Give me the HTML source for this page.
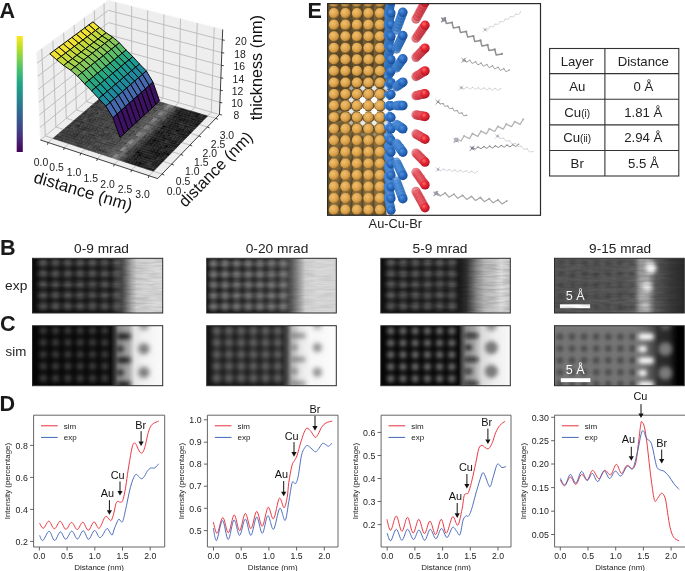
<!DOCTYPE html>
<html><head><meta charset="utf-8"><title>Figure</title>
<style>html,body{margin:0;padding:0;background:#fff;width:685px;height:571px;overflow:hidden}svg{display:block;will-change:transform}</style>
</head><body>
<svg width="685" height="571" viewBox="0 0 685 571" font-family="Liberation Sans, sans-serif">
<defs><filter id="blur1_2" x="-20%" y="-20%" width="140%" height="140%"><feGaussianBlur stdDeviation="1.2"/></filter><filter id="blur1_6" x="-20%" y="-20%" width="140%" height="140%"><feGaussianBlur stdDeviation="1.6"/></filter><filter id="blur2_0" x="-20%" y="-20%" width="140%" height="140%"><feGaussianBlur stdDeviation="2.0"/></filter><filter id="blur2_4" x="-20%" y="-20%" width="140%" height="140%"><feGaussianBlur stdDeviation="2.4"/></filter><filter id="blur2_8" x="-20%" y="-20%" width="140%" height="140%"><feGaussianBlur stdDeviation="2.8"/></filter><filter id="noise" x="0" y="0" width="100%" height="100%"><feTurbulence type="fractalNoise" baseFrequency="0.06 0.45" numOctaves="2" seed="7"/><feColorMatrix type="matrix" values="0 0 0 0 0  0 0 0 0 0  0 0 0 0 0  1.4 0 0 0 -0.5"/><feGaussianBlur stdDeviation="0.6 0.3"/></filter><clipPath id="clipb1"><rect x="32.5" y="258.3" width="130.2" height="54.7"/></clipPath><linearGradient id="gb1" x1="0" y1="0" x2="1" y2="0"><stop offset="0.000" stop-color="#0b0b0b"/><stop offset="0.600" stop-color="#141414"/><stop offset="0.680" stop-color="#3a3a3a"/><stop offset="0.760" stop-color="#a8a8a8"/><stop offset="0.800" stop-color="#cfcfcf"/><stop offset="0.900" stop-color="#d8d8d8"/><stop offset="1.000" stop-color="#dcdcdc"/></linearGradient><clipPath id="clipb2"><rect x="206.7" y="258.3" width="129.6" height="54.7"/></clipPath><linearGradient id="gb2" x1="0" y1="0" x2="1" y2="0"><stop offset="0.000" stop-color="#0e0e0e"/><stop offset="0.550" stop-color="#202020"/><stop offset="0.620" stop-color="#343434"/><stop offset="0.700" stop-color="#8a8a8a"/><stop offset="0.760" stop-color="#d0d0d0"/><stop offset="0.850" stop-color="#dadada"/><stop offset="1.000" stop-color="#d8d8d8"/></linearGradient><clipPath id="clipb3"><rect x="380.8" y="258.3" width="129.5" height="54.7"/></clipPath><linearGradient id="gb3" x1="0" y1="0" x2="1" y2="0"><stop offset="0.000" stop-color="#0e0e0e"/><stop offset="0.600" stop-color="#161616"/><stop offset="0.660" stop-color="#303030"/><stop offset="0.740" stop-color="#8a8a8a"/><stop offset="0.800" stop-color="#b8b8b8"/><stop offset="0.880" stop-color="#c8c8c8"/><stop offset="0.930" stop-color="#e0e0e0"/><stop offset="1.000" stop-color="#c8c8c8"/></linearGradient><clipPath id="clipb4"><rect x="554.5" y="258.3" width="129.8" height="54.7"/></clipPath><linearGradient id="gb4" x1="0" y1="0" x2="1" y2="0"><stop offset="0.000" stop-color="#5a5a5a"/><stop offset="0.550" stop-color="#5c5c5c"/><stop offset="0.620" stop-color="#6a6a6a"/><stop offset="0.660" stop-color="#9a9a9a"/><stop offset="0.720" stop-color="#a0a0a0"/><stop offset="0.780" stop-color="#5a5a5a"/><stop offset="0.900" stop-color="#3a3a3a"/><stop offset="1.000" stop-color="#2a2a2a"/></linearGradient><clipPath id="clipc1"><rect x="32.5" y="325.7" width="130.2" height="60.0"/></clipPath><linearGradient id="gc1" x1="0" y1="0" x2="1" y2="0"><stop offset="0.000" stop-color="#050505"/><stop offset="0.600" stop-color="#080808"/><stop offset="0.630" stop-color="#383838"/><stop offset="0.660" stop-color="#8a8a8a"/><stop offset="0.740" stop-color="#a8a8a8"/><stop offset="0.785" stop-color="#e6e6e6"/><stop offset="0.860" stop-color="#f2f2f2"/><stop offset="1.000" stop-color="#fafafa"/></linearGradient><clipPath id="clipc2"><rect x="206.7" y="325.7" width="129.6" height="60.0"/></clipPath><linearGradient id="gc2" x1="0" y1="0" x2="1" y2="0"><stop offset="0.000" stop-color="#141414"/><stop offset="0.580" stop-color="#181818"/><stop offset="0.620" stop-color="#4a4a4a"/><stop offset="0.660" stop-color="#b8b8b8"/><stop offset="0.720" stop-color="#e6e6e6"/><stop offset="0.800" stop-color="#f6f6f6"/><stop offset="1.000" stop-color="#fcfcfc"/></linearGradient><clipPath id="clipc3"><rect x="380.8" y="325.7" width="129.5" height="60.0"/></clipPath><linearGradient id="gc3" x1="0" y1="0" x2="1" y2="0"><stop offset="0.000" stop-color="#050505"/><stop offset="0.600" stop-color="#080808"/><stop offset="0.630" stop-color="#505050"/><stop offset="0.660" stop-color="#8a8a8a"/><stop offset="0.720" stop-color="#a4a4a4"/><stop offset="0.780" stop-color="#dadada"/><stop offset="0.880" stop-color="#eeeeee"/><stop offset="1.000" stop-color="#f8f8f8"/></linearGradient><clipPath id="clipc4"><rect x="554.5" y="325.7" width="129.8" height="60.0"/></clipPath><linearGradient id="gc4" x1="0" y1="0" x2="1" y2="0"><stop offset="0.000" stop-color="#787878"/><stop offset="0.620" stop-color="#787878"/><stop offset="0.700" stop-color="#686868"/><stop offset="0.760" stop-color="#4c4c4c"/><stop offset="0.800" stop-color="#2e2e2e"/><stop offset="0.880" stop-color="#262626"/><stop offset="0.920" stop-color="#101010"/><stop offset="0.950" stop-color="#000"/><stop offset="1.000" stop-color="#000"/></linearGradient><linearGradient id="cbar" x1="0" y1="0" x2="0" y2="1"><stop offset="0.00" stop-color="#fde725"/><stop offset="0.10" stop-color="#bddf26"/><stop offset="0.20" stop-color="#7ad151"/><stop offset="0.30" stop-color="#44bf70"/><stop offset="0.40" stop-color="#22a884"/><stop offset="0.50" stop-color="#21918c"/><stop offset="0.60" stop-color="#2a788e"/><stop offset="0.70" stop-color="#355f8d"/><stop offset="0.80" stop-color="#414487"/><stop offset="0.90" stop-color="#482475"/><stop offset="1.00" stop-color="#440154"/></linearGradient><clipPath id="eclip"><rect x="327.6" y="3.6" width="212.9" height="211.7"/></clipPath><radialGradient id="gF" cx="0.38" cy="0.35" r="0.65"><stop offset="0" stop-color="#f0c070"/><stop offset="0.55" stop-color="#e0a750"/><stop offset="0.85" stop-color="#c99240"/><stop offset="1" stop-color="#9c7030"/></radialGradient><radialGradient id="gB" cx="0.38" cy="0.35" r="0.65"><stop offset="0" stop-color="#9c7e48"/><stop offset="0.7" stop-color="#786035"/><stop offset="1" stop-color="#4e3e22"/></radialGradient><radialGradient id="cuF" cx="0.38" cy="0.35" r="0.65"><stop offset="0" stop-color="#4f92e0"/><stop offset="0.5" stop-color="#2c6cc0"/><stop offset="0.9" stop-color="#1d55a4"/><stop offset="1" stop-color="#174a90"/></radialGradient><radialGradient id="cuB" cx="0.38" cy="0.35" r="0.65"><stop offset="0" stop-color="#5c9ae2"/><stop offset="0.6" stop-color="#3a7ac8"/><stop offset="1" stop-color="#2462ac"/></radialGradient><radialGradient id="brF" cx="0.38" cy="0.35" r="0.65"><stop offset="0" stop-color="#ff6a6a"/><stop offset="0.45" stop-color="#e82834"/><stop offset="0.9" stop-color="#c01826"/><stop offset="1" stop-color="#a01420"/></radialGradient><radialGradient id="brB" cx="0.38" cy="0.35" r="0.65"><stop offset="0" stop-color="#f07078"/><stop offset="0.6" stop-color="#d8404c"/><stop offset="1" stop-color="#b8303c"/></radialGradient></defs>
<rect width="685" height="571" fill="#fff"/>
<text x="-0.5" y="17.5" font-size="21.6" font-weight="bold" fill="#1a1a1a">A</text>
<text x="307.6" y="17.7" font-size="21.6" font-weight="bold" fill="#1a1a1a">E</text>
<text x="0.0" y="255.4" font-size="21.6" font-weight="bold" fill="#1a1a1a">B</text>
<text x="-0.1" y="330.9" font-size="21.6" font-weight="bold" fill="#1a1a1a">C</text>
<text x="-0.4" y="411.2" font-size="21.6" font-weight="bold" fill="#1a1a1a">D</text>
<rect x="549.6" y="48.5" width="129.19999999999993" height="127.5" fill="none" stroke="#333" stroke-width="1.1"/>
<path d="M549.6,73.6H678.8" stroke="#333" stroke-width="1.1"/>
<path d="M549.6,99.2H678.8" stroke="#333" stroke-width="1.1"/>
<path d="M549.6,124.9H678.8" stroke="#333" stroke-width="1.1"/>
<path d="M549.6,150.5H678.8" stroke="#333" stroke-width="1.1"/>
<path d="M604.9,48.5V176.0" stroke="#333" stroke-width="1.1"/>
<text x="577.2" y="65.9" font-size="13.2" text-anchor="middle" fill="#222">Layer</text>
<text x="643.3" y="65.9" font-size="13.2" text-anchor="middle" fill="#222">Distance</text>
<text x="577.2" y="91.0" font-size="13.2" text-anchor="middle" fill="#222">Au</text>
<text x="643.3" y="91.0" font-size="13.2" text-anchor="middle" fill="#222">0 Å</text>
<text x="577.2" y="116.6" font-size="13.2" text-anchor="middle" fill="#222">Cu<tspan font-size="10">(i)</tspan></text>
<text x="643.3" y="116.6" font-size="13.2" text-anchor="middle" fill="#222">1.81 Å</text>
<text x="577.2" y="142.3" font-size="13.2" text-anchor="middle" fill="#222">Cu<tspan font-size="10">(ii)</tspan></text>
<text x="643.3" y="142.3" font-size="13.2" text-anchor="middle" fill="#222">2.94 Å</text>
<text x="577.2" y="167.9" font-size="13.2" text-anchor="middle" fill="#222">Br</text>
<text x="643.3" y="167.9" font-size="13.2" text-anchor="middle" fill="#222">5.5 Å</text>
<text x="74" y="253.2" font-size="13.4" textLength="54.9" lengthAdjust="spacingAndGlyphs" fill="#222">0-9 mrad</text>
<text x="245.7" y="253.2" font-size="13.4" textLength="62.6" lengthAdjust="spacingAndGlyphs" fill="#222">0-20 mrad</text>
<text x="412.6" y="253.2" font-size="13.4" textLength="54.9" lengthAdjust="spacingAndGlyphs" fill="#222">5-9 mrad</text>
<text x="589.1" y="253.2" font-size="13.4" textLength="62.1" lengthAdjust="spacingAndGlyphs" fill="#222">9-15 mrad</text>
<text x="5.1" y="290.1" font-size="13" textLength="22.2" lengthAdjust="spacingAndGlyphs" fill="#222">exp</text>
<text x="5.6" y="356.1" font-size="13" textLength="20.7" lengthAdjust="spacingAndGlyphs" fill="#222">sim</text>
<text x="368.6" y="228.3" font-size="12.8" fill="#222">Au-Cu-Br</text>
<path d="M33.6,415.2H164.7M33.6,415.2V547.0H164.7" fill="none" stroke="#555" stroke-width="0.9"/>
<path d="M164.7,415.2V547.0" stroke="#555" stroke-width="0.9"/>
<path d="M30.1,541.4H33.6" stroke="#555" stroke-width="0.9"/>
<text x="27.8" y="544.6" font-size="8.8" text-anchor="end" fill="#222">0.2</text>
<path d="M30.1,509.4H33.6" stroke="#555" stroke-width="0.9"/>
<text x="27.8" y="512.6" font-size="8.8" text-anchor="end" fill="#222">0.4</text>
<path d="M30.1,477.4H33.6" stroke="#555" stroke-width="0.9"/>
<text x="27.8" y="480.59999999999997" font-size="8.8" text-anchor="end" fill="#222">0.6</text>
<path d="M30.1,445.4H33.6" stroke="#555" stroke-width="0.9"/>
<text x="27.8" y="448.59999999999997" font-size="8.8" text-anchor="end" fill="#222">0.8</text>
<path d="M39.4,547.0V550.5" stroke="#555" stroke-width="0.9"/>
<text x="39.4" y="559.4" font-size="8.7" text-anchor="middle" fill="#222">0.0</text>
<path d="M67.1,547.0V550.5" stroke="#555" stroke-width="0.9"/>
<text x="67.1" y="559.4" font-size="8.7" text-anchor="middle" fill="#222">0.5</text>
<path d="M94.8,547.0V550.5" stroke="#555" stroke-width="0.9"/>
<text x="94.8" y="559.4" font-size="8.7" text-anchor="middle" fill="#222">1.0</text>
<path d="M122.5,547.0V550.5" stroke="#555" stroke-width="0.9"/>
<text x="122.5" y="559.4" font-size="8.7" text-anchor="middle" fill="#222">1.5</text>
<path d="M150.2,547.0V550.5" stroke="#555" stroke-width="0.9"/>
<text x="150.2" y="559.4" font-size="8.7" text-anchor="middle" fill="#222">2.0</text>
<text x="99.1" y="569.8" font-size="8" text-anchor="middle" fill="#222">Distance (nm)</text>
<text transform="translate(10.4,481.1) rotate(-90)" font-size="7.9" text-anchor="middle" fill="#222">Intensity (percentage)</text>
<path d="M41.0,425.8h16.7" stroke="#e8303a" stroke-width="1"/>
<path d="M41.0,437.4h16.7" stroke="#4466bb" stroke-width="1"/>
<text x="63.8" y="428.7" font-size="8" fill="#222">sim</text>
<text x="63.8" y="440.3" font-size="8" fill="#222">exp</text>
<path d="M39.6,523.2C40.2,524.1 41.9,528.6 43.4,528.3C44.9,527.9 47.0,521.0 48.8,521.1C50.6,521.2 52.5,528.8 54.4,528.8C56.3,528.8 58.3,521.2 60.2,521.3C62.1,521.4 63.9,529.1 65.8,529.3C67.7,529.5 69.7,522.4 71.6,522.4C73.5,522.4 75.3,529.5 77.2,529.5C79.1,529.5 81.0,522.1 82.8,522.2C84.6,522.3 86.4,530.3 88.3,530.3C90.2,530.2 92.2,522.2 94.0,521.9C95.8,521.6 97.3,529.2 99.2,528.3C101.1,527.4 103.6,517.9 105.5,516.6C107.4,515.3 109.5,520.9 110.8,520.6C112.1,520.3 112.5,517.6 113.4,514.7C114.3,511.9 115.2,505.7 116.0,503.5C116.8,501.3 117.3,501.5 118.0,501.3C118.7,501.1 119.5,502.2 120.2,502.2C120.9,502.2 121.6,502.5 122.2,501.5C122.8,500.5 123.3,498.9 123.9,496.3C124.5,493.7 125.2,490.2 125.9,485.8C126.6,481.4 127.2,475.9 128.1,470.2C129.0,464.5 130.4,456.1 131.2,451.8C132.0,447.5 132.4,445.9 133.0,444.4C133.6,442.9 134.0,443.0 134.5,443.0C135.0,443.0 135.4,443.2 136.1,444.4C136.8,445.5 137.7,448.5 138.5,449.9C139.3,451.3 140.2,452.7 141.0,453.0C141.8,453.3 142.4,453.0 143.1,451.8C143.8,450.6 144.5,448.5 145.3,445.6C146.1,442.7 146.9,437.7 147.7,434.6C148.5,431.6 149.3,429.1 150.2,427.3C151.1,425.5 151.8,424.6 153.2,423.6C154.6,422.6 157.8,421.5 158.7,421.1" fill="none" stroke="#e8303a" stroke-width="0.95"/>
<path d="M39.6,535.4C40.1,536.2 41.3,541.2 42.9,540.5C44.5,539.8 47.1,531.3 49.1,531.3C51.1,531.3 52.7,540.4 54.6,540.5C56.5,540.6 58.4,532.1 60.3,531.9C62.2,531.7 63.9,539.4 65.8,539.3C67.7,539.2 69.9,531.1 71.8,531.1C73.7,531.1 75.5,539.0 77.4,539.0C79.3,539.0 81.3,530.8 83.2,530.8C85.1,530.8 86.7,539.3 88.6,539.3C90.5,539.2 92.6,530.8 94.5,530.5C96.4,530.2 98.2,538.0 100.2,537.7C102.2,537.4 105.1,529.9 106.6,528.8C108.1,527.7 108.3,530.1 109.2,531.1C110.1,532.1 111.2,535.5 112.1,535.0C113.0,534.5 113.6,530.4 114.7,527.8C115.8,525.2 117.5,520.3 118.6,519.3C119.7,518.3 120.5,521.8 121.3,521.9C122.1,522.0 122.3,522.6 123.2,519.9C124.1,517.2 125.5,510.0 126.5,505.5C127.5,501.0 128.2,496.8 129.1,493.0C130.0,489.2 130.7,485.6 131.8,482.5C132.9,479.4 134.4,475.5 135.5,474.5C136.6,473.5 137.5,475.6 138.5,476.3C139.5,477.0 140.4,478.6 141.3,478.7C142.2,478.8 143.0,478.1 144.0,476.9C145.0,475.7 146.1,472.8 147.1,471.4C148.1,470.0 149.3,468.9 150.2,468.3C151.1,467.7 151.8,468.1 152.6,468.0C153.4,467.9 154.1,468.4 155.1,467.7C156.1,467.0 158.1,464.4 158.7,463.8" fill="none" stroke="#4466bb" stroke-width="0.95"/>
<text x="140.8" y="429.3" font-size="10.9" text-anchor="middle" fill="#111">Br</text>
<path d="M141.1,431.2V441.7" stroke="#111" stroke-width="1"/>
<path d="M138.5,441.4L143.7,441.4L141.1,446.0Z" fill="#111"/>
<text x="117.7" y="478.9" font-size="10.9" text-anchor="middle" fill="#111">Cu</text>
<path d="M120.0,481.5V491.3" stroke="#111" stroke-width="1"/>
<path d="M117.4,491.0L122.6,491.0L120.0,495.6Z" fill="#111"/>
<text x="107.5" y="497.0" font-size="10.9" text-anchor="middle" fill="#111">Au</text>
<path d="M109.4,500.2V510.5" stroke="#111" stroke-width="1"/>
<path d="M106.8,510.2L112.0,510.2L109.4,514.8Z" fill="#111"/>
<path d="M207.4,415.2H338.0M207.4,415.2V547.0H338.0" fill="none" stroke="#555" stroke-width="0.9"/>
<path d="M338.0,415.2V547.0" stroke="#555" stroke-width="0.9"/>
<path d="M203.9,530.6H207.4" stroke="#555" stroke-width="0.9"/>
<text x="201.6" y="533.8000000000001" font-size="8.8" text-anchor="end" fill="#222">0.5</text>
<path d="M203.9,508.3H207.4" stroke="#555" stroke-width="0.9"/>
<text x="201.6" y="511.5" font-size="8.8" text-anchor="end" fill="#222">0.6</text>
<path d="M203.9,486.2H207.4" stroke="#555" stroke-width="0.9"/>
<text x="201.6" y="489.4" font-size="8.8" text-anchor="end" fill="#222">0.7</text>
<path d="M203.9,464.1H207.4" stroke="#555" stroke-width="0.9"/>
<text x="201.6" y="467.3" font-size="8.8" text-anchor="end" fill="#222">0.8</text>
<path d="M203.9,442.2H207.4" stroke="#555" stroke-width="0.9"/>
<text x="201.6" y="445.4" font-size="8.8" text-anchor="end" fill="#222">0.9</text>
<path d="M203.9,419.8H207.4" stroke="#555" stroke-width="0.9"/>
<text x="201.6" y="423.0" font-size="8.8" text-anchor="end" fill="#222">1.0</text>
<path d="M213.5,547.0V550.5" stroke="#555" stroke-width="0.9"/>
<text x="213.5" y="559.4" font-size="8.7" text-anchor="middle" fill="#222">0.0</text>
<path d="M241.2,547.0V550.5" stroke="#555" stroke-width="0.9"/>
<text x="241.2" y="559.4" font-size="8.7" text-anchor="middle" fill="#222">0.5</text>
<path d="M268.9,547.0V550.5" stroke="#555" stroke-width="0.9"/>
<text x="268.9" y="559.4" font-size="8.7" text-anchor="middle" fill="#222">1.0</text>
<path d="M296.6,547.0V550.5" stroke="#555" stroke-width="0.9"/>
<text x="296.6" y="559.4" font-size="8.7" text-anchor="middle" fill="#222">1.5</text>
<path d="M324.3,547.0V550.5" stroke="#555" stroke-width="0.9"/>
<text x="324.3" y="559.4" font-size="8.7" text-anchor="middle" fill="#222">2.0</text>
<text x="272.7" y="569.8" font-size="8" text-anchor="middle" fill="#222">Distance (nm)</text>
<text transform="translate(184.2,481.1) rotate(-90)" font-size="7.9" text-anchor="middle" fill="#222">Intensity (percentage)</text>
<path d="M214.8,425.8h16.7" stroke="#e8303a" stroke-width="1"/>
<path d="M214.8,437.4h16.7" stroke="#4466bb" stroke-width="1"/>
<text x="237.6" y="428.7" font-size="8" fill="#222">sim</text>
<text x="237.6" y="440.3" font-size="8" fill="#222">exp</text>
<path d="M213.3,522.1C214.0,524.0 215.6,534.1 217.2,533.3C218.8,532.5 220.9,517.6 222.8,517.5C224.7,517.4 226.5,533.2 228.4,532.8C230.3,532.4 232.3,515.2 234.2,514.9C236.1,514.6 237.8,531.0 239.6,530.8C241.4,530.5 243.4,513.8 245.3,513.4C247.2,513.0 249.0,529.0 250.9,528.7C252.8,528.4 254.8,511.8 256.7,511.4C258.6,511.0 260.4,526.9 262.3,526.2C264.2,525.5 266.2,508.5 268.1,507.3C270.0,506.1 271.6,520.3 273.5,518.8C275.4,517.3 277.6,500.1 279.3,498.3C281.1,496.5 282.7,508.0 284.0,507.8C285.3,507.6 286.4,501.5 287.2,497.3C288.0,493.1 288.0,487.9 288.8,482.6C289.6,477.4 290.9,469.5 291.9,465.8C292.8,462.1 293.6,462.2 294.5,460.5C295.4,458.8 296.1,458.2 297.1,455.3C298.1,452.4 299.4,446.8 300.6,443.0C301.8,439.2 303.0,435.0 304.1,432.5C305.2,430.0 305.9,428.2 307.1,428.1C308.3,428.0 309.8,430.1 311.1,431.6C312.5,433.2 314.0,436.9 315.2,437.4C316.4,437.8 317.0,436.0 318.1,434.3C319.2,432.6 320.3,429.2 321.6,427.3C322.9,425.4 324.2,423.9 326.0,422.9C327.8,421.9 331.1,421.4 332.1,421.1" fill="none" stroke="#e8303a" stroke-width="0.95"/>
<path d="M213.3,528.2C213.9,530.2 215.1,541.8 216.6,540.5C218.1,539.2 220.6,520.7 222.5,520.5C224.4,520.3 226.3,539.6 228.2,539.5C230.1,539.4 232.1,520.7 234.0,520.0C235.9,519.3 237.7,535.6 239.6,535.4C241.5,535.2 243.4,519.0 245.3,519.0C247.2,519.0 249.0,535.7 250.9,535.4C252.8,535.1 254.8,517.4 256.7,517.0C258.6,516.6 260.4,533.5 262.3,533.3C264.2,533.1 265.9,516.4 267.8,515.7C269.7,515.0 271.5,530.5 273.5,529.3C275.5,528.1 277.9,509.8 279.8,508.3C281.7,506.8 283.6,521.5 285.1,520.4C286.6,519.3 287.7,507.6 288.8,501.5C289.9,495.4 291.1,486.8 291.9,483.6C292.7,480.4 292.9,482.1 293.5,482.1C294.1,482.1 294.8,484.6 295.6,483.6C296.4,482.6 297.2,481.0 298.2,476.3C299.2,471.6 300.4,460.1 301.5,455.3C302.6,450.5 304.0,449.0 305.0,447.4C306.0,445.8 306.4,445.3 307.6,445.6C308.8,445.9 310.7,448.1 312.0,449.1C313.3,450.1 314.3,451.9 315.5,451.8C316.7,451.7 317.8,449.7 319.0,448.3C320.2,446.9 321.3,444.0 322.5,443.4C323.7,442.8 325.0,444.3 326.0,444.8C327.0,445.3 327.6,446.5 328.6,446.2C329.6,445.9 331.5,443.5 332.1,443.0" fill="none" stroke="#4466bb" stroke-width="0.95"/>
<text x="315.0" y="413.4" font-size="10.9" text-anchor="middle" fill="#111">Br</text>
<path d="M315.0,415.8V426.4" stroke="#111" stroke-width="1"/>
<path d="M312.4,426.1L317.6,426.1L315.0,430.7Z" fill="#111"/>
<text x="291.7" y="439.5" font-size="10.9" text-anchor="middle" fill="#111">Cu</text>
<path d="M294.0,442.1V452.4" stroke="#111" stroke-width="1"/>
<path d="M291.4,452.1L296.6,452.1L294.0,456.7Z" fill="#111"/>
<text x="281.5" y="478.4" font-size="10.9" text-anchor="middle" fill="#111">Au</text>
<path d="M283.7,481.0V492.0" stroke="#111" stroke-width="1"/>
<path d="M281.1,491.7L286.3,491.7L283.7,496.3Z" fill="#111"/>
<path d="M381.1,415.2H511.0M381.1,415.2V547.0H511.0" fill="none" stroke="#555" stroke-width="0.9"/>
<path d="M511.0,415.2V547.0" stroke="#555" stroke-width="0.9"/>
<path d="M377.6,524.6H381.1" stroke="#555" stroke-width="0.9"/>
<text x="375.3" y="527.8000000000001" font-size="8.8" text-anchor="end" fill="#222">0.2</text>
<path d="M377.6,501.5H381.1" stroke="#555" stroke-width="0.9"/>
<text x="375.3" y="504.7" font-size="8.8" text-anchor="end" fill="#222">0.3</text>
<path d="M377.6,478.5H381.1" stroke="#555" stroke-width="0.9"/>
<text x="375.3" y="481.7" font-size="8.8" text-anchor="end" fill="#222">0.4</text>
<path d="M377.6,455.5H381.1" stroke="#555" stroke-width="0.9"/>
<text x="375.3" y="458.7" font-size="8.8" text-anchor="end" fill="#222">0.5</text>
<path d="M377.6,432.4H381.1" stroke="#555" stroke-width="0.9"/>
<text x="375.3" y="435.59999999999997" font-size="8.8" text-anchor="end" fill="#222">0.6</text>
<path d="M387.2,547.0V550.5" stroke="#555" stroke-width="0.9"/>
<text x="387.2" y="559.4" font-size="8.7" text-anchor="middle" fill="#222">0.0</text>
<path d="M414.9,547.0V550.5" stroke="#555" stroke-width="0.9"/>
<text x="414.9" y="559.4" font-size="8.7" text-anchor="middle" fill="#222">0.5</text>
<path d="M442.6,547.0V550.5" stroke="#555" stroke-width="0.9"/>
<text x="442.6" y="559.4" font-size="8.7" text-anchor="middle" fill="#222">1.0</text>
<path d="M470.3,547.0V550.5" stroke="#555" stroke-width="0.9"/>
<text x="470.3" y="559.4" font-size="8.7" text-anchor="middle" fill="#222">1.5</text>
<path d="M498.0,547.0V550.5" stroke="#555" stroke-width="0.9"/>
<text x="498.0" y="559.4" font-size="8.7" text-anchor="middle" fill="#222">2.0</text>
<text x="446.1" y="569.8" font-size="8" text-anchor="middle" fill="#222">Distance (nm)</text>
<text transform="translate(357.9,481.1) rotate(-90)" font-size="7.9" text-anchor="middle" fill="#222">Intensity (percentage)</text>
<path d="M388.5,425.8h16.7" stroke="#e8303a" stroke-width="1"/>
<path d="M388.5,437.4h16.7" stroke="#4466bb" stroke-width="1"/>
<text x="411.3" y="428.7" font-size="8" fill="#222">sim</text>
<text x="411.3" y="440.3" font-size="8" fill="#222">exp</text>
<path d="M386.9,519.3C387.5,521.1 389.1,530.8 390.7,530.3C392.3,529.8 394.4,515.8 396.3,516.0C398.2,516.2 400.0,531.2 401.9,531.4C403.8,531.6 405.6,517.0 407.5,517.3C409.4,517.6 411.2,532.8 413.1,533.1C415.0,533.4 416.9,519.2 418.8,519.3C420.7,519.4 422.5,533.3 424.4,533.6C426.3,533.9 428.1,520.9 430.0,521.1C431.9,521.3 433.7,534.9 435.6,534.6C437.5,534.3 439.4,519.5 441.2,519.3C443.0,519.1 444.4,533.6 446.3,533.2C448.2,532.8 450.7,518.1 452.6,516.8C454.5,515.5 456.2,526.4 457.8,525.2C459.4,524.0 460.9,514.4 462.0,509.5C463.1,504.6 463.4,498.4 464.1,495.8C464.8,493.2 465.5,494.2 466.2,493.7C466.9,493.2 467.4,494.6 468.3,492.7C469.2,490.8 470.3,487.1 471.5,482.2C472.7,477.3 474.5,468.9 475.7,463.3C476.9,457.7 477.8,451.6 478.8,448.6C479.9,445.6 480.9,445.6 482.0,445.4C483.1,445.2 484.0,447.0 485.1,447.5C486.2,448.0 487.5,449.5 488.7,448.6C489.9,447.7 491.4,444.9 492.5,442.3C493.6,439.7 494.4,435.6 495.6,432.8C496.8,430.0 498.2,427.4 499.8,425.5C501.4,423.6 504.2,422.0 505.1,421.3" fill="none" stroke="#e8303a" stroke-width="0.95"/>
<path d="M387.1,533.1C387.7,534.4 389.2,541.4 390.7,540.8C392.2,540.2 394.4,529.4 396.3,529.3C398.2,529.2 400.0,540.3 401.9,540.3C403.8,540.3 405.6,529.4 407.5,529.3C409.4,529.2 411.6,539.4 413.5,539.5C415.4,539.6 417.1,529.9 419.0,530.0C420.9,530.1 422.8,540.4 424.7,540.3C426.6,540.2 428.3,529.6 430.2,529.3C432.1,529.0 434.0,538.8 435.9,538.7C437.8,538.6 439.6,528.7 441.5,528.5C443.4,528.3 445.1,537.7 447.0,537.5C448.9,537.3 451.0,528.3 452.6,527.3C454.2,526.3 455.6,530.3 456.8,531.5C458.0,532.7 458.9,536.5 460.0,534.6C461.1,532.7 462.1,523.1 463.1,520.0C464.1,516.9 465.3,516.4 466.2,515.8C467.1,515.2 467.4,517.2 468.3,516.2C469.2,515.2 470.1,513.8 471.5,509.5C472.9,505.2 475.1,496.0 476.7,490.6C478.3,485.2 479.8,479.9 480.9,476.9C481.9,473.9 482.3,472.9 483.0,472.7C483.7,472.5 484.2,474.0 485.1,475.9C486.0,477.8 487.4,482.6 488.3,484.3C489.2,486.1 489.5,487.8 490.4,486.4C491.3,485.0 492.4,479.4 493.5,475.9C494.6,472.4 495.8,467.3 496.7,465.4C497.6,463.5 497.9,463.9 498.8,464.3C499.7,464.7 500.7,467.1 501.9,467.5C503.1,467.9 505.4,466.6 506.1,466.4" fill="none" stroke="#4466bb" stroke-width="0.95"/>
<text x="486.6" y="425.9" font-size="10.9" text-anchor="middle" fill="#111">Br</text>
<path d="M487.9,428.6V439.7" stroke="#111" stroke-width="1"/>
<path d="M485.3,439.4L490.5,439.4L487.9,444.0Z" fill="#111"/>
<text x="465.9" y="471.3" font-size="10.9" text-anchor="middle" fill="#111">Cu</text>
<path d="M466.9,474.0V484.2" stroke="#111" stroke-width="1"/>
<path d="M464.3,483.9L469.5,483.9L466.9,488.5Z" fill="#111"/>
<text x="455.4" y="500.0" font-size="10.9" text-anchor="middle" fill="#111">Au</text>
<path d="M457.2,503.0V513.6" stroke="#111" stroke-width="1"/>
<path d="M454.6,513.3L459.8,513.3L457.2,517.9Z" fill="#111"/>
<path d="M554.6,415.2H700M554.6,415.2V547.0H700" fill="none" stroke="#555" stroke-width="0.9"/>
<path d="M551.1,534.5H554.6" stroke="#555" stroke-width="0.9"/>
<text x="548.8000000000001" y="537.7" font-size="8.8" text-anchor="end" fill="#222">0.05</text>
<path d="M551.1,511.2H554.6" stroke="#555" stroke-width="0.9"/>
<text x="548.8000000000001" y="514.4" font-size="8.8" text-anchor="end" fill="#222">0.10</text>
<path d="M551.1,487.6H554.6" stroke="#555" stroke-width="0.9"/>
<text x="548.8000000000001" y="490.8" font-size="8.8" text-anchor="end" fill="#222">0.15</text>
<path d="M551.1,464.0H554.6" stroke="#555" stroke-width="0.9"/>
<text x="548.8000000000001" y="467.2" font-size="8.8" text-anchor="end" fill="#222">0.20</text>
<path d="M551.1,440.7H554.6" stroke="#555" stroke-width="0.9"/>
<text x="548.8000000000001" y="443.9" font-size="8.8" text-anchor="end" fill="#222">0.25</text>
<path d="M551.1,417.3H554.6" stroke="#555" stroke-width="0.9"/>
<text x="548.8000000000001" y="420.5" font-size="8.8" text-anchor="end" fill="#222">0.30</text>
<path d="M560.3,547.0V550.5" stroke="#555" stroke-width="0.9"/>
<text x="560.3" y="559.4" font-size="8.7" text-anchor="middle" fill="#222">0.0</text>
<path d="M588.0,547.0V550.5" stroke="#555" stroke-width="0.9"/>
<text x="588.0" y="559.4" font-size="8.7" text-anchor="middle" fill="#222">0.5</text>
<path d="M615.7,547.0V550.5" stroke="#555" stroke-width="0.9"/>
<text x="615.7" y="559.4" font-size="8.7" text-anchor="middle" fill="#222">1.0</text>
<path d="M643.4,547.0V550.5" stroke="#555" stroke-width="0.9"/>
<text x="643.4" y="559.4" font-size="8.7" text-anchor="middle" fill="#222">1.5</text>
<path d="M671.1,547.0V550.5" stroke="#555" stroke-width="0.9"/>
<text x="671.1" y="559.4" font-size="8.7" text-anchor="middle" fill="#222">2.0</text>
<text x="620.1" y="569.8" font-size="8" text-anchor="middle" fill="#222">Distance (nm)</text>
<text transform="translate(526.0,481.1) rotate(-90)" font-size="7.9" text-anchor="middle" fill="#222">Intensity (percentage)</text>
<path d="M562.0,425.8h16.7" stroke="#e8303a" stroke-width="1"/>
<path d="M562.0,437.4h16.7" stroke="#4466bb" stroke-width="1"/>
<text x="584.8" y="428.7" font-size="8" fill="#222">sim</text>
<text x="584.8" y="440.3" font-size="8" fill="#222">exp</text>
<path d="M560.3,480.0C561.0,480.9 563.0,486.2 564.7,485.7C566.4,485.2 568.4,477.2 570.3,477.0C572.2,476.8 574.0,484.8 575.9,484.4C577.8,484.0 579.6,475.1 581.5,474.4C583.4,473.7 585.4,480.7 587.2,480.0C589.1,479.3 590.7,470.5 592.6,470.3C594.5,470.1 596.9,478.7 598.9,478.7C600.9,478.7 602.8,470.9 604.8,470.3C606.8,469.7 608.8,475.9 610.7,474.9C612.6,473.9 614.5,464.6 616.3,464.4C618.1,464.1 619.8,473.1 621.4,473.4C623.0,473.7 624.8,467.6 626.0,466.3C627.2,465.0 627.4,465.4 628.5,465.8C629.6,466.2 631.4,469.2 632.6,468.7C633.8,468.2 634.8,466.7 635.8,462.6C636.8,458.5 637.5,450.6 638.3,444.3C639.1,438.0 640.1,428.5 640.7,424.7C641.3,420.9 641.3,421.3 641.9,421.7C642.5,422.1 643.6,423.8 644.4,427.1C645.2,430.5 646.0,435.7 646.8,441.8C647.6,447.9 648.5,456.9 649.3,463.8C650.1,470.7 650.8,477.3 651.7,483.4C652.6,489.5 653.6,498.2 654.6,500.6C655.6,503.1 656.6,499.3 657.8,498.1C658.9,496.9 660.3,493.2 661.5,493.2C662.7,493.2 664.2,494.8 665.2,498.1C666.2,501.4 666.8,507.9 667.6,512.8C668.4,517.7 669.1,523.4 670.1,527.5C671.1,531.6 672.2,535.1 673.7,537.3C675.2,539.5 678.2,540.3 679.1,540.9" fill="none" stroke="#e8303a" stroke-width="0.95"/>
<path d="M560.3,478.3C561.1,479.4 563.3,485.8 565.0,485.1C566.7,484.5 568.5,474.7 570.3,474.4C572.1,474.1 574.0,483.6 575.9,483.1C577.8,482.6 579.6,471.8 581.5,471.4C583.4,471.0 585.4,480.2 587.2,480.5C589.0,480.8 590.5,473.2 592.3,473.4C594.1,473.6 595.9,482.0 597.9,481.6C599.9,481.2 602.0,471.3 604.0,470.8C606.0,470.3 607.7,478.4 609.6,478.5C611.5,478.6 613.4,471.5 615.3,471.1C617.2,470.7 618.9,476.8 620.9,476.0C622.9,475.2 625.2,467.5 627.2,466.3C629.2,465.1 631.0,470.7 632.6,468.7C634.2,466.7 635.5,460.0 637.0,454.1C638.5,448.2 640.2,437.0 641.4,433.2C642.5,429.4 643.1,430.7 643.9,431.5C644.7,432.3 645.2,436.4 646.3,438.1C647.4,439.8 649.4,440.0 650.5,441.8C651.6,443.6 651.9,445.1 652.9,449.2C653.9,453.3 655.4,462.8 656.6,466.3C657.8,469.8 659.1,469.2 660.3,470.0C661.5,470.8 662.5,470.2 663.9,471.2C665.3,472.2 667.2,474.1 668.8,476.1C670.4,478.1 672.0,481.2 673.7,483.4C675.4,485.6 678.2,488.5 679.1,489.5" fill="none" stroke="#4466bb" stroke-width="0.95"/>
<text x="640.4" y="400.3" font-size="10.9" text-anchor="middle" fill="#111">Cu</text>
<path d="M641.0,404.1V413.8" stroke="#111" stroke-width="1"/>
<path d="M638.4,413.5L643.6,413.5L641.0,418.1Z" fill="#111"/>
<text x="628.3" y="443.3" font-size="10.9" text-anchor="middle" fill="#111">Au</text>
<path d="M631.3,446.8V456.5" stroke="#111" stroke-width="1"/>
<path d="M628.7,456.2L633.9,456.2L631.3,460.8Z" fill="#111"/>
<text x="661.7" y="446.8" font-size="10.9" text-anchor="middle" fill="#111">Br</text>
<path d="M661.7,449.6V459.3" stroke="#111" stroke-width="1"/>
<path d="M659.1,459.0L664.3,459.0L661.7,463.6Z" fill="#111"/>
<g clip-path="url(#clipb1)"><rect x="32.5" y="258.3" width="130.2" height="54.7" fill="url(#gb1)"/><g filter="url(#blur2_0)"><ellipse cx="43.2" cy="262.9" rx="5.0" ry="3.6" fill="#686868" fill-opacity="0.9"/><ellipse cx="43.2" cy="273.7" rx="5.0" ry="3.6" fill="#686868" fill-opacity="0.9"/><ellipse cx="43.2" cy="284.5" rx="5.0" ry="3.6" fill="#686868" fill-opacity="0.9"/><ellipse cx="43.2" cy="295.3" rx="5.0" ry="3.6" fill="#686868" fill-opacity="0.9"/><ellipse cx="43.2" cy="306.1" rx="5.0" ry="3.6" fill="#686868" fill-opacity="0.9"/><ellipse cx="55.5" cy="262.9" rx="5.0" ry="3.6" fill="#686868" fill-opacity="0.9"/><ellipse cx="55.5" cy="273.7" rx="5.0" ry="3.6" fill="#686868" fill-opacity="0.9"/><ellipse cx="55.5" cy="284.5" rx="5.0" ry="3.6" fill="#686868" fill-opacity="0.9"/><ellipse cx="55.5" cy="295.3" rx="5.0" ry="3.6" fill="#686868" fill-opacity="0.9"/><ellipse cx="55.5" cy="306.1" rx="5.0" ry="3.6" fill="#686868" fill-opacity="0.9"/><ellipse cx="67.8" cy="262.9" rx="5.0" ry="3.6" fill="#686868" fill-opacity="0.9"/><ellipse cx="67.8" cy="273.7" rx="5.0" ry="3.6" fill="#686868" fill-opacity="0.9"/><ellipse cx="67.8" cy="284.5" rx="5.0" ry="3.6" fill="#686868" fill-opacity="0.9"/><ellipse cx="67.8" cy="295.3" rx="5.0" ry="3.6" fill="#686868" fill-opacity="0.9"/><ellipse cx="67.8" cy="306.1" rx="5.0" ry="3.6" fill="#686868" fill-opacity="0.9"/><ellipse cx="80.1" cy="262.9" rx="5.0" ry="3.6" fill="#686868" fill-opacity="0.9"/><ellipse cx="80.1" cy="273.7" rx="5.0" ry="3.6" fill="#686868" fill-opacity="0.9"/><ellipse cx="80.1" cy="284.5" rx="5.0" ry="3.6" fill="#686868" fill-opacity="0.9"/><ellipse cx="80.1" cy="295.3" rx="5.0" ry="3.6" fill="#686868" fill-opacity="0.9"/><ellipse cx="80.1" cy="306.1" rx="5.0" ry="3.6" fill="#686868" fill-opacity="0.9"/><ellipse cx="92.4" cy="262.9" rx="5.0" ry="3.6" fill="#686868" fill-opacity="0.9"/><ellipse cx="92.4" cy="273.7" rx="5.0" ry="3.6" fill="#686868" fill-opacity="0.9"/><ellipse cx="92.4" cy="284.5" rx="5.0" ry="3.6" fill="#686868" fill-opacity="0.9"/><ellipse cx="92.4" cy="295.3" rx="5.0" ry="3.6" fill="#686868" fill-opacity="0.9"/><ellipse cx="92.4" cy="306.1" rx="5.0" ry="3.6" fill="#686868" fill-opacity="0.9"/><ellipse cx="104.7" cy="262.9" rx="5.0" ry="3.6" fill="#686868" fill-opacity="0.9"/><ellipse cx="104.7" cy="273.7" rx="5.0" ry="3.6" fill="#686868" fill-opacity="0.9"/><ellipse cx="104.7" cy="284.5" rx="5.0" ry="3.6" fill="#686868" fill-opacity="0.9"/><ellipse cx="104.7" cy="295.3" rx="5.0" ry="3.6" fill="#686868" fill-opacity="0.9"/><ellipse cx="104.7" cy="306.1" rx="5.0" ry="3.6" fill="#686868" fill-opacity="0.9"/><ellipse cx="117.0" cy="262.9" rx="5.0" ry="3.6" fill="#686868" fill-opacity="0.9"/><ellipse cx="117.0" cy="273.7" rx="5.0" ry="3.6" fill="#686868" fill-opacity="0.9"/><ellipse cx="117.0" cy="284.5" rx="5.0" ry="3.6" fill="#686868" fill-opacity="0.9"/><ellipse cx="117.0" cy="295.3" rx="5.0" ry="3.6" fill="#686868" fill-opacity="0.9"/><ellipse cx="117.0" cy="306.1" rx="5.0" ry="3.6" fill="#686868" fill-opacity="0.9"/></g><rect x="32.5" y="258.3" width="130.2" height="54.7" filter="url(#noise)" opacity="0.18"/></g><rect x="32.5" y="258.3" width="130.2" height="54.7" fill="none" stroke="#2a2a2a" stroke-width="1"/>
<g clip-path="url(#clipb2)"><rect x="206.7" y="258.3" width="129.6" height="54.7" fill="url(#gb2)"/><g filter="url(#blur2_0)"><ellipse cx="213.5" cy="263.6" rx="5.0" ry="4.0" fill="#888888" fill-opacity="0.9"/><ellipse cx="213.5" cy="274.3" rx="5.0" ry="4.0" fill="#888888" fill-opacity="0.9"/><ellipse cx="213.5" cy="285.0" rx="5.0" ry="4.0" fill="#888888" fill-opacity="0.9"/><ellipse cx="213.5" cy="295.7" rx="5.0" ry="4.0" fill="#888888" fill-opacity="0.9"/><ellipse cx="213.5" cy="306.4" rx="5.0" ry="4.0" fill="#888888" fill-opacity="0.9"/><ellipse cx="225.1" cy="263.6" rx="5.0" ry="4.0" fill="#888888" fill-opacity="0.9"/><ellipse cx="225.1" cy="274.3" rx="5.0" ry="4.0" fill="#888888" fill-opacity="0.9"/><ellipse cx="225.1" cy="285.0" rx="5.0" ry="4.0" fill="#888888" fill-opacity="0.9"/><ellipse cx="225.1" cy="295.7" rx="5.0" ry="4.0" fill="#888888" fill-opacity="0.9"/><ellipse cx="225.1" cy="306.4" rx="5.0" ry="4.0" fill="#888888" fill-opacity="0.9"/><ellipse cx="236.7" cy="263.6" rx="5.0" ry="4.0" fill="#888888" fill-opacity="0.9"/><ellipse cx="236.7" cy="274.3" rx="5.0" ry="4.0" fill="#888888" fill-opacity="0.9"/><ellipse cx="236.7" cy="285.0" rx="5.0" ry="4.0" fill="#888888" fill-opacity="0.9"/><ellipse cx="236.7" cy="295.7" rx="5.0" ry="4.0" fill="#888888" fill-opacity="0.9"/><ellipse cx="236.7" cy="306.4" rx="5.0" ry="4.0" fill="#888888" fill-opacity="0.9"/><ellipse cx="248.3" cy="263.6" rx="5.0" ry="4.0" fill="#888888" fill-opacity="0.9"/><ellipse cx="248.3" cy="274.3" rx="5.0" ry="4.0" fill="#888888" fill-opacity="0.9"/><ellipse cx="248.3" cy="285.0" rx="5.0" ry="4.0" fill="#888888" fill-opacity="0.9"/><ellipse cx="248.3" cy="295.7" rx="5.0" ry="4.0" fill="#888888" fill-opacity="0.9"/><ellipse cx="248.3" cy="306.4" rx="5.0" ry="4.0" fill="#888888" fill-opacity="0.9"/><ellipse cx="259.9" cy="263.6" rx="5.0" ry="4.0" fill="#888888" fill-opacity="0.9"/><ellipse cx="259.9" cy="274.3" rx="5.0" ry="4.0" fill="#888888" fill-opacity="0.9"/><ellipse cx="259.9" cy="285.0" rx="5.0" ry="4.0" fill="#888888" fill-opacity="0.9"/><ellipse cx="259.9" cy="295.7" rx="5.0" ry="4.0" fill="#888888" fill-opacity="0.9"/><ellipse cx="259.9" cy="306.4" rx="5.0" ry="4.0" fill="#888888" fill-opacity="0.9"/><ellipse cx="271.5" cy="263.6" rx="5.0" ry="4.0" fill="#888888" fill-opacity="0.9"/><ellipse cx="271.5" cy="274.3" rx="5.0" ry="4.0" fill="#888888" fill-opacity="0.9"/><ellipse cx="271.5" cy="285.0" rx="5.0" ry="4.0" fill="#888888" fill-opacity="0.9"/><ellipse cx="271.5" cy="295.7" rx="5.0" ry="4.0" fill="#888888" fill-opacity="0.9"/><ellipse cx="271.5" cy="306.4" rx="5.0" ry="4.0" fill="#888888" fill-opacity="0.9"/><ellipse cx="283.1" cy="263.6" rx="5.0" ry="4.0" fill="#888888" fill-opacity="0.9"/><ellipse cx="283.1" cy="274.3" rx="5.0" ry="4.0" fill="#888888" fill-opacity="0.9"/><ellipse cx="283.1" cy="285.0" rx="5.0" ry="4.0" fill="#888888" fill-opacity="0.9"/><ellipse cx="283.1" cy="295.7" rx="5.0" ry="4.0" fill="#888888" fill-opacity="0.9"/><ellipse cx="283.1" cy="306.4" rx="5.0" ry="4.0" fill="#888888" fill-opacity="0.9"/></g><rect x="206.7" y="258.3" width="129.6" height="54.7" filter="url(#noise)" opacity="0.12"/></g><rect x="206.7" y="258.3" width="129.6" height="54.7" fill="none" stroke="#2a2a2a" stroke-width="1"/>
<g clip-path="url(#clipb3)"><rect x="380.8" y="258.3" width="129.5" height="54.7" fill="url(#gb3)"/><g filter="url(#blur2_0)"><ellipse cx="391.0" cy="262.9" rx="5.0" ry="3.8" fill="#6a6a6a" fill-opacity="0.9"/><ellipse cx="391.0" cy="273.7" rx="5.0" ry="3.8" fill="#6a6a6a" fill-opacity="0.9"/><ellipse cx="391.0" cy="284.5" rx="5.0" ry="3.8" fill="#6a6a6a" fill-opacity="0.9"/><ellipse cx="391.0" cy="295.3" rx="5.0" ry="3.8" fill="#6a6a6a" fill-opacity="0.9"/><ellipse cx="391.0" cy="306.1" rx="5.0" ry="3.8" fill="#6a6a6a" fill-opacity="0.9"/><ellipse cx="403.2" cy="262.9" rx="5.0" ry="3.8" fill="#6a6a6a" fill-opacity="0.9"/><ellipse cx="403.2" cy="273.7" rx="5.0" ry="3.8" fill="#6a6a6a" fill-opacity="0.9"/><ellipse cx="403.2" cy="284.5" rx="5.0" ry="3.8" fill="#6a6a6a" fill-opacity="0.9"/><ellipse cx="403.2" cy="295.3" rx="5.0" ry="3.8" fill="#6a6a6a" fill-opacity="0.9"/><ellipse cx="403.2" cy="306.1" rx="5.0" ry="3.8" fill="#6a6a6a" fill-opacity="0.9"/><ellipse cx="415.4" cy="262.9" rx="5.0" ry="3.8" fill="#6a6a6a" fill-opacity="0.9"/><ellipse cx="415.4" cy="273.7" rx="5.0" ry="3.8" fill="#6a6a6a" fill-opacity="0.9"/><ellipse cx="415.4" cy="284.5" rx="5.0" ry="3.8" fill="#6a6a6a" fill-opacity="0.9"/><ellipse cx="415.4" cy="295.3" rx="5.0" ry="3.8" fill="#6a6a6a" fill-opacity="0.9"/><ellipse cx="415.4" cy="306.1" rx="5.0" ry="3.8" fill="#6a6a6a" fill-opacity="0.9"/><ellipse cx="427.6" cy="262.9" rx="5.0" ry="3.8" fill="#6a6a6a" fill-opacity="0.9"/><ellipse cx="427.6" cy="273.7" rx="5.0" ry="3.8" fill="#6a6a6a" fill-opacity="0.9"/><ellipse cx="427.6" cy="284.5" rx="5.0" ry="3.8" fill="#6a6a6a" fill-opacity="0.9"/><ellipse cx="427.6" cy="295.3" rx="5.0" ry="3.8" fill="#6a6a6a" fill-opacity="0.9"/><ellipse cx="427.6" cy="306.1" rx="5.0" ry="3.8" fill="#6a6a6a" fill-opacity="0.9"/><ellipse cx="439.8" cy="262.9" rx="5.0" ry="3.8" fill="#6a6a6a" fill-opacity="0.9"/><ellipse cx="439.8" cy="273.7" rx="5.0" ry="3.8" fill="#6a6a6a" fill-opacity="0.9"/><ellipse cx="439.8" cy="284.5" rx="5.0" ry="3.8" fill="#6a6a6a" fill-opacity="0.9"/><ellipse cx="439.8" cy="295.3" rx="5.0" ry="3.8" fill="#6a6a6a" fill-opacity="0.9"/><ellipse cx="439.8" cy="306.1" rx="5.0" ry="3.8" fill="#6a6a6a" fill-opacity="0.9"/><ellipse cx="452.0" cy="262.9" rx="5.0" ry="3.8" fill="#6a6a6a" fill-opacity="0.9"/><ellipse cx="452.0" cy="273.7" rx="5.0" ry="3.8" fill="#6a6a6a" fill-opacity="0.9"/><ellipse cx="452.0" cy="284.5" rx="5.0" ry="3.8" fill="#6a6a6a" fill-opacity="0.9"/><ellipse cx="452.0" cy="295.3" rx="5.0" ry="3.8" fill="#6a6a6a" fill-opacity="0.9"/><ellipse cx="452.0" cy="306.1" rx="5.0" ry="3.8" fill="#6a6a6a" fill-opacity="0.9"/></g><rect x="380.8" y="258.3" width="129.5" height="54.7" filter="url(#noise)" opacity="0.22"/></g><rect x="380.8" y="258.3" width="129.5" height="54.7" fill="none" stroke="#2a2a2a" stroke-width="1"/>
<g clip-path="url(#clipb4)"><rect x="554.5" y="258.3" width="129.8" height="54.7" fill="url(#gb4)"/><g filter="url(#blur2_0)"><ellipse cx="561.0" cy="263.0" rx="3.0" ry="2.4" fill="#2c2c2c" fill-opacity="0.7"/><ellipse cx="561.0" cy="273.9" rx="3.0" ry="2.4" fill="#2c2c2c" fill-opacity="0.7"/><ellipse cx="561.0" cy="284.8" rx="3.0" ry="2.4" fill="#2c2c2c" fill-opacity="0.7"/><ellipse cx="561.0" cy="295.7" rx="3.0" ry="2.4" fill="#2c2c2c" fill-opacity="0.7"/><ellipse cx="561.0" cy="306.6" rx="3.0" ry="2.4" fill="#2c2c2c" fill-opacity="0.7"/><ellipse cx="572.8" cy="263.0" rx="3.0" ry="2.4" fill="#2c2c2c" fill-opacity="0.7"/><ellipse cx="572.8" cy="273.9" rx="3.0" ry="2.4" fill="#2c2c2c" fill-opacity="0.7"/><ellipse cx="572.8" cy="284.8" rx="3.0" ry="2.4" fill="#2c2c2c" fill-opacity="0.7"/><ellipse cx="572.8" cy="295.7" rx="3.0" ry="2.4" fill="#2c2c2c" fill-opacity="0.7"/><ellipse cx="572.8" cy="306.6" rx="3.0" ry="2.4" fill="#2c2c2c" fill-opacity="0.7"/><ellipse cx="584.6" cy="263.0" rx="3.0" ry="2.4" fill="#2c2c2c" fill-opacity="0.7"/><ellipse cx="584.6" cy="273.9" rx="3.0" ry="2.4" fill="#2c2c2c" fill-opacity="0.7"/><ellipse cx="584.6" cy="284.8" rx="3.0" ry="2.4" fill="#2c2c2c" fill-opacity="0.7"/><ellipse cx="584.6" cy="295.7" rx="3.0" ry="2.4" fill="#2c2c2c" fill-opacity="0.7"/><ellipse cx="584.6" cy="306.6" rx="3.0" ry="2.4" fill="#2c2c2c" fill-opacity="0.7"/><ellipse cx="596.4" cy="263.0" rx="3.0" ry="2.4" fill="#2c2c2c" fill-opacity="0.7"/><ellipse cx="596.4" cy="273.9" rx="3.0" ry="2.4" fill="#2c2c2c" fill-opacity="0.7"/><ellipse cx="596.4" cy="284.8" rx="3.0" ry="2.4" fill="#2c2c2c" fill-opacity="0.7"/><ellipse cx="596.4" cy="295.7" rx="3.0" ry="2.4" fill="#2c2c2c" fill-opacity="0.7"/><ellipse cx="596.4" cy="306.6" rx="3.0" ry="2.4" fill="#2c2c2c" fill-opacity="0.7"/><ellipse cx="608.2" cy="263.0" rx="3.0" ry="2.4" fill="#2c2c2c" fill-opacity="0.7"/><ellipse cx="608.2" cy="273.9" rx="3.0" ry="2.4" fill="#2c2c2c" fill-opacity="0.7"/><ellipse cx="608.2" cy="284.8" rx="3.0" ry="2.4" fill="#2c2c2c" fill-opacity="0.7"/><ellipse cx="608.2" cy="295.7" rx="3.0" ry="2.4" fill="#2c2c2c" fill-opacity="0.7"/><ellipse cx="608.2" cy="306.6" rx="3.0" ry="2.4" fill="#2c2c2c" fill-opacity="0.7"/><ellipse cx="620.0" cy="263.0" rx="3.0" ry="2.4" fill="#2c2c2c" fill-opacity="0.7"/><ellipse cx="620.0" cy="273.9" rx="3.0" ry="2.4" fill="#2c2c2c" fill-opacity="0.7"/><ellipse cx="620.0" cy="284.8" rx="3.0" ry="2.4" fill="#2c2c2c" fill-opacity="0.7"/><ellipse cx="620.0" cy="295.7" rx="3.0" ry="2.4" fill="#2c2c2c" fill-opacity="0.7"/><ellipse cx="620.0" cy="306.6" rx="3.0" ry="2.4" fill="#2c2c2c" fill-opacity="0.7"/><ellipse cx="631.8" cy="263.0" rx="3.0" ry="2.4" fill="#2c2c2c" fill-opacity="0.7"/><ellipse cx="631.8" cy="273.9" rx="3.0" ry="2.4" fill="#2c2c2c" fill-opacity="0.7"/><ellipse cx="631.8" cy="284.8" rx="3.0" ry="2.4" fill="#2c2c2c" fill-opacity="0.7"/><ellipse cx="631.8" cy="295.7" rx="3.0" ry="2.4" fill="#2c2c2c" fill-opacity="0.7"/><ellipse cx="631.8" cy="306.6" rx="3.0" ry="2.4" fill="#2c2c2c" fill-opacity="0.7"/><circle cx="651.0" cy="267.8" r="5.5" fill="#ffffff" fill-opacity="1"/><circle cx="647.0" cy="287.0" r="5" fill="#eeeeee" fill-opacity="0.9"/><circle cx="645.0" cy="306.0" r="3.5" fill="#e0e0e0" fill-opacity="0.7"/><circle cx="643.0" cy="278.0" r="3" fill="#c8c8c8" fill-opacity="0.6"/><circle cx="643.0" cy="297.0" r="3" fill="#c8c8c8" fill-opacity="0.6"/></g><rect x="559.9" y="304.3" width="30.2" height="3.9" fill="#fff"/><text x="575.2" y="300.3" font-size="12.6" text-anchor="middle" fill="#fff">5 Å</text><rect x="554.5" y="258.3" width="129.8" height="54.7" filter="url(#noise)" opacity="0.22"/></g><rect x="554.5" y="258.3" width="129.8" height="54.7" fill="none" stroke="#2a2a2a" stroke-width="1"/>
<g clip-path="url(#clipc1)"><rect x="32.5" y="325.7" width="130.2" height="60.0" fill="url(#gc1)"/><g filter="url(#blur2_4)"><ellipse cx="43.3" cy="330.6" rx="3.2" ry="3.2" fill="#5e5e5e" fill-opacity="0.9"/><ellipse cx="43.3" cy="342.5" rx="3.2" ry="3.2" fill="#5e5e5e" fill-opacity="0.9"/><ellipse cx="43.3" cy="354.4" rx="3.2" ry="3.2" fill="#5e5e5e" fill-opacity="0.9"/><ellipse cx="43.3" cy="366.3" rx="3.2" ry="3.2" fill="#5e5e5e" fill-opacity="0.9"/><ellipse cx="43.3" cy="378.2" rx="3.2" ry="3.2" fill="#5e5e5e" fill-opacity="0.9"/><ellipse cx="55.6" cy="330.6" rx="3.2" ry="3.2" fill="#5e5e5e" fill-opacity="0.9"/><ellipse cx="55.6" cy="342.5" rx="3.2" ry="3.2" fill="#5e5e5e" fill-opacity="0.9"/><ellipse cx="55.6" cy="354.4" rx="3.2" ry="3.2" fill="#5e5e5e" fill-opacity="0.9"/><ellipse cx="55.6" cy="366.3" rx="3.2" ry="3.2" fill="#5e5e5e" fill-opacity="0.9"/><ellipse cx="55.6" cy="378.2" rx="3.2" ry="3.2" fill="#5e5e5e" fill-opacity="0.9"/><ellipse cx="67.9" cy="330.6" rx="3.2" ry="3.2" fill="#5e5e5e" fill-opacity="0.9"/><ellipse cx="67.9" cy="342.5" rx="3.2" ry="3.2" fill="#5e5e5e" fill-opacity="0.9"/><ellipse cx="67.9" cy="354.4" rx="3.2" ry="3.2" fill="#5e5e5e" fill-opacity="0.9"/><ellipse cx="67.9" cy="366.3" rx="3.2" ry="3.2" fill="#5e5e5e" fill-opacity="0.9"/><ellipse cx="67.9" cy="378.2" rx="3.2" ry="3.2" fill="#5e5e5e" fill-opacity="0.9"/><ellipse cx="80.2" cy="330.6" rx="3.2" ry="3.2" fill="#5e5e5e" fill-opacity="0.9"/><ellipse cx="80.2" cy="342.5" rx="3.2" ry="3.2" fill="#5e5e5e" fill-opacity="0.9"/><ellipse cx="80.2" cy="354.4" rx="3.2" ry="3.2" fill="#5e5e5e" fill-opacity="0.9"/><ellipse cx="80.2" cy="366.3" rx="3.2" ry="3.2" fill="#5e5e5e" fill-opacity="0.9"/><ellipse cx="80.2" cy="378.2" rx="3.2" ry="3.2" fill="#5e5e5e" fill-opacity="0.9"/><ellipse cx="92.5" cy="330.6" rx="3.2" ry="3.2" fill="#5e5e5e" fill-opacity="0.9"/><ellipse cx="92.5" cy="342.5" rx="3.2" ry="3.2" fill="#5e5e5e" fill-opacity="0.9"/><ellipse cx="92.5" cy="354.4" rx="3.2" ry="3.2" fill="#5e5e5e" fill-opacity="0.9"/><ellipse cx="92.5" cy="366.3" rx="3.2" ry="3.2" fill="#5e5e5e" fill-opacity="0.9"/><ellipse cx="92.5" cy="378.2" rx="3.2" ry="3.2" fill="#5e5e5e" fill-opacity="0.9"/><ellipse cx="104.8" cy="330.6" rx="3.2" ry="3.2" fill="#5e5e5e" fill-opacity="0.9"/><ellipse cx="104.8" cy="342.5" rx="3.2" ry="3.2" fill="#5e5e5e" fill-opacity="0.9"/><ellipse cx="104.8" cy="354.4" rx="3.2" ry="3.2" fill="#5e5e5e" fill-opacity="0.9"/><ellipse cx="104.8" cy="366.3" rx="3.2" ry="3.2" fill="#5e5e5e" fill-opacity="0.9"/><ellipse cx="104.8" cy="378.2" rx="3.2" ry="3.2" fill="#5e5e5e" fill-opacity="0.9"/><rect x="116.4" y="333.9" width="14.3" height="4.8" rx="2.4" fill="#000" fill-opacity="1"/><rect x="116.4" y="346.4" width="7.2" height="4.8" rx="2.4" fill="#000" fill-opacity="1"/><rect x="116.4" y="357.7" width="14.3" height="4.8" rx="2.4" fill="#000" fill-opacity="1"/><rect x="116.4" y="370.2" width="7.2" height="4.8" rx="2.4" fill="#000" fill-opacity="1"/><rect x="116.4" y="382.1" width="14.3" height="4.8" rx="2.4" fill="#000" fill-opacity="1"/><circle cx="143.8" cy="348.8" r="5.6" fill="#7a7a7a" fill-opacity="1"/><circle cx="143.8" cy="372.4" r="5.6" fill="#7a7a7a" fill-opacity="1"/><circle cx="143.8" cy="325.5" r="5.0" fill="#9a9a9a" fill-opacity="1"/></g></g><rect x="32.5" y="325.7" width="130.2" height="60.0" fill="none" stroke="#2a2a2a" stroke-width="1"/>
<g clip-path="url(#clipc2)"><rect x="206.7" y="325.7" width="129.6" height="60.0" fill="url(#gc2)"/><g filter="url(#blur2_4)"><ellipse cx="216.8" cy="330.9" rx="4.6" ry="4.6" fill="#6c6c6c" fill-opacity="0.95"/><ellipse cx="216.8" cy="342.7" rx="4.6" ry="4.6" fill="#6c6c6c" fill-opacity="0.95"/><ellipse cx="216.8" cy="354.5" rx="4.6" ry="4.6" fill="#6c6c6c" fill-opacity="0.95"/><ellipse cx="216.8" cy="366.3" rx="4.6" ry="4.6" fill="#6c6c6c" fill-opacity="0.95"/><ellipse cx="216.8" cy="378.1" rx="4.6" ry="4.6" fill="#6c6c6c" fill-opacity="0.95"/><ellipse cx="229.0" cy="330.9" rx="4.6" ry="4.6" fill="#6c6c6c" fill-opacity="0.95"/><ellipse cx="229.0" cy="342.7" rx="4.6" ry="4.6" fill="#6c6c6c" fill-opacity="0.95"/><ellipse cx="229.0" cy="354.5" rx="4.6" ry="4.6" fill="#6c6c6c" fill-opacity="0.95"/><ellipse cx="229.0" cy="366.3" rx="4.6" ry="4.6" fill="#6c6c6c" fill-opacity="0.95"/><ellipse cx="229.0" cy="378.1" rx="4.6" ry="4.6" fill="#6c6c6c" fill-opacity="0.95"/><ellipse cx="241.2" cy="330.9" rx="4.6" ry="4.6" fill="#6c6c6c" fill-opacity="0.95"/><ellipse cx="241.2" cy="342.7" rx="4.6" ry="4.6" fill="#6c6c6c" fill-opacity="0.95"/><ellipse cx="241.2" cy="354.5" rx="4.6" ry="4.6" fill="#6c6c6c" fill-opacity="0.95"/><ellipse cx="241.2" cy="366.3" rx="4.6" ry="4.6" fill="#6c6c6c" fill-opacity="0.95"/><ellipse cx="241.2" cy="378.1" rx="4.6" ry="4.6" fill="#6c6c6c" fill-opacity="0.95"/><ellipse cx="253.4" cy="330.9" rx="4.6" ry="4.6" fill="#6c6c6c" fill-opacity="0.95"/><ellipse cx="253.4" cy="342.7" rx="4.6" ry="4.6" fill="#6c6c6c" fill-opacity="0.95"/><ellipse cx="253.4" cy="354.5" rx="4.6" ry="4.6" fill="#6c6c6c" fill-opacity="0.95"/><ellipse cx="253.4" cy="366.3" rx="4.6" ry="4.6" fill="#6c6c6c" fill-opacity="0.95"/><ellipse cx="253.4" cy="378.1" rx="4.6" ry="4.6" fill="#6c6c6c" fill-opacity="0.95"/><ellipse cx="265.6" cy="330.9" rx="4.6" ry="4.6" fill="#6c6c6c" fill-opacity="0.95"/><ellipse cx="265.6" cy="342.7" rx="4.6" ry="4.6" fill="#6c6c6c" fill-opacity="0.95"/><ellipse cx="265.6" cy="354.5" rx="4.6" ry="4.6" fill="#6c6c6c" fill-opacity="0.95"/><ellipse cx="265.6" cy="366.3" rx="4.6" ry="4.6" fill="#6c6c6c" fill-opacity="0.95"/><ellipse cx="265.6" cy="378.1" rx="4.6" ry="4.6" fill="#6c6c6c" fill-opacity="0.95"/><ellipse cx="277.8" cy="330.9" rx="4.6" ry="4.6" fill="#6c6c6c" fill-opacity="0.95"/><ellipse cx="277.8" cy="342.7" rx="4.6" ry="4.6" fill="#6c6c6c" fill-opacity="0.95"/><ellipse cx="277.8" cy="354.5" rx="4.6" ry="4.6" fill="#6c6c6c" fill-opacity="0.95"/><ellipse cx="277.8" cy="366.3" rx="4.6" ry="4.6" fill="#6c6c6c" fill-opacity="0.95"/><ellipse cx="277.8" cy="378.1" rx="4.6" ry="4.6" fill="#6c6c6c" fill-opacity="0.95"/><rect x="289.7" y="333.8" width="15.8" height="4.0" rx="2.0" fill="#666" fill-opacity="0.9"/><rect x="289.7" y="345.6" width="8.3" height="4.0" rx="2.0" fill="#666" fill-opacity="0.9"/><rect x="289.7" y="357.4" width="15.8" height="4.0" rx="2.0" fill="#666" fill-opacity="0.9"/><rect x="289.7" y="369.2" width="8.3" height="4.0" rx="2.0" fill="#666" fill-opacity="0.9"/><rect x="289.7" y="381.5" width="15.8" height="4.0" rx="2.0" fill="#666" fill-opacity="0.9"/><circle cx="317.3" cy="347.6" r="4.5" fill="#8a8a8a" fill-opacity="1"/><circle cx="317.3" cy="372.3" r="4.5" fill="#8a8a8a" fill-opacity="1"/><circle cx="317.3" cy="325.5" r="4.0" fill="#aaaaaa" fill-opacity="1"/></g></g><rect x="206.7" y="325.7" width="129.6" height="60.0" fill="none" stroke="#2a2a2a" stroke-width="1"/>
<g clip-path="url(#clipc3)"><rect x="380.8" y="325.7" width="129.5" height="60.0" fill="url(#gc3)"/><g filter="url(#blur2_0)"><ellipse cx="390.8" cy="331.0" rx="3.7" ry="3.7" fill="#6e6e6e" fill-opacity="1"/><ellipse cx="390.8" cy="342.9" rx="3.7" ry="3.7" fill="#6e6e6e" fill-opacity="1"/><ellipse cx="390.8" cy="354.8" rx="3.7" ry="3.7" fill="#6e6e6e" fill-opacity="1"/><ellipse cx="390.8" cy="366.7" rx="3.7" ry="3.7" fill="#6e6e6e" fill-opacity="1"/><ellipse cx="390.8" cy="378.6" rx="3.7" ry="3.7" fill="#6e6e6e" fill-opacity="1"/><ellipse cx="403.0" cy="331.0" rx="3.7" ry="3.7" fill="#6e6e6e" fill-opacity="1"/><ellipse cx="403.0" cy="342.9" rx="3.7" ry="3.7" fill="#6e6e6e" fill-opacity="1"/><ellipse cx="403.0" cy="354.8" rx="3.7" ry="3.7" fill="#6e6e6e" fill-opacity="1"/><ellipse cx="403.0" cy="366.7" rx="3.7" ry="3.7" fill="#6e6e6e" fill-opacity="1"/><ellipse cx="403.0" cy="378.6" rx="3.7" ry="3.7" fill="#6e6e6e" fill-opacity="1"/><ellipse cx="415.2" cy="331.0" rx="3.7" ry="3.7" fill="#6e6e6e" fill-opacity="1"/><ellipse cx="415.2" cy="342.9" rx="3.7" ry="3.7" fill="#6e6e6e" fill-opacity="1"/><ellipse cx="415.2" cy="354.8" rx="3.7" ry="3.7" fill="#6e6e6e" fill-opacity="1"/><ellipse cx="415.2" cy="366.7" rx="3.7" ry="3.7" fill="#6e6e6e" fill-opacity="1"/><ellipse cx="415.2" cy="378.6" rx="3.7" ry="3.7" fill="#6e6e6e" fill-opacity="1"/><ellipse cx="427.4" cy="331.0" rx="3.7" ry="3.7" fill="#6e6e6e" fill-opacity="1"/><ellipse cx="427.4" cy="342.9" rx="3.7" ry="3.7" fill="#6e6e6e" fill-opacity="1"/><ellipse cx="427.4" cy="354.8" rx="3.7" ry="3.7" fill="#6e6e6e" fill-opacity="1"/><ellipse cx="427.4" cy="366.7" rx="3.7" ry="3.7" fill="#6e6e6e" fill-opacity="1"/><ellipse cx="427.4" cy="378.6" rx="3.7" ry="3.7" fill="#6e6e6e" fill-opacity="1"/><ellipse cx="439.6" cy="331.0" rx="3.7" ry="3.7" fill="#6e6e6e" fill-opacity="1"/><ellipse cx="439.6" cy="342.9" rx="3.7" ry="3.7" fill="#6e6e6e" fill-opacity="1"/><ellipse cx="439.6" cy="354.8" rx="3.7" ry="3.7" fill="#6e6e6e" fill-opacity="1"/><ellipse cx="439.6" cy="366.7" rx="3.7" ry="3.7" fill="#6e6e6e" fill-opacity="1"/><ellipse cx="439.6" cy="378.6" rx="3.7" ry="3.7" fill="#6e6e6e" fill-opacity="1"/><ellipse cx="451.8" cy="331.0" rx="3.7" ry="3.7" fill="#6e6e6e" fill-opacity="1"/><ellipse cx="451.8" cy="342.9" rx="3.7" ry="3.7" fill="#6e6e6e" fill-opacity="1"/><ellipse cx="451.8" cy="354.8" rx="3.7" ry="3.7" fill="#6e6e6e" fill-opacity="1"/><ellipse cx="451.8" cy="366.7" rx="3.7" ry="3.7" fill="#6e6e6e" fill-opacity="1"/><ellipse cx="451.8" cy="378.6" rx="3.7" ry="3.7" fill="#6e6e6e" fill-opacity="1"/><rect x="464.7" y="333.8" width="13.8" height="4.0" rx="2.0" fill="#111" fill-opacity="0.95"/><rect x="464.7" y="345.6" width="7.3" height="4.0" rx="2.0" fill="#111" fill-opacity="0.95"/><rect x="464.7" y="357.4" width="13.8" height="4.0" rx="2.0" fill="#111" fill-opacity="0.95"/><rect x="464.7" y="369.2" width="7.3" height="4.0" rx="2.0" fill="#111" fill-opacity="0.95"/><rect x="464.7" y="381.5" width="13.8" height="4.0" rx="2.0" fill="#111" fill-opacity="0.95"/><circle cx="491.3" cy="347.6" r="6.6" fill="#7a7a7a" fill-opacity="1"/><circle cx="491.3" cy="371.3" r="6.6" fill="#7a7a7a" fill-opacity="1"/><circle cx="491.3" cy="325.5" r="5.5" fill="#9a9a9a" fill-opacity="1"/></g></g><rect x="380.8" y="325.7" width="129.5" height="60.0" fill="none" stroke="#2a2a2a" stroke-width="1"/>
<g clip-path="url(#clipc4)"><rect x="554.5" y="325.7" width="129.8" height="60.0" fill="url(#gc4)"/><g filter="url(#blur2_0)"><ellipse cx="559.9" cy="336.8" rx="3.3" ry="3.3" fill="#3a3a3a" fill-opacity="0.9"/><ellipse cx="559.9" cy="348.6" rx="3.3" ry="3.3" fill="#3a3a3a" fill-opacity="0.9"/><ellipse cx="559.9" cy="360.4" rx="3.3" ry="3.3" fill="#3a3a3a" fill-opacity="0.9"/><ellipse cx="559.9" cy="372.2" rx="3.3" ry="3.3" fill="#3a3a3a" fill-opacity="0.9"/><ellipse cx="559.9" cy="384.0" rx="3.3" ry="3.3" fill="#3a3a3a" fill-opacity="0.9"/><ellipse cx="572.0" cy="336.8" rx="3.3" ry="3.3" fill="#3a3a3a" fill-opacity="0.9"/><ellipse cx="572.0" cy="348.6" rx="3.3" ry="3.3" fill="#3a3a3a" fill-opacity="0.9"/><ellipse cx="572.0" cy="360.4" rx="3.3" ry="3.3" fill="#3a3a3a" fill-opacity="0.9"/><ellipse cx="572.0" cy="372.2" rx="3.3" ry="3.3" fill="#3a3a3a" fill-opacity="0.9"/><ellipse cx="572.0" cy="384.0" rx="3.3" ry="3.3" fill="#3a3a3a" fill-opacity="0.9"/><ellipse cx="584.1" cy="336.8" rx="3.3" ry="3.3" fill="#3a3a3a" fill-opacity="0.9"/><ellipse cx="584.1" cy="348.6" rx="3.3" ry="3.3" fill="#3a3a3a" fill-opacity="0.9"/><ellipse cx="584.1" cy="360.4" rx="3.3" ry="3.3" fill="#3a3a3a" fill-opacity="0.9"/><ellipse cx="584.1" cy="372.2" rx="3.3" ry="3.3" fill="#3a3a3a" fill-opacity="0.9"/><ellipse cx="584.1" cy="384.0" rx="3.3" ry="3.3" fill="#3a3a3a" fill-opacity="0.9"/><ellipse cx="596.2" cy="336.8" rx="3.3" ry="3.3" fill="#3a3a3a" fill-opacity="0.9"/><ellipse cx="596.2" cy="348.6" rx="3.3" ry="3.3" fill="#3a3a3a" fill-opacity="0.9"/><ellipse cx="596.2" cy="360.4" rx="3.3" ry="3.3" fill="#3a3a3a" fill-opacity="0.9"/><ellipse cx="596.2" cy="372.2" rx="3.3" ry="3.3" fill="#3a3a3a" fill-opacity="0.9"/><ellipse cx="596.2" cy="384.0" rx="3.3" ry="3.3" fill="#3a3a3a" fill-opacity="0.9"/><ellipse cx="608.3" cy="336.8" rx="3.3" ry="3.3" fill="#3a3a3a" fill-opacity="0.9"/><ellipse cx="608.3" cy="348.6" rx="3.3" ry="3.3" fill="#3a3a3a" fill-opacity="0.9"/><ellipse cx="608.3" cy="360.4" rx="3.3" ry="3.3" fill="#3a3a3a" fill-opacity="0.9"/><ellipse cx="608.3" cy="372.2" rx="3.3" ry="3.3" fill="#3a3a3a" fill-opacity="0.9"/><ellipse cx="608.3" cy="384.0" rx="3.3" ry="3.3" fill="#3a3a3a" fill-opacity="0.9"/><ellipse cx="620.4" cy="336.8" rx="3.3" ry="3.3" fill="#3a3a3a" fill-opacity="0.9"/><ellipse cx="620.4" cy="348.6" rx="3.3" ry="3.3" fill="#3a3a3a" fill-opacity="0.9"/><ellipse cx="620.4" cy="360.4" rx="3.3" ry="3.3" fill="#3a3a3a" fill-opacity="0.9"/><ellipse cx="620.4" cy="372.2" rx="3.3" ry="3.3" fill="#3a3a3a" fill-opacity="0.9"/><ellipse cx="620.4" cy="384.0" rx="3.3" ry="3.3" fill="#3a3a3a" fill-opacity="0.9"/><ellipse cx="632.5" cy="336.8" rx="3.3" ry="3.3" fill="#3a3a3a" fill-opacity="0.9"/><ellipse cx="632.5" cy="348.6" rx="3.3" ry="3.3" fill="#3a3a3a" fill-opacity="0.9"/><ellipse cx="632.5" cy="360.4" rx="3.3" ry="3.3" fill="#3a3a3a" fill-opacity="0.9"/><ellipse cx="632.5" cy="372.2" rx="3.3" ry="3.3" fill="#3a3a3a" fill-opacity="0.9"/><ellipse cx="632.5" cy="384.0" rx="3.3" ry="3.3" fill="#3a3a3a" fill-opacity="0.9"/><rect x="638.5" y="333.6" width="15.3" height="6.2" rx="3.1" fill="#ffffff" fill-opacity="1"/><rect x="638.5" y="345.9" width="8.3" height="6.2" rx="3.1" fill="#ffffff" fill-opacity="1"/><rect x="638.5" y="357.6" width="15.3" height="6.2" rx="3.1" fill="#ffffff" fill-opacity="1"/><rect x="638.5" y="369.9" width="8.3" height="6.2" rx="3.1" fill="#ffffff" fill-opacity="1"/><rect x="638.5" y="381.4" width="15.3" height="6.2" rx="3.1" fill="#ffffff" fill-opacity="1"/><circle cx="665.3" cy="349.0" r="6.8" fill="#7c7c7c" fill-opacity="1"/><circle cx="665.3" cy="373.0" r="6.8" fill="#7c7c7c" fill-opacity="1"/><circle cx="665.3" cy="325.0" r="5.5" fill="#5a5a5a" fill-opacity="1"/></g><rect x="560.8" y="378.2" width="29.6" height="3.9" fill="#fff"/><text x="575.2" y="374.2" font-size="12.6" text-anchor="middle" fill="#fff">5 Å</text></g><rect x="554.5" y="325.7" width="129.8" height="60.0" fill="none" stroke="#2a2a2a" stroke-width="1"/>
<rect x="16.7" y="36" width="6.1" height="116" fill="url(#cbar)"/>
<path d="M40.40,139.97L36.65,52.34L108.33,0.31L109.25,82.27Z" fill="#eeeeee" stroke="#f4f4f4" stroke-width="0.8"/>
<path d="M109.25,82.27L108.33,0.31L222.70,29.47L219.46,114.51Z" fill="#eeeeee" stroke="#f4f4f4" stroke-width="0.8"/>
<path d="M40.40,139.97L157.66,178.60L219.46,114.51L109.25,82.27Z" fill="#eeeeee" stroke="#f4f4f4" stroke-width="0.8"/>
<path d="M48.09,142.51L116.51,84.40L115.85,2.23M64.26,147.83L131.76,88.86L131.65,6.26M80.68,153.24L147.22,93.38L147.69,10.34M97.35,158.73L162.91,97.97L163.96,14.49M114.29,164.31L178.81,102.62L180.47,18.70M131.49,169.98L194.95,107.34L197.23,22.98M148.96,175.73L211.31,112.13L214.24,27.31M162.05,174.05L45.27,135.90L41.73,48.65M171.63,164.11L55.91,126.98L52.83,40.59M180.95,154.45L66.27,118.29L63.64,32.75M190.01,145.05L76.36,109.84L74.15,25.12M198.84,135.90L86.20,101.59L84.38,17.69M207.42,126.99L95.78,93.56L94.35,10.46M215.78,118.32L105.13,85.72L104.05,3.41M40.40,140.02L109.25,82.31L219.46,114.55M39.87,127.56L109.12,70.63L219.92,102.44M39.33,114.96L108.98,58.82L220.39,90.21M38.78,102.21L108.85,46.88L220.86,77.83M38.23,89.32L108.71,34.82L221.34,65.32M37.67,76.27L108.58,22.64L221.82,52.67M37.11,63.08L108.44,10.32L222.31,39.88" fill="none" stroke="#b9b9b9" stroke-width="0.9"/>
<g><path d="M52.93,138.45L56.13,139.49L58.27,137.67L55.07,136.63Z" fill="#393939" stroke="#393939" stroke-width="0.4"/><path d="M55.07,136.63L58.27,137.67L60.39,135.86L57.20,134.82Z" fill="#333333" stroke="#333333" stroke-width="0.4"/><path d="M57.20,134.82L60.39,135.86L62.50,134.06L59.31,133.03Z" fill="#494949" stroke="#494949" stroke-width="0.4"/><path d="M59.31,133.03L62.50,134.06L64.60,132.26L61.41,131.24Z" fill="#343434" stroke="#343434" stroke-width="0.4"/><path d="M61.41,131.24L64.60,132.26L66.68,130.48L63.51,129.46Z" fill="#373737" stroke="#373737" stroke-width="0.4"/><path d="M63.51,129.46L66.68,130.48L68.76,128.71L65.59,127.69Z" fill="#424242" stroke="#424242" stroke-width="0.4"/><path d="M65.59,127.69L68.76,128.71L70.82,126.94L67.66,125.93Z" fill="#2f2f2f" stroke="#2f2f2f" stroke-width="0.4"/><path d="M67.66,125.93L70.82,126.94L72.88,125.19L69.72,124.18Z" fill="#313131" stroke="#313131" stroke-width="0.4"/><path d="M69.72,124.18L72.88,125.19L74.92,123.44L71.77,122.44Z" fill="#373737" stroke="#373737" stroke-width="0.4"/><path d="M71.77,122.44L74.92,123.44L76.95,121.71L73.81,120.71Z" fill="#333333" stroke="#333333" stroke-width="0.4"/><path d="M73.81,120.71L76.95,121.71L78.98,119.98L75.83,118.99Z" fill="#2d2d2d" stroke="#2d2d2d" stroke-width="0.4"/><path d="M75.83,118.99L78.98,119.98L80.99,118.26L77.85,117.28Z" fill="#343434" stroke="#343434" stroke-width="0.4"/><path d="M77.85,117.28L80.99,118.26L82.99,116.55L79.86,115.57Z" fill="#333333" stroke="#333333" stroke-width="0.4"/><path d="M79.86,115.57L82.99,116.55L84.98,114.85L81.85,113.88Z" fill="#3b3b3b" stroke="#3b3b3b" stroke-width="0.4"/><path d="M81.85,113.88L84.98,114.85L86.96,113.16L83.84,112.19Z" fill="#292929" stroke="#292929" stroke-width="0.4"/><path d="M83.84,112.19L86.96,113.16L88.93,111.48L85.81,110.52Z" fill="#313131" stroke="#313131" stroke-width="0.4"/><path d="M85.81,110.52L88.93,111.48L90.89,109.80L87.78,108.85Z" fill="#3f3f3f" stroke="#3f3f3f" stroke-width="0.4"/><path d="M87.78,108.85L90.89,109.80L92.84,108.14L89.73,107.19Z" fill="#444444" stroke="#444444" stroke-width="0.4"/><path d="M89.73,107.19L92.84,108.14L94.78,106.48L91.67,105.53Z" fill="#2a2a2a" stroke="#2a2a2a" stroke-width="0.4"/><path d="M91.67,105.53L94.78,106.48L96.70,104.83L93.61,103.89Z" fill="#3b3b3b" stroke="#3b3b3b" stroke-width="0.4"/><path d="M93.61,103.89L96.70,104.83L98.62,103.19L95.53,102.26Z" fill="#2e2e2e" stroke="#2e2e2e" stroke-width="0.4"/><path d="M95.53,102.26L98.62,103.19L100.53,101.56L97.45,100.63Z" fill="#2f2f2f" stroke="#2f2f2f" stroke-width="0.4"/><path d="M97.45,100.63L100.53,101.56L102.43,99.94L99.35,99.01Z" fill="#2f2f2f" stroke="#2f2f2f" stroke-width="0.4"/><path d="M99.35,99.01L102.43,99.94L104.32,98.33L101.25,97.40Z" fill="#333333" stroke="#333333" stroke-width="0.4"/><path d="M101.25,97.40L104.32,98.33L106.20,96.72L103.13,95.80Z" fill="#3e3e3e" stroke="#3e3e3e" stroke-width="0.4"/><path d="M103.13,95.80L106.20,96.72L108.08,95.12L105.01,94.21Z" fill="#3b3b3b" stroke="#3b3b3b" stroke-width="0.4"/><path d="M105.01,94.21L108.08,95.12L109.94,93.53L106.88,92.62Z" fill="#363636" stroke="#363636" stroke-width="0.4"/><path d="M106.88,92.62L109.94,93.53L111.79,91.95L108.74,91.04Z" fill="#333333" stroke="#333333" stroke-width="0.4"/><path d="M108.74,91.04L111.79,91.95L113.63,90.37L110.58,89.47Z" fill="#363636" stroke="#363636" stroke-width="0.4"/><path d="M110.58,89.47L113.63,90.37L115.47,88.81L112.42,87.91Z" fill="#353535" stroke="#353535" stroke-width="0.4"/><path d="M56.13,139.49L59.34,140.54L61.47,138.71L58.27,137.67Z" fill="#3d3d3d" stroke="#3d3d3d" stroke-width="0.4"/><path d="M58.27,137.67L61.47,138.71L63.59,136.90L60.39,135.86Z" fill="#323232" stroke="#323232" stroke-width="0.4"/><path d="M60.39,135.86L63.59,136.90L65.69,135.09L62.50,134.06Z" fill="#373737" stroke="#373737" stroke-width="0.4"/><path d="M62.50,134.06L65.69,135.09L67.78,133.29L64.60,132.26Z" fill="#363636" stroke="#363636" stroke-width="0.4"/><path d="M64.60,132.26L67.78,133.29L69.87,131.50L66.68,130.48Z" fill="#363636" stroke="#363636" stroke-width="0.4"/><path d="M66.68,130.48L69.87,131.50L71.94,129.72L68.76,128.71Z" fill="#393939" stroke="#393939" stroke-width="0.4"/><path d="M68.76,128.71L71.94,129.72L74.00,127.95L70.82,126.94Z" fill="#383838" stroke="#383838" stroke-width="0.4"/><path d="M70.82,126.94L74.00,127.95L76.05,126.19L72.88,125.19Z" fill="#414141" stroke="#414141" stroke-width="0.4"/><path d="M72.88,125.19L76.05,126.19L78.08,124.44L74.92,123.44Z" fill="#363636" stroke="#363636" stroke-width="0.4"/><path d="M74.92,123.44L78.08,124.44L80.11,122.70L76.95,121.71Z" fill="#434343" stroke="#434343" stroke-width="0.4"/><path d="M76.95,121.71L80.11,122.70L82.13,120.97L78.98,119.98Z" fill="#343434" stroke="#343434" stroke-width="0.4"/><path d="M78.98,119.98L82.13,120.97L84.13,119.25L80.99,118.26Z" fill="#333333" stroke="#333333" stroke-width="0.4"/><path d="M80.99,118.26L84.13,119.25L86.13,117.53L82.99,116.55Z" fill="#383838" stroke="#383838" stroke-width="0.4"/><path d="M82.99,116.55L86.13,117.53L88.11,115.83L84.98,114.85Z" fill="#3a3a3a" stroke="#3a3a3a" stroke-width="0.4"/><path d="M84.98,114.85L88.11,115.83L90.09,114.13L86.96,113.16Z" fill="#393939" stroke="#393939" stroke-width="0.4"/><path d="M86.96,113.16L90.09,114.13L92.05,112.44L88.93,111.48Z" fill="#414141" stroke="#414141" stroke-width="0.4"/><path d="M88.93,111.48L92.05,112.44L94.01,110.76L90.89,109.80Z" fill="#404040" stroke="#404040" stroke-width="0.4"/><path d="M90.89,109.80L94.01,110.76L95.95,109.09L92.84,108.14Z" fill="#3b3b3b" stroke="#3b3b3b" stroke-width="0.4"/><path d="M92.84,108.14L95.95,109.09L97.89,107.43L94.78,106.48Z" fill="#343434" stroke="#343434" stroke-width="0.4"/><path d="M94.78,106.48L97.89,107.43L99.81,105.78L96.70,104.83Z" fill="#363636" stroke="#363636" stroke-width="0.4"/><path d="M96.70,104.83L99.81,105.78L101.72,104.14L98.62,103.19Z" fill="#424242" stroke="#424242" stroke-width="0.4"/><path d="M98.62,103.19L101.72,104.14L103.63,102.50L100.53,101.56Z" fill="#393939" stroke="#393939" stroke-width="0.4"/><path d="M100.53,101.56L103.63,102.50L105.52,100.87L102.43,99.94Z" fill="#2d2d2d" stroke="#2d2d2d" stroke-width="0.4"/><path d="M102.43,99.94L105.52,100.87L107.41,99.25L104.32,98.33Z" fill="#323232" stroke="#323232" stroke-width="0.4"/><path d="M104.32,98.33L107.41,99.25L109.28,97.64L106.20,96.72Z" fill="#323232" stroke="#323232" stroke-width="0.4"/><path d="M106.20,96.72L109.28,97.64L111.15,96.04L108.08,95.12Z" fill="#404040" stroke="#404040" stroke-width="0.4"/><path d="M108.08,95.12L111.15,96.04L113.01,94.44L109.94,93.53Z" fill="#363636" stroke="#363636" stroke-width="0.4"/><path d="M109.94,93.53L113.01,94.44L114.85,92.86L111.79,91.95Z" fill="#484848" stroke="#484848" stroke-width="0.4"/><path d="M111.79,91.95L114.85,92.86L116.69,91.28L113.63,90.37Z" fill="#3c3c3c" stroke="#3c3c3c" stroke-width="0.4"/><path d="M113.63,90.37L116.69,91.28L118.52,89.71L115.47,88.81Z" fill="#383838" stroke="#383838" stroke-width="0.4"/><path d="M59.34,140.54L62.57,141.59L64.69,139.76L61.47,138.71Z" fill="#343434" stroke="#343434" stroke-width="0.4"/><path d="M61.47,138.71L64.69,139.76L66.80,137.94L63.59,136.90Z" fill="#3f3f3f" stroke="#3f3f3f" stroke-width="0.4"/><path d="M63.59,136.90L66.80,137.94L68.90,136.12L65.69,135.09Z" fill="#363636" stroke="#363636" stroke-width="0.4"/><path d="M65.69,135.09L68.90,136.12L70.98,134.32L67.78,133.29Z" fill="#313131" stroke="#313131" stroke-width="0.4"/><path d="M67.78,133.29L70.98,134.32L73.06,132.53L69.87,131.50Z" fill="#3c3c3c" stroke="#3c3c3c" stroke-width="0.4"/><path d="M69.87,131.50L73.06,132.53L75.13,130.74L71.94,129.72Z" fill="#383838" stroke="#383838" stroke-width="0.4"/><path d="M71.94,129.72L75.13,130.74L77.18,128.97L74.00,127.95Z" fill="#414141" stroke="#414141" stroke-width="0.4"/><path d="M74.00,127.95L77.18,128.97L79.22,127.20L76.05,126.19Z" fill="#373737" stroke="#373737" stroke-width="0.4"/><path d="M76.05,126.19L79.22,127.20L81.26,125.45L78.08,124.44Z" fill="#222222" stroke="#222222" stroke-width="0.4"/><path d="M78.08,124.44L81.26,125.45L83.28,123.70L80.11,122.70Z" fill="#3e3e3e" stroke="#3e3e3e" stroke-width="0.4"/><path d="M80.11,122.70L83.28,123.70L85.29,121.96L82.13,120.97Z" fill="#292929" stroke="#292929" stroke-width="0.4"/><path d="M82.13,120.97L85.29,121.96L87.29,120.23L84.13,119.25Z" fill="#434343" stroke="#434343" stroke-width="0.4"/><path d="M84.13,119.25L87.29,120.23L89.28,118.51L86.13,117.53Z" fill="#464646" stroke="#464646" stroke-width="0.4"/><path d="M86.13,117.53L89.28,118.51L91.26,116.80L88.11,115.83Z" fill="#343434" stroke="#343434" stroke-width="0.4"/><path d="M88.11,115.83L91.26,116.80L93.23,115.10L90.09,114.13Z" fill="#2f2f2f" stroke="#2f2f2f" stroke-width="0.4"/><path d="M90.09,114.13L93.23,115.10L95.19,113.41L92.05,112.44Z" fill="#2d2d2d" stroke="#2d2d2d" stroke-width="0.4"/><path d="M92.05,112.44L95.19,113.41L97.14,111.73L94.01,110.76Z" fill="#3e3e3e" stroke="#3e3e3e" stroke-width="0.4"/><path d="M94.01,110.76L97.14,111.73L99.08,110.05L95.95,109.09Z" fill="#363636" stroke="#363636" stroke-width="0.4"/><path d="M95.95,109.09L99.08,110.05L101.00,108.39L97.89,107.43Z" fill="#333333" stroke="#333333" stroke-width="0.4"/><path d="M97.89,107.43L101.00,108.39L102.92,106.73L99.81,105.78Z" fill="#363636" stroke="#363636" stroke-width="0.4"/><path d="M99.81,105.78L102.92,106.73L104.83,105.08L101.72,104.14Z" fill="#484848" stroke="#484848" stroke-width="0.4"/><path d="M101.72,104.14L104.83,105.08L106.73,103.44L103.63,102.50Z" fill="#3a3a3a" stroke="#3a3a3a" stroke-width="0.4"/><path d="M103.63,102.50L106.73,103.44L108.62,101.81L105.52,100.87Z" fill="#3d3d3d" stroke="#3d3d3d" stroke-width="0.4"/><path d="M105.52,100.87L108.62,101.81L110.50,100.18L107.41,99.25Z" fill="#3e3e3e" stroke="#3e3e3e" stroke-width="0.4"/><path d="M107.41,99.25L110.50,100.18L112.37,98.57L109.28,97.64Z" fill="#3f3f3f" stroke="#3f3f3f" stroke-width="0.4"/><path d="M109.28,97.64L112.37,98.57L114.23,96.96L111.15,96.04Z" fill="#404040" stroke="#404040" stroke-width="0.4"/><path d="M111.15,96.04L114.23,96.96L116.08,95.36L113.01,94.44Z" fill="#323232" stroke="#323232" stroke-width="0.4"/><path d="M113.01,94.44L116.08,95.36L117.92,93.77L114.85,92.86Z" fill="#363636" stroke="#363636" stroke-width="0.4"/><path d="M114.85,92.86L117.92,93.77L119.76,92.18L116.69,91.28Z" fill="#323232" stroke="#323232" stroke-width="0.4"/><path d="M116.69,91.28L119.76,92.18L121.58,90.61L118.52,89.71Z" fill="#323232" stroke="#323232" stroke-width="0.4"/><path d="M62.57,141.59L65.80,142.65L67.91,140.81L64.69,139.76Z" fill="#414141" stroke="#414141" stroke-width="0.4"/><path d="M64.69,139.76L67.91,140.81L70.02,138.98L66.80,137.94Z" fill="#353535" stroke="#353535" stroke-width="0.4"/><path d="M66.80,137.94L70.02,138.98L72.11,137.16L68.90,136.12Z" fill="#383838" stroke="#383838" stroke-width="0.4"/><path d="M68.90,136.12L72.11,137.16L74.19,135.35L70.98,134.32Z" fill="#333333" stroke="#333333" stroke-width="0.4"/><path d="M70.98,134.32L74.19,135.35L76.26,133.55L73.06,132.53Z" fill="#343434" stroke="#343434" stroke-width="0.4"/><path d="M73.06,132.53L76.26,133.55L78.32,131.76L75.13,130.74Z" fill="#3f3f3f" stroke="#3f3f3f" stroke-width="0.4"/><path d="M75.13,130.74L78.32,131.76L80.37,129.98L77.18,128.97Z" fill="#353535" stroke="#353535" stroke-width="0.4"/><path d="M77.18,128.97L80.37,129.98L82.41,128.21L79.22,127.20Z" fill="#353535" stroke="#353535" stroke-width="0.4"/><path d="M79.22,127.20L82.41,128.21L84.44,126.45L81.26,125.45Z" fill="#3c3c3c" stroke="#3c3c3c" stroke-width="0.4"/><path d="M81.26,125.45L84.44,126.45L86.45,124.70L83.28,123.70Z" fill="#3c3c3c" stroke="#3c3c3c" stroke-width="0.4"/><path d="M83.28,123.70L86.45,124.70L88.46,122.96L85.29,121.96Z" fill="#3f3f3f" stroke="#3f3f3f" stroke-width="0.4"/><path d="M85.29,121.96L88.46,122.96L90.45,121.22L87.29,120.23Z" fill="#3a3a3a" stroke="#3a3a3a" stroke-width="0.4"/><path d="M87.29,120.23L90.45,121.22L92.44,119.50L89.28,118.51Z" fill="#2b2b2b" stroke="#2b2b2b" stroke-width="0.4"/><path d="M89.28,118.51L92.44,119.50L94.41,117.79L91.26,116.80Z" fill="#3d3d3d" stroke="#3d3d3d" stroke-width="0.4"/><path d="M91.26,116.80L94.41,117.79L96.38,116.08L93.23,115.10Z" fill="#3c3c3c" stroke="#3c3c3c" stroke-width="0.4"/><path d="M93.23,115.10L96.38,116.08L98.33,114.38L95.19,113.41Z" fill="#404040" stroke="#404040" stroke-width="0.4"/><path d="M95.19,113.41L98.33,114.38L100.27,112.69L97.14,111.73Z" fill="#323232" stroke="#323232" stroke-width="0.4"/><path d="M97.14,111.73L100.27,112.69L102.21,111.01L99.08,110.05Z" fill="#4c4c4c" stroke="#4c4c4c" stroke-width="0.4"/><path d="M99.08,110.05L102.21,111.01L104.13,109.34L101.00,108.39Z" fill="#2f2f2f" stroke="#2f2f2f" stroke-width="0.4"/><path d="M101.00,108.39L104.13,109.34L106.04,107.68L102.92,106.73Z" fill="#3e3e3e" stroke="#3e3e3e" stroke-width="0.4"/><path d="M102.92,106.73L106.04,107.68L107.95,106.03L104.83,105.08Z" fill="#393939" stroke="#393939" stroke-width="0.4"/><path d="M104.83,105.08L107.95,106.03L109.84,104.38L106.73,103.44Z" fill="#353535" stroke="#353535" stroke-width="0.4"/><path d="M106.73,103.44L109.84,104.38L111.73,102.74L108.62,101.81Z" fill="#3f3f3f" stroke="#3f3f3f" stroke-width="0.4"/><path d="M108.62,101.81L111.73,102.74L113.60,101.11L110.50,100.18Z" fill="#363636" stroke="#363636" stroke-width="0.4"/><path d="M110.50,100.18L113.60,101.11L115.47,99.49L112.37,98.57Z" fill="#272727" stroke="#272727" stroke-width="0.4"/><path d="M112.37,98.57L115.47,99.49L117.32,97.88L114.23,96.96Z" fill="#303030" stroke="#303030" stroke-width="0.4"/><path d="M114.23,96.96L117.32,97.88L119.17,96.28L116.08,95.36Z" fill="#3c3c3c" stroke="#3c3c3c" stroke-width="0.4"/><path d="M116.08,95.36L119.17,96.28L121.00,94.68L117.92,93.77Z" fill="#4a4a4a" stroke="#4a4a4a" stroke-width="0.4"/><path d="M117.92,93.77L121.00,94.68L122.83,93.09L119.76,92.18Z" fill="#2d2d2d" stroke="#2d2d2d" stroke-width="0.4"/><path d="M119.76,92.18L122.83,93.09L124.65,91.51L121.58,90.61Z" fill="#383838" stroke="#383838" stroke-width="0.4"/><path d="M65.80,142.65L69.04,143.71L71.15,141.86L67.91,140.81Z" fill="#444444" stroke="#444444" stroke-width="0.4"/><path d="M67.91,140.81L71.15,141.86L73.25,140.03L70.02,138.98Z" fill="#3e3e3e" stroke="#3e3e3e" stroke-width="0.4"/><path d="M70.02,138.98L73.25,140.03L75.33,138.20L72.11,137.16Z" fill="#373737" stroke="#373737" stroke-width="0.4"/><path d="M72.11,137.16L75.33,138.20L77.41,136.39L74.19,135.35Z" fill="#2e2e2e" stroke="#2e2e2e" stroke-width="0.4"/><path d="M74.19,135.35L77.41,136.39L79.48,134.59L76.26,133.55Z" fill="#2c2c2c" stroke="#2c2c2c" stroke-width="0.4"/><path d="M76.26,133.55L79.48,134.59L81.53,132.79L78.32,131.76Z" fill="#343434" stroke="#343434" stroke-width="0.4"/><path d="M78.32,131.76L81.53,132.79L83.57,131.00L80.37,129.98Z" fill="#373737" stroke="#373737" stroke-width="0.4"/><path d="M80.37,129.98L83.57,131.00L85.61,129.23L82.41,128.21Z" fill="#282828" stroke="#282828" stroke-width="0.4"/><path d="M82.41,128.21L85.61,129.23L87.63,127.46L84.44,126.45Z" fill="#2c2c2c" stroke="#2c2c2c" stroke-width="0.4"/><path d="M84.44,126.45L87.63,127.46L89.64,125.71L86.45,124.70Z" fill="#3c3c3c" stroke="#3c3c3c" stroke-width="0.4"/><path d="M86.45,124.70L89.64,125.71L91.64,123.96L88.46,122.96Z" fill="#363636" stroke="#363636" stroke-width="0.4"/><path d="M88.46,122.96L91.64,123.96L93.63,122.22L90.45,121.22Z" fill="#343434" stroke="#343434" stroke-width="0.4"/><path d="M90.45,121.22L93.63,122.22L95.61,120.49L92.44,119.50Z" fill="#363636" stroke="#363636" stroke-width="0.4"/><path d="M92.44,119.50L95.61,120.49L97.58,118.77L94.41,117.79Z" fill="#333333" stroke="#333333" stroke-width="0.4"/><path d="M94.41,117.79L97.58,118.77L99.54,117.06L96.38,116.08Z" fill="#404040" stroke="#404040" stroke-width="0.4"/><path d="M96.38,116.08L99.54,117.06L101.48,115.35L98.33,114.38Z" fill="#464646" stroke="#464646" stroke-width="0.4"/><path d="M98.33,114.38L101.48,115.35L103.42,113.66L100.27,112.69Z" fill="#494949" stroke="#494949" stroke-width="0.4"/><path d="M100.27,112.69L103.42,113.66L105.35,111.98L102.21,111.01Z" fill="#3f3f3f" stroke="#3f3f3f" stroke-width="0.4"/><path d="M102.21,111.01L105.35,111.98L107.27,110.30L104.13,109.34Z" fill="#3f3f3f" stroke="#3f3f3f" stroke-width="0.4"/><path d="M104.13,109.34L107.27,110.30L109.18,108.63L106.04,107.68Z" fill="#454545" stroke="#454545" stroke-width="0.4"/><path d="M106.04,107.68L109.18,108.63L111.07,106.97L107.95,106.03Z" fill="#474747" stroke="#474747" stroke-width="0.4"/><path d="M107.95,106.03L111.07,106.97L112.96,105.32L109.84,104.38Z" fill="#454545" stroke="#454545" stroke-width="0.4"/><path d="M109.84,104.38L112.96,105.32L114.84,103.68L111.73,102.74Z" fill="#434343" stroke="#434343" stroke-width="0.4"/><path d="M111.73,102.74L114.84,103.68L116.71,102.05L113.60,101.11Z" fill="#353535" stroke="#353535" stroke-width="0.4"/><path d="M113.60,101.11L116.71,102.05L118.57,100.42L115.47,99.49Z" fill="#2d2d2d" stroke="#2d2d2d" stroke-width="0.4"/><path d="M115.47,99.49L118.57,100.42L120.42,98.81L117.32,97.88Z" fill="#404040" stroke="#404040" stroke-width="0.4"/><path d="M117.32,97.88L120.42,98.81L122.26,97.20L119.17,96.28Z" fill="#393939" stroke="#393939" stroke-width="0.4"/><path d="M119.17,96.28L122.26,97.20L124.09,95.60L121.00,94.68Z" fill="#393939" stroke="#393939" stroke-width="0.4"/><path d="M121.00,94.68L124.09,95.60L125.92,94.01L122.83,93.09Z" fill="#333333" stroke="#333333" stroke-width="0.4"/><path d="M122.83,93.09L125.92,94.01L127.73,92.42L124.65,91.51Z" fill="#2f2f2f" stroke="#2f2f2f" stroke-width="0.4"/><path d="M69.04,143.71L72.29,144.77L74.39,142.92L71.15,141.86Z" fill="#454545" stroke="#454545" stroke-width="0.4"/><path d="M71.15,141.86L74.39,142.92L76.49,141.08L73.25,140.03Z" fill="#3e3e3e" stroke="#3e3e3e" stroke-width="0.4"/><path d="M73.25,140.03L76.49,141.08L78.57,139.25L75.33,138.20Z" fill="#323232" stroke="#323232" stroke-width="0.4"/><path d="M75.33,138.20L78.57,139.25L80.64,137.43L77.41,136.39Z" fill="#3d3d3d" stroke="#3d3d3d" stroke-width="0.4"/><path d="M77.41,136.39L80.64,137.43L82.70,135.62L79.48,134.59Z" fill="#3d3d3d" stroke="#3d3d3d" stroke-width="0.4"/><path d="M79.48,134.59L82.70,135.62L84.75,133.82L81.53,132.79Z" fill="#3e3e3e" stroke="#3e3e3e" stroke-width="0.4"/><path d="M81.53,132.79L84.75,133.82L86.79,132.03L83.57,131.00Z" fill="#4b4b4b" stroke="#4b4b4b" stroke-width="0.4"/><path d="M83.57,131.00L86.79,132.03L88.81,130.25L85.61,129.23Z" fill="#3a3a3a" stroke="#3a3a3a" stroke-width="0.4"/><path d="M85.61,129.23L88.81,130.25L90.83,128.47L87.63,127.46Z" fill="#303030" stroke="#303030" stroke-width="0.4"/><path d="M87.63,127.46L90.83,128.47L92.83,126.71L89.64,125.71Z" fill="#3b3b3b" stroke="#3b3b3b" stroke-width="0.4"/><path d="M89.64,125.71L92.83,126.71L94.83,124.96L91.64,123.96Z" fill="#353535" stroke="#353535" stroke-width="0.4"/><path d="M91.64,123.96L94.83,124.96L96.81,123.22L93.63,122.22Z" fill="#3e3e3e" stroke="#3e3e3e" stroke-width="0.4"/><path d="M93.63,122.22L96.81,123.22L98.79,121.48L95.61,120.49Z" fill="#3c3c3c" stroke="#3c3c3c" stroke-width="0.4"/><path d="M95.61,120.49L98.79,121.48L100.75,119.76L97.58,118.77Z" fill="#3d3d3d" stroke="#3d3d3d" stroke-width="0.4"/><path d="M97.58,118.77L100.75,119.76L102.70,118.04L99.54,117.06Z" fill="#363636" stroke="#363636" stroke-width="0.4"/><path d="M99.54,117.06L102.70,118.04L104.65,116.33L101.48,115.35Z" fill="#3d3d3d" stroke="#3d3d3d" stroke-width="0.4"/><path d="M101.48,115.35L104.65,116.33L106.58,114.63L103.42,113.66Z" fill="#363636" stroke="#363636" stroke-width="0.4"/><path d="M103.42,113.66L106.58,114.63L108.50,112.94L105.35,111.98Z" fill="#3e3e3e" stroke="#3e3e3e" stroke-width="0.4"/><path d="M105.35,111.98L108.50,112.94L110.41,111.26L107.27,110.30Z" fill="#383838" stroke="#383838" stroke-width="0.4"/><path d="M107.27,110.30L110.41,111.26L112.32,109.59L109.18,108.63Z" fill="#323232" stroke="#323232" stroke-width="0.4"/><path d="M109.18,108.63L112.32,109.59L114.21,107.93L111.07,106.97Z" fill="#3e3e3e" stroke="#3e3e3e" stroke-width="0.4"/><path d="M111.07,106.97L114.21,107.93L116.09,106.27L112.96,105.32Z" fill="#353535" stroke="#353535" stroke-width="0.4"/><path d="M112.96,105.32L116.09,106.27L117.97,104.62L114.84,103.68Z" fill="#454545" stroke="#454545" stroke-width="0.4"/><path d="M114.84,103.68L117.97,104.62L119.83,102.99L116.71,102.05Z" fill="#3e3e3e" stroke="#3e3e3e" stroke-width="0.4"/><path d="M116.71,102.05L119.83,102.99L121.68,101.36L118.57,100.42Z" fill="#3e3e3e" stroke="#3e3e3e" stroke-width="0.4"/><path d="M118.57,100.42L121.68,101.36L123.53,99.73L120.42,98.81Z" fill="#3b3b3b" stroke="#3b3b3b" stroke-width="0.4"/><path d="M120.42,98.81L123.53,99.73L125.36,98.12L122.26,97.20Z" fill="#3a3a3a" stroke="#3a3a3a" stroke-width="0.4"/><path d="M122.26,97.20L125.36,98.12L127.19,96.52L124.09,95.60Z" fill="#282828" stroke="#282828" stroke-width="0.4"/><path d="M124.09,95.60L127.19,96.52L129.01,94.92L125.92,94.01Z" fill="#444444" stroke="#444444" stroke-width="0.4"/><path d="M125.92,94.01L129.01,94.92L130.82,93.33L127.73,92.42Z" fill="#343434" stroke="#343434" stroke-width="0.4"/><path d="M72.29,144.77L75.55,145.84L77.65,143.98L74.39,142.92Z" fill="#424242" stroke="#424242" stroke-width="0.4"/><path d="M74.39,142.92L77.65,143.98L79.74,142.13L76.49,141.08Z" fill="#363636" stroke="#363636" stroke-width="0.4"/><path d="M76.49,141.08L79.74,142.13L81.81,140.30L78.57,139.25Z" fill="#3a3a3a" stroke="#3a3a3a" stroke-width="0.4"/><path d="M78.57,139.25L81.81,140.30L83.88,138.47L80.64,137.43Z" fill="#393939" stroke="#393939" stroke-width="0.4"/><path d="M80.64,137.43L83.88,138.47L85.93,136.66L82.70,135.62Z" fill="#333333" stroke="#333333" stroke-width="0.4"/><path d="M82.70,135.62L85.93,136.66L87.97,134.85L84.75,133.82Z" fill="#3a3a3a" stroke="#3a3a3a" stroke-width="0.4"/><path d="M84.75,133.82L87.97,134.85L90.01,133.05L86.79,132.03Z" fill="#3f3f3f" stroke="#3f3f3f" stroke-width="0.4"/><path d="M86.79,132.03L90.01,133.05L92.03,131.27L88.81,130.25Z" fill="#383838" stroke="#383838" stroke-width="0.4"/><path d="M88.81,130.25L92.03,131.27L94.04,129.49L90.83,128.47Z" fill="#313131" stroke="#313131" stroke-width="0.4"/><path d="M90.83,128.47L94.04,129.49L96.04,127.72L92.83,126.71Z" fill="#373737" stroke="#373737" stroke-width="0.4"/><path d="M92.83,126.71L96.04,127.72L98.03,125.96L94.83,124.96Z" fill="#3d3d3d" stroke="#3d3d3d" stroke-width="0.4"/><path d="M94.83,124.96L98.03,125.96L100.01,124.22L96.81,123.22Z" fill="#444444" stroke="#444444" stroke-width="0.4"/><path d="M96.81,123.22L100.01,124.22L101.97,122.48L98.79,121.48Z" fill="#414141" stroke="#414141" stroke-width="0.4"/><path d="M98.79,121.48L101.97,122.48L103.93,120.74L100.75,119.76Z" fill="#3d3d3d" stroke="#3d3d3d" stroke-width="0.4"/><path d="M100.75,119.76L103.93,120.74L105.88,119.02L102.70,118.04Z" fill="#333333" stroke="#333333" stroke-width="0.4"/><path d="M102.70,118.04L105.88,119.02L107.82,117.31L104.65,116.33Z" fill="#424242" stroke="#424242" stroke-width="0.4"/><path d="M104.65,116.33L107.82,117.31L109.74,115.61L106.58,114.63Z" fill="#3b3b3b" stroke="#3b3b3b" stroke-width="0.4"/><path d="M106.58,114.63L109.74,115.61L111.66,113.91L108.50,112.94Z" fill="#393939" stroke="#393939" stroke-width="0.4"/><path d="M108.50,112.94L111.66,113.91L113.57,112.23L110.41,111.26Z" fill="#424242" stroke="#424242" stroke-width="0.4"/><path d="M110.41,111.26L113.57,112.23L115.47,110.55L112.32,109.59Z" fill="#404040" stroke="#404040" stroke-width="0.4"/><path d="M112.32,109.59L115.47,110.55L117.35,108.88L114.21,107.93Z" fill="#3f3f3f" stroke="#3f3f3f" stroke-width="0.4"/><path d="M114.21,107.93L117.35,108.88L119.23,107.22L116.09,106.27Z" fill="#323232" stroke="#323232" stroke-width="0.4"/><path d="M116.09,106.27L119.23,107.22L121.10,105.57L117.97,104.62Z" fill="#363636" stroke="#363636" stroke-width="0.4"/><path d="M117.97,104.62L121.10,105.57L122.96,103.93L119.83,102.99Z" fill="#2e2e2e" stroke="#2e2e2e" stroke-width="0.4"/><path d="M119.83,102.99L122.96,103.93L124.81,102.29L121.68,101.36Z" fill="#3d3d3d" stroke="#3d3d3d" stroke-width="0.4"/><path d="M121.68,101.36L124.81,102.29L126.65,100.67L123.53,99.73Z" fill="#3b3b3b" stroke="#3b3b3b" stroke-width="0.4"/><path d="M123.53,99.73L126.65,100.67L128.48,99.05L125.36,98.12Z" fill="#424242" stroke="#424242" stroke-width="0.4"/><path d="M125.36,98.12L128.48,99.05L130.30,97.44L127.19,96.52Z" fill="#3d3d3d" stroke="#3d3d3d" stroke-width="0.4"/><path d="M127.19,96.52L130.30,97.44L132.11,95.84L129.01,94.92Z" fill="#383838" stroke="#383838" stroke-width="0.4"/><path d="M129.01,94.92L132.11,95.84L133.91,94.24L130.82,93.33Z" fill="#4b4b4b" stroke="#4b4b4b" stroke-width="0.4"/><path d="M75.55,145.84L78.82,146.90L80.91,145.04L77.65,143.98Z" fill="#343434" stroke="#343434" stroke-width="0.4"/><path d="M77.65,143.98L80.91,145.04L82.99,143.19L79.74,142.13Z" fill="#323232" stroke="#323232" stroke-width="0.4"/><path d="M79.74,142.13L82.99,143.19L85.07,141.35L81.81,140.30Z" fill="#373737" stroke="#373737" stroke-width="0.4"/><path d="M81.81,140.30L85.07,141.35L87.13,139.52L83.88,138.47Z" fill="#404040" stroke="#404040" stroke-width="0.4"/><path d="M83.88,138.47L87.13,139.52L89.17,137.70L85.93,136.66Z" fill="#393939" stroke="#393939" stroke-width="0.4"/><path d="M85.93,136.66L89.17,137.70L91.21,135.89L87.97,134.85Z" fill="#393939" stroke="#393939" stroke-width="0.4"/><path d="M87.97,134.85L91.21,135.89L93.24,134.08L90.01,133.05Z" fill="#333333" stroke="#333333" stroke-width="0.4"/><path d="M90.01,133.05L93.24,134.08L95.25,132.29L92.03,131.27Z" fill="#474747" stroke="#474747" stroke-width="0.4"/><path d="M92.03,131.27L95.25,132.29L97.26,130.51L94.04,129.49Z" fill="#373737" stroke="#373737" stroke-width="0.4"/><path d="M94.04,129.49L97.26,130.51L99.25,128.74L96.04,127.72Z" fill="#343434" stroke="#343434" stroke-width="0.4"/><path d="M96.04,127.72L99.25,128.74L101.24,126.97L98.03,125.96Z" fill="#3b3b3b" stroke="#3b3b3b" stroke-width="0.4"/><path d="M98.03,125.96L101.24,126.97L103.21,125.22L100.01,124.22Z" fill="#363636" stroke="#363636" stroke-width="0.4"/><path d="M100.01,124.22L103.21,125.22L105.17,123.47L101.97,122.48Z" fill="#3a3a3a" stroke="#3a3a3a" stroke-width="0.4"/><path d="M101.97,122.48L105.17,123.47L107.12,121.74L103.93,120.74Z" fill="#464646" stroke="#464646" stroke-width="0.4"/><path d="M103.93,120.74L107.12,121.74L109.07,120.01L105.88,119.02Z" fill="#393939" stroke="#393939" stroke-width="0.4"/><path d="M105.88,119.02L109.07,120.01L111.00,118.29L107.82,117.31Z" fill="#3c3c3c" stroke="#3c3c3c" stroke-width="0.4"/><path d="M107.82,117.31L111.00,118.29L112.92,116.58L109.74,115.61Z" fill="#393939" stroke="#393939" stroke-width="0.4"/><path d="M109.74,115.61L112.92,116.58L114.83,114.88L111.66,113.91Z" fill="#3a3a3a" stroke="#3a3a3a" stroke-width="0.4"/><path d="M111.66,113.91L114.83,114.88L116.73,113.19L113.57,112.23Z" fill="#424242" stroke="#424242" stroke-width="0.4"/><path d="M113.57,112.23L116.73,113.19L118.62,111.51L115.47,110.55Z" fill="#404040" stroke="#404040" stroke-width="0.4"/><path d="M115.47,110.55L118.62,111.51L120.51,109.84L117.35,108.88Z" fill="#393939" stroke="#393939" stroke-width="0.4"/><path d="M117.35,108.88L120.51,109.84L122.38,108.17L119.23,107.22Z" fill="#353535" stroke="#353535" stroke-width="0.4"/><path d="M119.23,107.22L122.38,108.17L124.24,106.52L121.10,105.57Z" fill="#3b3b3b" stroke="#3b3b3b" stroke-width="0.4"/><path d="M121.10,105.57L124.24,106.52L126.09,104.87L122.96,103.93Z" fill="#424242" stroke="#424242" stroke-width="0.4"/><path d="M122.96,103.93L126.09,104.87L127.94,103.23L124.81,102.29Z" fill="#3c3c3c" stroke="#3c3c3c" stroke-width="0.4"/><path d="M124.81,102.29L127.94,103.23L129.77,101.60L126.65,100.67Z" fill="#3b3b3b" stroke="#3b3b3b" stroke-width="0.4"/><path d="M126.65,100.67L129.77,101.60L131.60,99.98L128.48,99.05Z" fill="#2e2e2e" stroke="#2e2e2e" stroke-width="0.4"/><path d="M128.48,99.05L131.60,99.98L133.41,98.36L130.30,97.44Z" fill="#444444" stroke="#444444" stroke-width="0.4"/><path d="M130.30,97.44L133.41,98.36L135.22,96.76L132.11,95.84Z" fill="#313131" stroke="#313131" stroke-width="0.4"/><path d="M132.11,95.84L135.22,96.76L137.02,95.16L133.91,94.24Z" fill="#323232" stroke="#323232" stroke-width="0.4"/><path d="M78.82,146.90L82.10,147.98L84.19,146.11L80.91,145.04Z" fill="#3a3a3a" stroke="#3a3a3a" stroke-width="0.4"/><path d="M80.91,145.04L84.19,146.11L86.26,144.25L82.99,143.19Z" fill="#3d3d3d" stroke="#3d3d3d" stroke-width="0.4"/><path d="M82.99,143.19L86.26,144.25L88.33,142.40L85.07,141.35Z" fill="#3d3d3d" stroke="#3d3d3d" stroke-width="0.4"/><path d="M85.07,141.35L88.33,142.40L90.38,140.57L87.13,139.52Z" fill="#373737" stroke="#373737" stroke-width="0.4"/><path d="M87.13,139.52L90.38,140.57L92.43,138.74L89.17,137.70Z" fill="#3a3a3a" stroke="#3a3a3a" stroke-width="0.4"/><path d="M89.17,137.70L92.43,138.74L94.46,136.92L91.21,135.89Z" fill="#383838" stroke="#383838" stroke-width="0.4"/><path d="M91.21,135.89L94.46,136.92L96.48,135.12L93.24,134.08Z" fill="#2f2f2f" stroke="#2f2f2f" stroke-width="0.4"/><path d="M93.24,134.08L96.48,135.12L98.49,133.32L95.25,132.29Z" fill="#3b3b3b" stroke="#3b3b3b" stroke-width="0.4"/><path d="M95.25,132.29L98.49,133.32L100.49,131.53L97.26,130.51Z" fill="#373737" stroke="#373737" stroke-width="0.4"/><path d="M97.26,130.51L100.49,131.53L102.48,129.75L99.25,128.74Z" fill="#404040" stroke="#404040" stroke-width="0.4"/><path d="M99.25,128.74L102.48,129.75L104.45,127.98L101.24,126.97Z" fill="#3c3c3c" stroke="#3c3c3c" stroke-width="0.4"/><path d="M101.24,126.97L104.45,127.98L106.42,126.22L103.21,125.22Z" fill="#444444" stroke="#444444" stroke-width="0.4"/><path d="M103.21,125.22L106.42,126.22L108.38,124.47L105.17,123.47Z" fill="#424242" stroke="#424242" stroke-width="0.4"/><path d="M105.17,123.47L108.38,124.47L110.32,122.73L107.12,121.74Z" fill="#444444" stroke="#444444" stroke-width="0.4"/><path d="M107.12,121.74L110.32,122.73L112.26,121.00L109.07,120.01Z" fill="#464646" stroke="#464646" stroke-width="0.4"/><path d="M109.07,120.01L112.26,121.00L114.19,119.28L111.00,118.29Z" fill="#424242" stroke="#424242" stroke-width="0.4"/><path d="M111.00,118.29L114.19,119.28L116.10,117.56L112.92,116.58Z" fill="#3c3c3c" stroke="#3c3c3c" stroke-width="0.4"/><path d="M112.92,116.58L116.10,117.56L118.01,115.86L114.83,114.88Z" fill="#474747" stroke="#474747" stroke-width="0.4"/><path d="M114.83,114.88L118.01,115.86L119.91,114.16L116.73,113.19Z" fill="#363636" stroke="#363636" stroke-width="0.4"/><path d="M116.73,113.19L119.91,114.16L121.79,112.48L118.62,111.51Z" fill="#3d3d3d" stroke="#3d3d3d" stroke-width="0.4"/><path d="M118.62,111.51L121.79,112.48L123.67,110.80L120.51,109.84Z" fill="#434343" stroke="#434343" stroke-width="0.4"/><path d="M120.51,109.84L123.67,110.80L125.54,109.13L122.38,108.17Z" fill="#3b3b3b" stroke="#3b3b3b" stroke-width="0.4"/><path d="M122.38,108.17L125.54,109.13L127.39,107.47L124.24,106.52Z" fill="#424242" stroke="#424242" stroke-width="0.4"/><path d="M124.24,106.52L127.39,107.47L129.24,105.81L126.09,104.87Z" fill="#373737" stroke="#373737" stroke-width="0.4"/><path d="M126.09,104.87L129.24,105.81L131.08,104.17L127.94,103.23Z" fill="#393939" stroke="#393939" stroke-width="0.4"/><path d="M127.94,103.23L131.08,104.17L132.91,102.53L129.77,101.60Z" fill="#414141" stroke="#414141" stroke-width="0.4"/><path d="M129.77,101.60L132.91,102.53L134.73,100.91L131.60,99.98Z" fill="#424242" stroke="#424242" stroke-width="0.4"/><path d="M131.60,99.98L134.73,100.91L136.54,99.29L133.41,98.36Z" fill="#464646" stroke="#464646" stroke-width="0.4"/><path d="M133.41,98.36L136.54,99.29L138.34,97.68L135.22,96.76Z" fill="#3c3c3c" stroke="#3c3c3c" stroke-width="0.4"/><path d="M135.22,96.76L138.34,97.68L140.13,96.07L137.02,95.16Z" fill="#3f3f3f" stroke="#3f3f3f" stroke-width="0.4"/><path d="M82.10,147.98L85.39,149.05L87.47,147.18L84.19,146.11Z" fill="#424242" stroke="#424242" stroke-width="0.4"/><path d="M84.19,146.11L87.47,147.18L89.54,145.31L86.26,144.25Z" fill="#414141" stroke="#414141" stroke-width="0.4"/><path d="M86.26,144.25L89.54,145.31L91.60,143.46L88.33,142.40Z" fill="#343434" stroke="#343434" stroke-width="0.4"/><path d="M88.33,142.40L91.60,143.46L93.65,141.62L90.38,140.57Z" fill="#393939" stroke="#393939" stroke-width="0.4"/><path d="M90.38,140.57L93.65,141.62L95.69,139.79L92.43,138.74Z" fill="#494949" stroke="#494949" stroke-width="0.4"/><path d="M92.43,138.74L95.69,139.79L97.71,137.96L94.46,136.92Z" fill="#343434" stroke="#343434" stroke-width="0.4"/><path d="M94.46,136.92L97.71,137.96L99.73,136.15L96.48,135.12Z" fill="#424242" stroke="#424242" stroke-width="0.4"/><path d="M96.48,135.12L99.73,136.15L101.73,134.35L98.49,133.32Z" fill="#3a3a3a" stroke="#3a3a3a" stroke-width="0.4"/><path d="M98.49,133.32L101.73,134.35L103.73,132.56L100.49,131.53Z" fill="#454545" stroke="#454545" stroke-width="0.4"/><path d="M100.49,131.53L103.73,132.56L105.71,130.77L102.48,129.75Z" fill="#383838" stroke="#383838" stroke-width="0.4"/><path d="M102.48,129.75L105.71,130.77L107.68,129.00L104.45,127.98Z" fill="#3e3e3e" stroke="#3e3e3e" stroke-width="0.4"/><path d="M104.45,127.98L107.68,129.00L109.64,127.23L106.42,126.22Z" fill="#2e2e2e" stroke="#2e2e2e" stroke-width="0.4"/><path d="M106.42,126.22L109.64,127.23L111.59,125.48L108.38,124.47Z" fill="#3d3d3d" stroke="#3d3d3d" stroke-width="0.4"/><path d="M108.38,124.47L111.59,125.48L113.53,123.73L110.32,122.73Z" fill="#464646" stroke="#464646" stroke-width="0.4"/><path d="M110.32,122.73L113.53,123.73L115.47,121.99L112.26,121.00Z" fill="#323232" stroke="#323232" stroke-width="0.4"/><path d="M112.26,121.00L115.47,121.99L117.39,120.27L114.19,119.28Z" fill="#474747" stroke="#474747" stroke-width="0.4"/><path d="M114.19,119.28L117.39,120.27L119.30,118.55L116.10,117.56Z" fill="#383838" stroke="#383838" stroke-width="0.4"/><path d="M116.10,117.56L119.30,118.55L121.20,116.84L118.01,115.86Z" fill="#3d3d3d" stroke="#3d3d3d" stroke-width="0.4"/><path d="M118.01,115.86L121.20,116.84L123.09,115.14L119.91,114.16Z" fill="#282828" stroke="#282828" stroke-width="0.4"/><path d="M119.91,114.16L123.09,115.14L124.97,113.44L121.79,112.48Z" fill="#464646" stroke="#464646" stroke-width="0.4"/><path d="M121.79,112.48L124.97,113.44L126.84,111.76L123.67,110.80Z" fill="#373737" stroke="#373737" stroke-width="0.4"/><path d="M123.67,110.80L126.84,111.76L128.70,110.09L125.54,109.13Z" fill="#3a3a3a" stroke="#3a3a3a" stroke-width="0.4"/><path d="M125.54,109.13L128.70,110.09L130.55,108.42L127.39,107.47Z" fill="#343434" stroke="#343434" stroke-width="0.4"/><path d="M127.39,107.47L130.55,108.42L132.39,106.76L129.24,105.81Z" fill="#363636" stroke="#363636" stroke-width="0.4"/><path d="M129.24,105.81L132.39,106.76L134.23,105.11L131.08,104.17Z" fill="#464646" stroke="#464646" stroke-width="0.4"/><path d="M131.08,104.17L134.23,105.11L136.05,103.47L132.91,102.53Z" fill="#3a3a3a" stroke="#3a3a3a" stroke-width="0.4"/><path d="M132.91,102.53L136.05,103.47L137.87,101.84L134.73,100.91Z" fill="#444444" stroke="#444444" stroke-width="0.4"/><path d="M134.73,100.91L137.87,101.84L139.67,100.22L136.54,99.29Z" fill="#3c3c3c" stroke="#3c3c3c" stroke-width="0.4"/><path d="M136.54,99.29L139.67,100.22L141.47,98.60L138.34,97.68Z" fill="#404040" stroke="#404040" stroke-width="0.4"/><path d="M138.34,97.68L141.47,98.60L143.25,96.99L140.13,96.07Z" fill="#3a3a3a" stroke="#3a3a3a" stroke-width="0.4"/><path d="M85.39,149.05L88.69,150.13L90.77,148.25L87.47,147.18Z" fill="#424242" stroke="#424242" stroke-width="0.4"/><path d="M87.47,147.18L90.77,148.25L92.83,146.38L89.54,145.31Z" fill="#525252" stroke="#525252" stroke-width="0.4"/><path d="M89.54,145.31L92.83,146.38L94.88,144.52L91.60,143.46Z" fill="#434343" stroke="#434343" stroke-width="0.4"/><path d="M91.60,143.46L94.88,144.52L96.93,142.68L93.65,141.62Z" fill="#424242" stroke="#424242" stroke-width="0.4"/><path d="M93.65,141.62L96.93,142.68L98.96,140.84L95.69,139.79Z" fill="#3b3b3b" stroke="#3b3b3b" stroke-width="0.4"/><path d="M95.69,139.79L98.96,140.84L100.98,139.01L97.71,137.96Z" fill="#464646" stroke="#464646" stroke-width="0.4"/><path d="M97.71,137.96L100.98,139.01L102.99,137.19L99.73,136.15Z" fill="#494949" stroke="#494949" stroke-width="0.4"/><path d="M99.73,136.15L102.99,137.19L104.99,135.38L101.73,134.35Z" fill="#313131" stroke="#313131" stroke-width="0.4"/><path d="M101.73,134.35L104.99,135.38L106.97,133.58L103.73,132.56Z" fill="#343434" stroke="#343434" stroke-width="0.4"/><path d="M103.73,132.56L106.97,133.58L108.95,131.79L105.71,130.77Z" fill="#4f4f4f" stroke="#4f4f4f" stroke-width="0.4"/><path d="M105.71,130.77L108.95,131.79L110.92,130.01L107.68,129.00Z" fill="#424242" stroke="#424242" stroke-width="0.4"/><path d="M107.68,129.00L110.92,130.01L112.87,128.24L109.64,127.23Z" fill="#3f3f3f" stroke="#3f3f3f" stroke-width="0.4"/><path d="M109.64,127.23L112.87,128.24L114.82,126.48L111.59,125.48Z" fill="#434343" stroke="#434343" stroke-width="0.4"/><path d="M111.59,125.48L114.82,126.48L116.75,124.73L113.53,123.73Z" fill="#474747" stroke="#474747" stroke-width="0.4"/><path d="M113.53,123.73L116.75,124.73L118.68,122.99L115.47,121.99Z" fill="#454545" stroke="#454545" stroke-width="0.4"/><path d="M115.47,121.99L118.68,122.99L120.59,121.26L117.39,120.27Z" fill="#3d3d3d" stroke="#3d3d3d" stroke-width="0.4"/><path d="M117.39,120.27L120.59,121.26L122.50,119.53L119.30,118.55Z" fill="#4e4e4e" stroke="#4e4e4e" stroke-width="0.4"/><path d="M119.30,118.55L122.50,119.53L124.39,117.82L121.20,116.84Z" fill="#3f3f3f" stroke="#3f3f3f" stroke-width="0.4"/><path d="M121.20,116.84L124.39,117.82L126.28,116.11L123.09,115.14Z" fill="#383838" stroke="#383838" stroke-width="0.4"/><path d="M123.09,115.14L126.28,116.11L128.15,114.41L124.97,113.44Z" fill="#3a3a3a" stroke="#3a3a3a" stroke-width="0.4"/><path d="M124.97,113.44L128.15,114.41L130.02,112.73L126.84,111.76Z" fill="#3d3d3d" stroke="#3d3d3d" stroke-width="0.4"/><path d="M126.84,111.76L130.02,112.73L131.88,111.05L128.70,110.09Z" fill="#3c3c3c" stroke="#3c3c3c" stroke-width="0.4"/><path d="M128.70,110.09L131.88,111.05L133.72,109.38L130.55,108.42Z" fill="#3d3d3d" stroke="#3d3d3d" stroke-width="0.4"/><path d="M130.55,108.42L133.72,109.38L135.56,107.71L132.39,106.76Z" fill="#414141" stroke="#414141" stroke-width="0.4"/><path d="M132.39,106.76L135.56,107.71L137.39,106.06L134.23,105.11Z" fill="#252525" stroke="#252525" stroke-width="0.4"/><path d="M134.23,105.11L137.39,106.06L139.20,104.41L136.05,103.47Z" fill="#393939" stroke="#393939" stroke-width="0.4"/><path d="M136.05,103.47L139.20,104.41L141.01,102.78L137.87,101.84Z" fill="#464646" stroke="#464646" stroke-width="0.4"/><path d="M137.87,101.84L141.01,102.78L142.81,101.15L139.67,100.22Z" fill="#434343" stroke="#434343" stroke-width="0.4"/><path d="M139.67,100.22L142.81,101.15L144.60,99.53L141.47,98.60Z" fill="#393939" stroke="#393939" stroke-width="0.4"/><path d="M141.47,98.60L144.60,99.53L146.38,97.92L143.25,96.99Z" fill="#3a3a3a" stroke="#3a3a3a" stroke-width="0.4"/><path d="M88.69,150.13L92.00,151.21L94.07,149.33L90.77,148.25Z" fill="#484848" stroke="#484848" stroke-width="0.4"/><path d="M90.77,148.25L94.07,149.33L96.13,147.45L92.83,146.38Z" fill="#3d3d3d" stroke="#3d3d3d" stroke-width="0.4"/><path d="M92.83,146.38L96.13,147.45L98.18,145.59L94.88,144.52Z" fill="#3b3b3b" stroke="#3b3b3b" stroke-width="0.4"/><path d="M94.88,144.52L98.18,145.59L100.21,143.73L96.93,142.68Z" fill="#4e4e4e" stroke="#4e4e4e" stroke-width="0.4"/><path d="M96.93,142.68L100.21,143.73L102.24,141.89L98.96,140.84Z" fill="#3c3c3c" stroke="#3c3c3c" stroke-width="0.4"/><path d="M98.96,140.84L102.24,141.89L104.25,140.06L100.98,139.01Z" fill="#454545" stroke="#454545" stroke-width="0.4"/><path d="M100.98,139.01L104.25,140.06L106.26,138.23L102.99,137.19Z" fill="#3f3f3f" stroke="#3f3f3f" stroke-width="0.4"/><path d="M102.99,137.19L106.26,138.23L108.25,136.42L104.99,135.38Z" fill="#404040" stroke="#404040" stroke-width="0.4"/><path d="M104.99,135.38L108.25,136.42L110.23,134.61L106.97,133.58Z" fill="#383838" stroke="#383838" stroke-width="0.4"/><path d="M106.97,133.58L110.23,134.61L112.20,132.82L108.95,131.79Z" fill="#393939" stroke="#393939" stroke-width="0.4"/><path d="M108.95,131.79L112.20,132.82L114.16,131.03L110.92,130.01Z" fill="#494949" stroke="#494949" stroke-width="0.4"/><path d="M110.92,130.01L114.16,131.03L116.11,129.26L112.87,128.24Z" fill="#373737" stroke="#373737" stroke-width="0.4"/><path d="M112.87,128.24L116.11,129.26L118.05,127.49L114.82,126.48Z" fill="#414141" stroke="#414141" stroke-width="0.4"/><path d="M114.82,126.48L118.05,127.49L119.98,125.74L116.75,124.73Z" fill="#363636" stroke="#363636" stroke-width="0.4"/><path d="M116.75,124.73L119.98,125.74L121.90,123.99L118.68,122.99Z" fill="#3d3d3d" stroke="#3d3d3d" stroke-width="0.4"/><path d="M118.68,122.99L121.90,123.99L123.81,122.25L120.59,121.26Z" fill="#3f3f3f" stroke="#3f3f3f" stroke-width="0.4"/><path d="M120.59,121.26L123.81,122.25L125.71,120.52L122.50,119.53Z" fill="#333333" stroke="#333333" stroke-width="0.4"/><path d="M122.50,119.53L125.71,120.52L127.60,118.80L124.39,117.82Z" fill="#484848" stroke="#484848" stroke-width="0.4"/><path d="M124.39,117.82L127.60,118.80L129.48,117.09L126.28,116.11Z" fill="#3e3e3e" stroke="#3e3e3e" stroke-width="0.4"/><path d="M126.28,116.11L129.48,117.09L131.35,115.39L128.15,114.41Z" fill="#494949" stroke="#494949" stroke-width="0.4"/><path d="M128.15,114.41L131.35,115.39L133.21,113.69L130.02,112.73Z" fill="#383838" stroke="#383838" stroke-width="0.4"/><path d="M130.02,112.73L133.21,113.69L135.06,112.01L131.88,111.05Z" fill="#464646" stroke="#464646" stroke-width="0.4"/><path d="M131.88,111.05L135.06,112.01L136.90,110.33L133.72,109.38Z" fill="#515151" stroke="#515151" stroke-width="0.4"/><path d="M133.72,109.38L136.90,110.33L138.73,108.67L135.56,107.71Z" fill="#414141" stroke="#414141" stroke-width="0.4"/><path d="M135.56,107.71L138.73,108.67L140.55,107.01L137.39,106.06Z" fill="#3a3a3a" stroke="#3a3a3a" stroke-width="0.4"/><path d="M137.39,106.06L140.55,107.01L142.37,105.36L139.20,104.41Z" fill="#434343" stroke="#434343" stroke-width="0.4"/><path d="M139.20,104.41L142.37,105.36L144.17,103.72L141.01,102.78Z" fill="#404040" stroke="#404040" stroke-width="0.4"/><path d="M141.01,102.78L144.17,103.72L145.96,102.08L142.81,101.15Z" fill="#3e3e3e" stroke="#3e3e3e" stroke-width="0.4"/><path d="M142.81,101.15L145.96,102.08L147.75,100.46L144.60,99.53Z" fill="#3e3e3e" stroke="#3e3e3e" stroke-width="0.4"/><path d="M144.60,99.53L147.75,100.46L149.52,98.84L146.38,97.92Z" fill="#3b3b3b" stroke="#3b3b3b" stroke-width="0.4"/><path d="M92.00,151.21L95.32,152.30L97.39,150.41L94.07,149.33Z" fill="#434343" stroke="#434343" stroke-width="0.4"/><path d="M94.07,149.33L97.39,150.41L99.44,148.53L96.13,147.45Z" fill="#3d3d3d" stroke="#3d3d3d" stroke-width="0.4"/><path d="M96.13,147.45L99.44,148.53L101.48,146.66L98.18,145.59Z" fill="#3a3a3a" stroke="#3a3a3a" stroke-width="0.4"/><path d="M98.18,145.59L101.48,146.66L103.51,144.80L100.21,143.73Z" fill="#464646" stroke="#464646" stroke-width="0.4"/><path d="M100.21,143.73L103.51,144.80L105.53,142.95L102.24,141.89Z" fill="#3f3f3f" stroke="#3f3f3f" stroke-width="0.4"/><path d="M102.24,141.89L105.53,142.95L107.54,141.11L104.25,140.06Z" fill="#545454" stroke="#545454" stroke-width="0.4"/><path d="M104.25,140.06L107.54,141.11L109.54,139.28L106.26,138.23Z" fill="#3e3e3e" stroke="#3e3e3e" stroke-width="0.4"/><path d="M106.26,138.23L109.54,139.28L111.52,137.46L108.25,136.42Z" fill="#3b3b3b" stroke="#3b3b3b" stroke-width="0.4"/><path d="M108.25,136.42L111.52,137.46L113.50,135.65L110.23,134.61Z" fill="#3c3c3c" stroke="#3c3c3c" stroke-width="0.4"/><path d="M110.23,134.61L113.50,135.65L115.47,133.85L112.20,132.82Z" fill="#434343" stroke="#434343" stroke-width="0.4"/><path d="M112.20,132.82L115.47,133.85L117.42,132.06L114.16,131.03Z" fill="#3b3b3b" stroke="#3b3b3b" stroke-width="0.4"/><path d="M114.16,131.03L117.42,132.06L119.36,130.28L116.11,129.26Z" fill="#373737" stroke="#373737" stroke-width="0.4"/><path d="M116.11,129.26L119.36,130.28L121.30,128.50L118.05,127.49Z" fill="#4d4d4d" stroke="#4d4d4d" stroke-width="0.4"/><path d="M118.05,127.49L121.30,128.50L123.22,126.74L119.98,125.74Z" fill="#373737" stroke="#373737" stroke-width="0.4"/><path d="M119.98,125.74L123.22,126.74L125.14,124.99L121.90,123.99Z" fill="#4c4c4c" stroke="#4c4c4c" stroke-width="0.4"/><path d="M121.90,123.99L125.14,124.99L127.04,123.25L123.81,122.25Z" fill="#414141" stroke="#414141" stroke-width="0.4"/><path d="M123.81,122.25L127.04,123.25L128.93,121.51L125.71,120.52Z" fill="#383838" stroke="#383838" stroke-width="0.4"/><path d="M125.71,120.52L128.93,121.51L130.82,119.79L127.60,118.80Z" fill="#4d4d4d" stroke="#4d4d4d" stroke-width="0.4"/><path d="M127.60,118.80L130.82,119.79L132.69,118.07L129.48,117.09Z" fill="#3f3f3f" stroke="#3f3f3f" stroke-width="0.4"/><path d="M129.48,117.09L132.69,118.07L134.55,116.36L131.35,115.39Z" fill="#383838" stroke="#383838" stroke-width="0.4"/><path d="M131.35,115.39L134.55,116.36L136.41,114.67L133.21,113.69Z" fill="#414141" stroke="#414141" stroke-width="0.4"/><path d="M133.21,113.69L136.41,114.67L138.25,112.98L135.06,112.01Z" fill="#4a4a4a" stroke="#4a4a4a" stroke-width="0.4"/><path d="M135.06,112.01L138.25,112.98L140.09,111.30L136.90,110.33Z" fill="#454545" stroke="#454545" stroke-width="0.4"/><path d="M136.90,110.33L140.09,111.30L141.91,109.62L138.73,108.67Z" fill="#464646" stroke="#464646" stroke-width="0.4"/><path d="M138.73,108.67L141.91,109.62L143.73,107.96L140.55,107.01Z" fill="#4e4e4e" stroke="#4e4e4e" stroke-width="0.4"/><path d="M140.55,107.01L143.73,107.96L145.54,106.30L142.37,105.36Z" fill="#424242" stroke="#424242" stroke-width="0.4"/><path d="M142.37,105.36L145.54,106.30L147.33,104.66L144.17,103.72Z" fill="#434343" stroke="#434343" stroke-width="0.4"/><path d="M144.17,103.72L147.33,104.66L149.12,103.02L145.96,102.08Z" fill="#3e3e3e" stroke="#3e3e3e" stroke-width="0.4"/><path d="M145.96,102.08L149.12,103.02L150.90,101.39L147.75,100.46Z" fill="#353535" stroke="#353535" stroke-width="0.4"/><path d="M147.75,100.46L150.90,101.39L152.67,99.77L149.52,98.84Z" fill="#3f3f3f" stroke="#3f3f3f" stroke-width="0.4"/><path d="M95.32,152.30L98.65,153.38L100.71,151.49L97.39,150.41Z" fill="#4d4d4d" stroke="#4d4d4d" stroke-width="0.4"/><path d="M97.39,150.41L100.71,151.49L102.76,149.60L99.44,148.53Z" fill="#343434" stroke="#343434" stroke-width="0.4"/><path d="M99.44,148.53L102.76,149.60L104.79,147.73L101.48,146.66Z" fill="#4b4b4b" stroke="#4b4b4b" stroke-width="0.4"/><path d="M101.48,146.66L104.79,147.73L106.82,145.86L103.51,144.80Z" fill="#434343" stroke="#434343" stroke-width="0.4"/><path d="M103.51,144.80L106.82,145.86L108.83,144.01L105.53,142.95Z" fill="#3a3a3a" stroke="#3a3a3a" stroke-width="0.4"/><path d="M105.53,142.95L108.83,144.01L110.83,142.16L107.54,141.11Z" fill="#424242" stroke="#424242" stroke-width="0.4"/><path d="M107.54,141.11L110.83,142.16L112.83,140.33L109.54,139.28Z" fill="#4f4f4f" stroke="#4f4f4f" stroke-width="0.4"/><path d="M109.54,139.28L112.83,140.33L114.81,138.50L111.52,137.46Z" fill="#3d3d3d" stroke="#3d3d3d" stroke-width="0.4"/><path d="M111.52,137.46L114.81,138.50L116.78,136.68L113.50,135.65Z" fill="#474747" stroke="#474747" stroke-width="0.4"/><path d="M113.50,135.65L116.78,136.68L118.74,134.88L115.47,133.85Z" fill="#4a4a4a" stroke="#4a4a4a" stroke-width="0.4"/><path d="M115.47,133.85L118.74,134.88L120.69,133.08L117.42,132.06Z" fill="#3a3a3a" stroke="#3a3a3a" stroke-width="0.4"/><path d="M117.42,132.06L120.69,133.08L122.62,131.30L119.36,130.28Z" fill="#464646" stroke="#464646" stroke-width="0.4"/><path d="M119.36,130.28L122.62,131.30L124.55,129.52L121.30,128.50Z" fill="#454545" stroke="#454545" stroke-width="0.4"/><path d="M121.30,128.50L124.55,129.52L126.47,127.75L123.22,126.74Z" fill="#3d3d3d" stroke="#3d3d3d" stroke-width="0.4"/><path d="M123.22,126.74L126.47,127.75L128.38,125.99L125.14,124.99Z" fill="#464646" stroke="#464646" stroke-width="0.4"/><path d="M125.14,124.99L128.38,125.99L130.28,124.25L127.04,123.25Z" fill="#3e3e3e" stroke="#3e3e3e" stroke-width="0.4"/><path d="M127.04,123.25L130.28,124.25L132.16,122.51L128.93,121.51Z" fill="#3d3d3d" stroke="#3d3d3d" stroke-width="0.4"/><path d="M128.93,121.51L132.16,122.51L134.04,120.78L130.82,119.79Z" fill="#383838" stroke="#383838" stroke-width="0.4"/><path d="M130.82,119.79L134.04,120.78L135.91,119.05L132.69,118.07Z" fill="#444444" stroke="#444444" stroke-width="0.4"/><path d="M132.69,118.07L135.91,119.05L137.77,117.34L134.55,116.36Z" fill="#3e3e3e" stroke="#3e3e3e" stroke-width="0.4"/><path d="M134.55,116.36L137.77,117.34L139.62,115.64L136.41,114.67Z" fill="#3d3d3d" stroke="#3d3d3d" stroke-width="0.4"/><path d="M136.41,114.67L139.62,115.64L141.46,113.94L138.25,112.98Z" fill="#383838" stroke="#383838" stroke-width="0.4"/><path d="M138.25,112.98L141.46,113.94L143.29,112.26L140.09,111.30Z" fill="#373737" stroke="#373737" stroke-width="0.4"/><path d="M140.09,111.30L143.29,112.26L145.11,110.58L141.91,109.62Z" fill="#3b3b3b" stroke="#3b3b3b" stroke-width="0.4"/><path d="M141.91,109.62L145.11,110.58L146.92,108.91L143.73,107.96Z" fill="#474747" stroke="#474747" stroke-width="0.4"/><path d="M143.73,107.96L146.92,108.91L148.72,107.25L145.54,106.30Z" fill="#3b3b3b" stroke="#3b3b3b" stroke-width="0.4"/><path d="M145.54,106.30L148.72,107.25L150.51,105.60L147.33,104.66Z" fill="#4c4c4c" stroke="#4c4c4c" stroke-width="0.4"/><path d="M147.33,104.66L150.51,105.60L152.29,103.96L149.12,103.02Z" fill="#444444" stroke="#444444" stroke-width="0.4"/><path d="M149.12,103.02L152.29,103.96L154.06,102.33L150.90,101.39Z" fill="#424242" stroke="#424242" stroke-width="0.4"/><path d="M150.90,101.39L154.06,102.33L155.83,100.70L152.67,99.77Z" fill="#383838" stroke="#383838" stroke-width="0.4"/><path d="M98.65,153.38L102.00,154.48L104.05,152.57L100.71,151.49Z" fill="#515151" stroke="#515151" stroke-width="0.4"/><path d="M100.71,151.49L104.05,152.57L106.09,150.68L102.76,149.60Z" fill="#373737" stroke="#373737" stroke-width="0.4"/><path d="M102.76,149.60L106.09,150.68L108.12,148.80L104.79,147.73Z" fill="#464646" stroke="#464646" stroke-width="0.4"/><path d="M104.79,147.73L108.12,148.80L110.14,146.93L106.82,145.86Z" fill="#4f4f4f" stroke="#4f4f4f" stroke-width="0.4"/><path d="M106.82,145.86L110.14,146.93L112.14,145.07L108.83,144.01Z" fill="#404040" stroke="#404040" stroke-width="0.4"/><path d="M108.83,144.01L112.14,145.07L114.14,143.22L110.83,142.16Z" fill="#3d3d3d" stroke="#3d3d3d" stroke-width="0.4"/><path d="M110.83,142.16L114.14,143.22L116.13,141.38L112.83,140.33Z" fill="#424242" stroke="#424242" stroke-width="0.4"/><path d="M112.83,140.33L116.13,141.38L118.10,139.55L114.81,138.50Z" fill="#494949" stroke="#494949" stroke-width="0.4"/><path d="M114.81,138.50L118.10,139.55L120.06,137.72L116.78,136.68Z" fill="#4c4c4c" stroke="#4c4c4c" stroke-width="0.4"/><path d="M116.78,136.68L120.06,137.72L122.02,135.91L118.74,134.88Z" fill="#464646" stroke="#464646" stroke-width="0.4"/><path d="M118.74,134.88L122.02,135.91L123.96,134.11L120.69,133.08Z" fill="#3a3a3a" stroke="#3a3a3a" stroke-width="0.4"/><path d="M120.69,133.08L123.96,134.11L125.89,132.32L122.62,131.30Z" fill="#3d3d3d" stroke="#3d3d3d" stroke-width="0.4"/><path d="M122.62,131.30L125.89,132.32L127.82,130.54L124.55,129.52Z" fill="#434343" stroke="#434343" stroke-width="0.4"/><path d="M124.55,129.52L127.82,130.54L129.73,128.77L126.47,127.75Z" fill="#383838" stroke="#383838" stroke-width="0.4"/><path d="M126.47,127.75L129.73,128.77L131.63,127.00L128.38,125.99Z" fill="#404040" stroke="#404040" stroke-width="0.4"/><path d="M128.38,125.99L131.63,127.00L133.52,125.25L130.28,124.25Z" fill="#535353" stroke="#535353" stroke-width="0.4"/><path d="M130.28,124.25L133.52,125.25L135.41,123.50L132.16,122.51Z" fill="#3a3a3a" stroke="#3a3a3a" stroke-width="0.4"/><path d="M132.16,122.51L135.41,123.50L137.28,121.77L134.04,120.78Z" fill="#4b4b4b" stroke="#4b4b4b" stroke-width="0.4"/><path d="M134.04,120.78L137.28,121.77L139.14,120.04L135.91,119.05Z" fill="#3b3b3b" stroke="#3b3b3b" stroke-width="0.4"/><path d="M135.91,119.05L139.14,120.04L140.99,118.32L137.77,117.34Z" fill="#3f3f3f" stroke="#3f3f3f" stroke-width="0.4"/><path d="M137.77,117.34L140.99,118.32L142.83,116.62L139.62,115.64Z" fill="#414141" stroke="#414141" stroke-width="0.4"/><path d="M139.62,115.64L142.83,116.62L144.67,114.92L141.46,113.94Z" fill="#363636" stroke="#363636" stroke-width="0.4"/><path d="M141.46,113.94L144.67,114.92L146.49,113.23L143.29,112.26Z" fill="#414141" stroke="#414141" stroke-width="0.4"/><path d="M143.29,112.26L146.49,113.23L148.31,111.54L145.11,110.58Z" fill="#4c4c4c" stroke="#4c4c4c" stroke-width="0.4"/><path d="M145.11,110.58L148.31,111.54L150.11,109.87L146.92,108.91Z" fill="#474747" stroke="#474747" stroke-width="0.4"/><path d="M146.92,108.91L150.11,109.87L151.91,108.21L148.72,107.25Z" fill="#474747" stroke="#474747" stroke-width="0.4"/><path d="M148.72,107.25L151.91,108.21L153.69,106.55L150.51,105.60Z" fill="#3c3c3c" stroke="#3c3c3c" stroke-width="0.4"/><path d="M150.51,105.60L153.69,106.55L155.47,104.90L152.29,103.96Z" fill="#414141" stroke="#414141" stroke-width="0.4"/><path d="M152.29,103.96L155.47,104.90L157.24,103.26L154.06,102.33Z" fill="#434343" stroke="#434343" stroke-width="0.4"/><path d="M154.06,102.33L157.24,103.26L159.00,101.63L155.83,100.70Z" fill="#474747" stroke="#474747" stroke-width="0.4"/><path d="M102.00,154.48L105.35,155.57L107.39,153.66L104.05,152.57Z" fill="#525252" stroke="#525252" stroke-width="0.4"/><path d="M104.05,152.57L107.39,153.66L109.43,151.76L106.09,150.68Z" fill="#404040" stroke="#404040" stroke-width="0.4"/><path d="M106.09,150.68L109.43,151.76L111.45,149.88L108.12,148.80Z" fill="#555555" stroke="#555555" stroke-width="0.4"/><path d="M108.12,148.80L111.45,149.88L113.46,148.00L110.14,146.93Z" fill="#464646" stroke="#464646" stroke-width="0.4"/><path d="M110.14,146.93L113.46,148.00L115.46,146.13L112.14,145.07Z" fill="#464646" stroke="#464646" stroke-width="0.4"/><path d="M112.14,145.07L115.46,146.13L117.46,144.28L114.14,143.22Z" fill="#3f3f3f" stroke="#3f3f3f" stroke-width="0.4"/><path d="M114.14,143.22L117.46,144.28L119.43,142.43L116.13,141.38Z" fill="#484848" stroke="#484848" stroke-width="0.4"/><path d="M116.13,141.38L119.43,142.43L121.40,140.59L118.10,139.55Z" fill="#464646" stroke="#464646" stroke-width="0.4"/><path d="M118.10,139.55L121.40,140.59L123.36,138.77L120.06,137.72Z" fill="#3f3f3f" stroke="#3f3f3f" stroke-width="0.4"/><path d="M120.06,137.72L123.36,138.77L125.31,136.95L122.02,135.91Z" fill="#464646" stroke="#464646" stroke-width="0.4"/><path d="M122.02,135.91L125.31,136.95L127.25,135.14L123.96,134.11Z" fill="#494949" stroke="#494949" stroke-width="0.4"/><path d="M123.96,134.11L127.25,135.14L129.17,133.35L125.89,132.32Z" fill="#454545" stroke="#454545" stroke-width="0.4"/><path d="M125.89,132.32L129.17,133.35L131.09,131.56L127.82,130.54Z" fill="#4e4e4e" stroke="#4e4e4e" stroke-width="0.4"/><path d="M127.82,130.54L131.09,131.56L133.00,129.78L129.73,128.77Z" fill="#404040" stroke="#404040" stroke-width="0.4"/><path d="M129.73,128.77L133.00,129.78L134.89,128.01L131.63,127.00Z" fill="#4f4f4f" stroke="#4f4f4f" stroke-width="0.4"/><path d="M131.63,127.00L134.89,128.01L136.78,126.25L133.52,125.25Z" fill="#474747" stroke="#474747" stroke-width="0.4"/><path d="M133.52,125.25L136.78,126.25L138.66,124.50L135.41,123.50Z" fill="#4b4b4b" stroke="#4b4b4b" stroke-width="0.4"/><path d="M135.41,123.50L138.66,124.50L140.52,122.76L137.28,121.77Z" fill="#3a3a3a" stroke="#3a3a3a" stroke-width="0.4"/><path d="M137.28,121.77L140.52,122.76L142.38,121.03L139.14,120.04Z" fill="#494949" stroke="#494949" stroke-width="0.4"/><path d="M139.14,120.04L142.38,121.03L144.22,119.31L140.99,118.32Z" fill="#484848" stroke="#484848" stroke-width="0.4"/><path d="M140.99,118.32L144.22,119.31L146.06,117.60L142.83,116.62Z" fill="#4f4f4f" stroke="#4f4f4f" stroke-width="0.4"/><path d="M142.83,116.62L146.06,117.60L147.89,115.89L144.67,114.92Z" fill="#3f3f3f" stroke="#3f3f3f" stroke-width="0.4"/><path d="M144.67,114.92L147.89,115.89L149.71,114.20L146.49,113.23Z" fill="#525252" stroke="#525252" stroke-width="0.4"/><path d="M146.49,113.23L149.71,114.20L151.52,112.51L148.31,111.54Z" fill="#404040" stroke="#404040" stroke-width="0.4"/><path d="M148.31,111.54L151.52,112.51L153.31,110.83L150.11,109.87Z" fill="#525252" stroke="#525252" stroke-width="0.4"/><path d="M150.11,109.87L153.31,110.83L155.10,109.16L151.91,108.21Z" fill="#4c4c4c" stroke="#4c4c4c" stroke-width="0.4"/><path d="M151.91,108.21L155.10,109.16L156.88,107.50L153.69,106.55Z" fill="#424242" stroke="#424242" stroke-width="0.4"/><path d="M153.69,106.55L156.88,107.50L158.66,105.85L155.47,104.90Z" fill="#595959" stroke="#595959" stroke-width="0.4"/><path d="M155.47,104.90L158.66,105.85L160.42,104.20L157.24,103.26Z" fill="#3f3f3f" stroke="#3f3f3f" stroke-width="0.4"/><path d="M157.24,103.26L160.42,104.20L162.17,102.57L159.00,101.63Z" fill="#474747" stroke="#474747" stroke-width="0.4"/><path d="M105.35,155.57L108.71,156.67L110.75,154.76L107.39,153.66Z" fill="#505050" stroke="#505050" stroke-width="0.4"/><path d="M107.39,153.66L110.75,154.76L112.78,152.85L109.43,151.76Z" fill="#525252" stroke="#525252" stroke-width="0.4"/><path d="M109.43,151.76L112.78,152.85L114.79,150.96L111.45,149.88Z" fill="#505050" stroke="#505050" stroke-width="0.4"/><path d="M111.45,149.88L114.79,150.96L116.80,149.08L113.46,148.00Z" fill="#555555" stroke="#555555" stroke-width="0.4"/><path d="M113.46,148.00L116.80,149.08L118.80,147.20L115.46,146.13Z" fill="#525252" stroke="#525252" stroke-width="0.4"/><path d="M115.46,146.13L118.80,147.20L120.78,145.34L117.46,144.28Z" fill="#4f4f4f" stroke="#4f4f4f" stroke-width="0.4"/><path d="M117.46,144.28L120.78,145.34L122.75,143.49L119.43,142.43Z" fill="#474747" stroke="#474747" stroke-width="0.4"/><path d="M119.43,142.43L122.75,143.49L124.72,141.65L121.40,140.59Z" fill="#4c4c4c" stroke="#4c4c4c" stroke-width="0.4"/><path d="M121.40,140.59L124.72,141.65L126.67,139.81L123.36,138.77Z" fill="#555555" stroke="#555555" stroke-width="0.4"/><path d="M123.36,138.77L126.67,139.81L128.61,137.99L125.31,136.95Z" fill="#454545" stroke="#454545" stroke-width="0.4"/><path d="M125.31,136.95L128.61,137.99L130.54,136.18L127.25,135.14Z" fill="#4f4f4f" stroke="#4f4f4f" stroke-width="0.4"/><path d="M127.25,135.14L130.54,136.18L132.46,134.38L129.17,133.35Z" fill="#3f3f3f" stroke="#3f3f3f" stroke-width="0.4"/><path d="M129.17,133.35L132.46,134.38L134.37,132.58L131.09,131.56Z" fill="#494949" stroke="#494949" stroke-width="0.4"/><path d="M131.09,131.56L134.37,132.58L136.27,130.80L133.00,129.78Z" fill="#424242" stroke="#424242" stroke-width="0.4"/><path d="M133.00,129.78L136.27,130.80L138.16,129.03L134.89,128.01Z" fill="#585858" stroke="#585858" stroke-width="0.4"/><path d="M134.89,128.01L138.16,129.03L140.04,127.26L136.78,126.25Z" fill="#404040" stroke="#404040" stroke-width="0.4"/><path d="M136.78,126.25L140.04,127.26L141.92,125.51L138.66,124.50Z" fill="#4d4d4d" stroke="#4d4d4d" stroke-width="0.4"/><path d="M138.66,124.50L141.92,125.51L143.78,123.76L140.52,122.76Z" fill="#545454" stroke="#545454" stroke-width="0.4"/><path d="M140.52,122.76L143.78,123.76L145.63,122.02L142.38,121.03Z" fill="#535353" stroke="#535353" stroke-width="0.4"/><path d="M142.38,121.03L145.63,122.02L147.47,120.30L144.22,119.31Z" fill="#545454" stroke="#545454" stroke-width="0.4"/><path d="M144.22,119.31L147.47,120.30L149.30,118.58L146.06,117.60Z" fill="#575757" stroke="#575757" stroke-width="0.4"/><path d="M146.06,117.60L149.30,118.58L151.12,116.87L147.89,115.89Z" fill="#525252" stroke="#525252" stroke-width="0.4"/><path d="M147.89,115.89L151.12,116.87L152.93,115.17L149.71,114.20Z" fill="#555555" stroke="#555555" stroke-width="0.4"/><path d="M149.71,114.20L152.93,115.17L154.73,113.48L151.52,112.51Z" fill="#4e4e4e" stroke="#4e4e4e" stroke-width="0.4"/><path d="M151.52,112.51L154.73,113.48L156.53,111.79L153.31,110.83Z" fill="#4e4e4e" stroke="#4e4e4e" stroke-width="0.4"/><path d="M153.31,110.83L156.53,111.79L158.31,110.12L155.10,109.16Z" fill="#414141" stroke="#414141" stroke-width="0.4"/><path d="M155.10,109.16L158.31,110.12L160.09,108.45L156.88,107.50Z" fill="#505050" stroke="#505050" stroke-width="0.4"/><path d="M156.88,107.50L160.09,108.45L161.85,106.80L158.66,105.85Z" fill="#585858" stroke="#585858" stroke-width="0.4"/><path d="M158.66,105.85L161.85,106.80L163.61,105.15L160.42,104.20Z" fill="#494949" stroke="#494949" stroke-width="0.4"/><path d="M160.42,104.20L163.61,105.15L165.36,103.51L162.17,102.57Z" fill="#454545" stroke="#454545" stroke-width="0.4"/><path d="M108.71,156.67L112.08,157.77L114.12,155.85L110.75,154.76Z" fill="#555555" stroke="#555555" stroke-width="0.4"/><path d="M110.75,154.76L114.12,155.85L116.14,153.94L112.78,152.85Z" fill="#5d5d5d" stroke="#5d5d5d" stroke-width="0.4"/><path d="M112.78,152.85L116.14,153.94L118.15,152.04L114.79,150.96Z" fill="#5e5e5e" stroke="#5e5e5e" stroke-width="0.4"/><path d="M114.79,150.96L118.15,152.04L120.15,150.15L116.80,149.08Z" fill="#494949" stroke="#494949" stroke-width="0.4"/><path d="M116.80,149.08L120.15,150.15L122.14,148.28L118.80,147.20Z" fill="#585858" stroke="#585858" stroke-width="0.4"/><path d="M118.80,147.20L122.14,148.28L124.12,146.41L120.78,145.34Z" fill="#505050" stroke="#505050" stroke-width="0.4"/><path d="M120.78,145.34L124.12,146.41L126.08,144.55L122.75,143.49Z" fill="#575757" stroke="#575757" stroke-width="0.4"/><path d="M122.75,143.49L126.08,144.55L128.04,142.70L124.72,141.65Z" fill="#444444" stroke="#444444" stroke-width="0.4"/><path d="M124.72,141.65L128.04,142.70L129.99,140.86L126.67,139.81Z" fill="#5c5c5c" stroke="#5c5c5c" stroke-width="0.4"/><path d="M126.67,139.81L129.99,140.86L131.92,139.04L128.61,137.99Z" fill="#525252" stroke="#525252" stroke-width="0.4"/><path d="M128.61,137.99L131.92,139.04L133.85,137.22L130.54,136.18Z" fill="#565656" stroke="#565656" stroke-width="0.4"/><path d="M130.54,136.18L133.85,137.22L135.76,135.41L132.46,134.38Z" fill="#535353" stroke="#535353" stroke-width="0.4"/><path d="M132.46,134.38L135.76,135.41L137.67,133.61L134.37,132.58Z" fill="#4d4d4d" stroke="#4d4d4d" stroke-width="0.4"/><path d="M134.37,132.58L137.67,133.61L139.56,131.82L136.27,130.80Z" fill="#595959" stroke="#595959" stroke-width="0.4"/><path d="M136.27,130.80L139.56,131.82L141.45,130.04L138.16,129.03Z" fill="#515151" stroke="#515151" stroke-width="0.4"/><path d="M138.16,129.03L141.45,130.04L143.32,128.27L140.04,127.26Z" fill="#505050" stroke="#505050" stroke-width="0.4"/><path d="M140.04,127.26L143.32,128.27L145.18,126.51L141.92,125.51Z" fill="#5a5a5a" stroke="#5a5a5a" stroke-width="0.4"/><path d="M141.92,125.51L145.18,126.51L147.04,124.76L143.78,123.76Z" fill="#545454" stroke="#545454" stroke-width="0.4"/><path d="M143.78,123.76L147.04,124.76L148.88,123.02L145.63,122.02Z" fill="#4f4f4f" stroke="#4f4f4f" stroke-width="0.4"/><path d="M145.63,122.02L148.88,123.02L150.72,121.29L147.47,120.30Z" fill="#5c5c5c" stroke="#5c5c5c" stroke-width="0.4"/><path d="M147.47,120.30L150.72,121.29L152.54,119.56L149.30,118.58Z" fill="#505050" stroke="#505050" stroke-width="0.4"/><path d="M149.30,118.58L152.54,119.56L154.36,117.85L151.12,116.87Z" fill="#555555" stroke="#555555" stroke-width="0.4"/><path d="M151.12,116.87L154.36,117.85L156.17,116.14L152.93,115.17Z" fill="#5a5a5a" stroke="#5a5a5a" stroke-width="0.4"/><path d="M152.93,115.17L156.17,116.14L157.96,114.45L154.73,113.48Z" fill="#5c5c5c" stroke="#5c5c5c" stroke-width="0.4"/><path d="M154.73,113.48L157.96,114.45L159.75,112.76L156.53,111.79Z" fill="#5e5e5e" stroke="#5e5e5e" stroke-width="0.4"/><path d="M156.53,111.79L159.75,112.76L161.53,111.08L158.31,110.12Z" fill="#616161" stroke="#616161" stroke-width="0.4"/><path d="M158.31,110.12L161.53,111.08L163.30,109.41L160.09,108.45Z" fill="#555555" stroke="#555555" stroke-width="0.4"/><path d="M160.09,108.45L163.30,109.41L165.06,107.75L161.85,106.80Z" fill="#4f4f4f" stroke="#4f4f4f" stroke-width="0.4"/><path d="M161.85,106.80L165.06,107.75L166.81,106.09L163.61,105.15Z" fill="#616161" stroke="#616161" stroke-width="0.4"/><path d="M163.61,105.15L166.81,106.09L168.55,104.45L165.36,103.51Z" fill="#5f5f5f" stroke="#5f5f5f" stroke-width="0.4"/><path d="M112.08,157.77L115.46,158.88L117.49,156.95L114.12,155.85Z" fill="#7c7c7c" stroke="#7c7c7c" stroke-width="0.4"/><path d="M114.12,155.85L117.49,156.95L119.51,155.03L116.14,153.94Z" fill="#848484" stroke="#848484" stroke-width="0.4"/><path d="M116.14,153.94L119.51,155.03L121.51,153.13L118.15,152.04Z" fill="#5e5e5e" stroke="#5e5e5e" stroke-width="0.4"/><path d="M118.15,152.04L121.51,153.13L123.51,151.23L120.15,150.15Z" fill="#555555" stroke="#555555" stroke-width="0.4"/><path d="M120.15,150.15L123.51,151.23L125.49,149.35L122.14,148.28Z" fill="#878787" stroke="#878787" stroke-width="0.4"/><path d="M122.14,148.28L125.49,149.35L127.46,147.48L124.12,146.41Z" fill="#818181" stroke="#818181" stroke-width="0.4"/><path d="M124.12,146.41L127.46,147.48L129.42,145.61L126.08,144.55Z" fill="#626262" stroke="#626262" stroke-width="0.4"/><path d="M126.08,144.55L129.42,145.61L131.37,143.76L128.04,142.70Z" fill="#6e6e6e" stroke="#6e6e6e" stroke-width="0.4"/><path d="M128.04,142.70L131.37,143.76L133.31,141.92L129.99,140.86Z" fill="#8a8a8a" stroke="#8a8a8a" stroke-width="0.4"/><path d="M129.99,140.86L133.31,141.92L135.24,140.08L131.92,139.04Z" fill="#7a7a7a" stroke="#7a7a7a" stroke-width="0.4"/><path d="M131.92,139.04L135.24,140.08L137.16,138.26L133.85,137.22Z" fill="#585858" stroke="#585858" stroke-width="0.4"/><path d="M133.85,137.22L137.16,138.26L139.07,136.45L135.76,135.41Z" fill="#525252" stroke="#525252" stroke-width="0.4"/><path d="M135.76,135.41L139.07,136.45L140.97,134.64L137.67,133.61Z" fill="#7f7f7f" stroke="#7f7f7f" stroke-width="0.4"/><path d="M137.67,133.61L140.97,134.64L142.86,132.85L139.56,131.82Z" fill="#7c7c7c" stroke="#7c7c7c" stroke-width="0.4"/><path d="M139.56,131.82L142.86,132.85L144.74,131.06L141.45,130.04Z" fill="#646464" stroke="#646464" stroke-width="0.4"/><path d="M141.45,130.04L144.74,131.06L146.61,129.29L143.32,128.27Z" fill="#616161" stroke="#616161" stroke-width="0.4"/><path d="M143.32,128.27L146.61,129.29L148.46,127.52L145.18,126.51Z" fill="#7a7a7a" stroke="#7a7a7a" stroke-width="0.4"/><path d="M145.18,126.51L148.46,127.52L150.31,125.77L147.04,124.76Z" fill="#7b7b7b" stroke="#7b7b7b" stroke-width="0.4"/><path d="M147.04,124.76L150.31,125.77L152.15,124.02L148.88,123.02Z" fill="#555555" stroke="#555555" stroke-width="0.4"/><path d="M148.88,123.02L152.15,124.02L153.98,122.28L150.72,121.29Z" fill="#6a6a6a" stroke="#6a6a6a" stroke-width="0.4"/><path d="M150.72,121.29L153.98,122.28L155.80,120.55L152.54,119.56Z" fill="#7a7a7a" stroke="#7a7a7a" stroke-width="0.4"/><path d="M152.54,119.56L155.80,120.55L157.61,118.83L154.36,117.85Z" fill="#838383" stroke="#838383" stroke-width="0.4"/><path d="M154.36,117.85L157.61,118.83L159.41,117.12L156.17,116.14Z" fill="#5c5c5c" stroke="#5c5c5c" stroke-width="0.4"/><path d="M156.17,116.14L159.41,117.12L161.20,115.42L157.96,114.45Z" fill="#616161" stroke="#616161" stroke-width="0.4"/><path d="M157.96,114.45L161.20,115.42L162.98,113.73L159.75,112.76Z" fill="#838383" stroke="#838383" stroke-width="0.4"/><path d="M159.75,112.76L162.98,113.73L164.75,112.04L161.53,111.08Z" fill="#7c7c7c" stroke="#7c7c7c" stroke-width="0.4"/><path d="M161.53,111.08L164.75,112.04L166.52,110.37L163.30,109.41Z" fill="#5b5b5b" stroke="#5b5b5b" stroke-width="0.4"/><path d="M163.30,109.41L166.52,110.37L168.27,108.70L165.06,107.75Z" fill="#737373" stroke="#737373" stroke-width="0.4"/><path d="M165.06,107.75L168.27,108.70L170.02,107.04L166.81,106.09Z" fill="#7d7d7d" stroke="#7d7d7d" stroke-width="0.4"/><path d="M166.81,106.09L170.02,107.04L171.75,105.39L168.55,104.45Z" fill="#838383" stroke="#838383" stroke-width="0.4"/><path d="M115.46,158.88L118.86,159.99L120.88,158.05L117.49,156.95Z" fill="#666666" stroke="#666666" stroke-width="0.4"/><path d="M117.49,156.95L120.88,158.05L122.89,156.13L119.51,155.03Z" fill="#616161" stroke="#616161" stroke-width="0.4"/><path d="M119.51,155.03L122.89,156.13L124.89,154.22L121.51,153.13Z" fill="#6b6b6b" stroke="#6b6b6b" stroke-width="0.4"/><path d="M121.51,153.13L124.89,154.22L126.88,152.32L123.51,151.23Z" fill="#646464" stroke="#646464" stroke-width="0.4"/><path d="M123.51,151.23L126.88,152.32L128.85,150.43L125.49,149.35Z" fill="#696969" stroke="#696969" stroke-width="0.4"/><path d="M125.49,149.35L128.85,150.43L130.82,148.55L127.46,147.48Z" fill="#555555" stroke="#555555" stroke-width="0.4"/><path d="M127.46,147.48L130.82,148.55L132.77,146.68L129.42,145.61Z" fill="#636363" stroke="#636363" stroke-width="0.4"/><path d="M129.42,145.61L132.77,146.68L134.72,144.82L131.37,143.76Z" fill="#676767" stroke="#676767" stroke-width="0.4"/><path d="M131.37,143.76L134.72,144.82L136.65,142.97L133.31,141.92Z" fill="#696969" stroke="#696969" stroke-width="0.4"/><path d="M133.31,141.92L136.65,142.97L138.58,141.13L135.24,140.08Z" fill="#656565" stroke="#656565" stroke-width="0.4"/><path d="M135.24,140.08L138.58,141.13L140.49,139.30L137.16,138.26Z" fill="#6a6a6a" stroke="#6a6a6a" stroke-width="0.4"/><path d="M137.16,138.26L140.49,139.30L142.39,137.48L139.07,136.45Z" fill="#636363" stroke="#636363" stroke-width="0.4"/><path d="M139.07,136.45L142.39,137.48L144.28,135.68L140.97,134.64Z" fill="#6b6b6b" stroke="#6b6b6b" stroke-width="0.4"/><path d="M140.97,134.64L144.28,135.68L146.17,133.88L142.86,132.85Z" fill="#6e6e6e" stroke="#6e6e6e" stroke-width="0.4"/><path d="M142.86,132.85L146.17,133.88L148.04,132.09L144.74,131.06Z" fill="#696969" stroke="#696969" stroke-width="0.4"/><path d="M144.74,131.06L148.04,132.09L149.90,130.30L146.61,129.29Z" fill="#575757" stroke="#575757" stroke-width="0.4"/><path d="M146.61,129.29L149.90,130.30L151.75,128.53L148.46,127.52Z" fill="#696969" stroke="#696969" stroke-width="0.4"/><path d="M148.46,127.52L151.75,128.53L153.60,126.77L150.31,125.77Z" fill="#616161" stroke="#616161" stroke-width="0.4"/><path d="M150.31,125.77L153.60,126.77L155.43,125.02L152.15,124.02Z" fill="#525252" stroke="#525252" stroke-width="0.4"/><path d="M152.15,124.02L155.43,125.02L157.25,123.28L153.98,122.28Z" fill="#636363" stroke="#636363" stroke-width="0.4"/><path d="M153.98,122.28L157.25,123.28L159.06,121.54L155.80,120.55Z" fill="#595959" stroke="#595959" stroke-width="0.4"/><path d="M155.80,120.55L159.06,121.54L160.87,119.82L157.61,118.83Z" fill="#636363" stroke="#636363" stroke-width="0.4"/><path d="M157.61,118.83L160.87,119.82L162.66,118.10L159.41,117.12Z" fill="#4e4e4e" stroke="#4e4e4e" stroke-width="0.4"/><path d="M159.41,117.12L162.66,118.10L164.45,116.40L161.20,115.42Z" fill="#595959" stroke="#595959" stroke-width="0.4"/><path d="M161.20,115.42L164.45,116.40L166.22,114.70L162.98,113.73Z" fill="#636363" stroke="#636363" stroke-width="0.4"/><path d="M162.98,113.73L166.22,114.70L167.99,113.01L164.75,112.04Z" fill="#666666" stroke="#666666" stroke-width="0.4"/><path d="M164.75,112.04L167.99,113.01L169.75,111.33L166.52,110.37Z" fill="#5d5d5d" stroke="#5d5d5d" stroke-width="0.4"/><path d="M166.52,110.37L169.75,111.33L171.50,109.66L168.27,108.70Z" fill="#5a5a5a" stroke="#5a5a5a" stroke-width="0.4"/><path d="M168.27,108.70L171.50,109.66L173.24,107.99L170.02,107.04Z" fill="#606060" stroke="#606060" stroke-width="0.4"/><path d="M170.02,107.04L173.24,107.99L174.97,106.34L171.75,105.39Z" fill="#727272" stroke="#727272" stroke-width="0.4"/><path d="M118.86,159.99L122.26,161.10L124.28,159.16L120.88,158.05Z" fill="#454545" stroke="#454545" stroke-width="0.4"/><path d="M120.88,158.05L124.28,159.16L126.28,157.23L122.89,156.13Z" fill="#474747" stroke="#474747" stroke-width="0.4"/><path d="M122.89,156.13L126.28,157.23L128.27,155.31L124.89,154.22Z" fill="#575757" stroke="#575757" stroke-width="0.4"/><path d="M124.89,154.22L128.27,155.31L130.25,153.41L126.88,152.32Z" fill="#3b3b3b" stroke="#3b3b3b" stroke-width="0.4"/><path d="M126.88,152.32L130.25,153.41L132.22,151.51L128.85,150.43Z" fill="#383838" stroke="#383838" stroke-width="0.4"/><path d="M128.85,150.43L132.22,151.51L134.18,149.63L130.82,148.55Z" fill="#404040" stroke="#404040" stroke-width="0.4"/><path d="M130.82,148.55L134.18,149.63L136.13,147.75L132.77,146.68Z" fill="#454545" stroke="#454545" stroke-width="0.4"/><path d="M132.77,146.68L136.13,147.75L138.07,145.89L134.72,144.82Z" fill="#3f3f3f" stroke="#3f3f3f" stroke-width="0.4"/><path d="M134.72,144.82L138.07,145.89L140.00,144.03L136.65,142.97Z" fill="#484848" stroke="#484848" stroke-width="0.4"/><path d="M136.65,142.97L140.00,144.03L141.92,142.19L138.58,141.13Z" fill="#474747" stroke="#474747" stroke-width="0.4"/><path d="M138.58,141.13L141.92,142.19L143.82,140.35L140.49,139.30Z" fill="#3c3c3c" stroke="#3c3c3c" stroke-width="0.4"/><path d="M140.49,139.30L143.82,140.35L145.72,138.53L142.39,137.48Z" fill="#494949" stroke="#494949" stroke-width="0.4"/><path d="M142.39,137.48L145.72,138.53L147.61,136.71L144.28,135.68Z" fill="#3d3d3d" stroke="#3d3d3d" stroke-width="0.4"/><path d="M144.28,135.68L147.61,136.71L149.48,134.91L146.17,133.88Z" fill="#4d4d4d" stroke="#4d4d4d" stroke-width="0.4"/><path d="M146.17,133.88L149.48,134.91L151.35,133.11L148.04,132.09Z" fill="#4a4a4a" stroke="#4a4a4a" stroke-width="0.4"/><path d="M148.04,132.09L151.35,133.11L153.20,131.33L149.90,130.30Z" fill="#595959" stroke="#595959" stroke-width="0.4"/><path d="M149.90,130.30L153.20,131.33L155.05,129.55L151.75,128.53Z" fill="#4e4e4e" stroke="#4e4e4e" stroke-width="0.4"/><path d="M151.75,128.53L155.05,129.55L156.89,127.78L153.60,126.77Z" fill="#474747" stroke="#474747" stroke-width="0.4"/><path d="M153.60,126.77L156.89,127.78L158.71,126.02L155.43,125.02Z" fill="#4b4b4b" stroke="#4b4b4b" stroke-width="0.4"/><path d="M155.43,125.02L158.71,126.02L160.53,124.28L157.25,123.28Z" fill="#494949" stroke="#494949" stroke-width="0.4"/><path d="M157.25,123.28L160.53,124.28L162.34,122.54L159.06,121.54Z" fill="#424242" stroke="#424242" stroke-width="0.4"/><path d="M159.06,121.54L162.34,122.54L164.14,120.81L160.87,119.82Z" fill="#3d3d3d" stroke="#3d3d3d" stroke-width="0.4"/><path d="M160.87,119.82L164.14,120.81L165.93,119.09L162.66,118.10Z" fill="#515151" stroke="#515151" stroke-width="0.4"/><path d="M162.66,118.10L165.93,119.09L167.70,117.37L164.45,116.40Z" fill="#545454" stroke="#545454" stroke-width="0.4"/><path d="M164.45,116.40L167.70,117.37L169.47,115.67L166.22,114.70Z" fill="#454545" stroke="#454545" stroke-width="0.4"/><path d="M166.22,114.70L169.47,115.67L171.23,113.98L167.99,113.01Z" fill="#464646" stroke="#464646" stroke-width="0.4"/><path d="M167.99,113.01L171.23,113.98L172.99,112.29L169.75,111.33Z" fill="#444444" stroke="#444444" stroke-width="0.4"/><path d="M169.75,111.33L172.99,112.29L174.73,110.62L171.50,109.66Z" fill="#505050" stroke="#505050" stroke-width="0.4"/><path d="M171.50,109.66L174.73,110.62L176.46,108.95L173.24,107.99Z" fill="#515151" stroke="#515151" stroke-width="0.4"/><path d="M173.24,107.99L176.46,108.95L178.19,107.29L174.97,106.34Z" fill="#414141" stroke="#414141" stroke-width="0.4"/><path d="M122.26,161.10L125.68,162.21L127.68,160.27L124.28,159.16Z" fill="#313131" stroke="#313131" stroke-width="0.4"/><path d="M124.28,159.16L127.68,160.27L129.68,158.33L126.28,157.23Z" fill="#2f2f2f" stroke="#2f2f2f" stroke-width="0.4"/><path d="M126.28,157.23L129.68,158.33L131.67,156.41L128.27,155.31Z" fill="#353535" stroke="#353535" stroke-width="0.4"/><path d="M128.27,155.31L131.67,156.41L133.64,154.50L130.25,153.41Z" fill="#393939" stroke="#393939" stroke-width="0.4"/><path d="M130.25,153.41L133.64,154.50L135.61,152.60L132.22,151.51Z" fill="#3c3c3c" stroke="#3c3c3c" stroke-width="0.4"/><path d="M132.22,151.51L135.61,152.60L137.56,150.71L134.18,149.63Z" fill="#313131" stroke="#313131" stroke-width="0.4"/><path d="M134.18,149.63L137.56,150.71L139.50,148.82L136.13,147.75Z" fill="#2c2c2c" stroke="#2c2c2c" stroke-width="0.4"/><path d="M136.13,147.75L139.50,148.82L141.44,146.95L138.07,145.89Z" fill="#373737" stroke="#373737" stroke-width="0.4"/><path d="M138.07,145.89L141.44,146.95L143.36,145.09L140.00,144.03Z" fill="#383838" stroke="#383838" stroke-width="0.4"/><path d="M140.00,144.03L143.36,145.09L145.27,143.24L141.92,142.19Z" fill="#313131" stroke="#313131" stroke-width="0.4"/><path d="M141.92,142.19L145.27,143.24L147.17,141.40L143.82,140.35Z" fill="#353535" stroke="#353535" stroke-width="0.4"/><path d="M143.82,140.35L147.17,141.40L149.06,139.57L145.72,138.53Z" fill="#363636" stroke="#363636" stroke-width="0.4"/><path d="M145.72,138.53L149.06,139.57L150.94,137.75L147.61,136.71Z" fill="#3a3a3a" stroke="#3a3a3a" stroke-width="0.4"/><path d="M147.61,136.71L150.94,137.75L152.81,135.94L149.48,134.91Z" fill="#343434" stroke="#343434" stroke-width="0.4"/><path d="M149.48,134.91L152.81,135.94L154.67,134.14L151.35,133.11Z" fill="#373737" stroke="#373737" stroke-width="0.4"/><path d="M151.35,133.11L154.67,134.14L156.52,132.35L153.20,131.33Z" fill="#353535" stroke="#353535" stroke-width="0.4"/><path d="M153.20,131.33L156.52,132.35L158.36,130.57L155.05,129.55Z" fill="#2c2c2c" stroke="#2c2c2c" stroke-width="0.4"/><path d="M155.05,129.55L158.36,130.57L160.19,128.79L156.89,127.78Z" fill="#393939" stroke="#393939" stroke-width="0.4"/><path d="M156.89,127.78L160.19,128.79L162.01,127.03L158.71,126.02Z" fill="#343434" stroke="#343434" stroke-width="0.4"/><path d="M158.71,126.02L162.01,127.03L163.82,125.28L160.53,124.28Z" fill="#3b3b3b" stroke="#3b3b3b" stroke-width="0.4"/><path d="M160.53,124.28L163.82,125.28L165.62,123.53L162.34,122.54Z" fill="#2a2a2a" stroke="#2a2a2a" stroke-width="0.4"/><path d="M162.34,122.54L165.62,123.53L167.41,121.80L164.14,120.81Z" fill="#2e2e2e" stroke="#2e2e2e" stroke-width="0.4"/><path d="M164.14,120.81L167.41,121.80L169.20,120.07L165.93,119.09Z" fill="#363636" stroke="#363636" stroke-width="0.4"/><path d="M165.93,119.09L169.20,120.07L170.97,118.36L167.70,117.37Z" fill="#262626" stroke="#262626" stroke-width="0.4"/><path d="M167.70,117.37L170.97,118.36L172.73,116.65L169.47,115.67Z" fill="#323232" stroke="#323232" stroke-width="0.4"/><path d="M169.47,115.67L172.73,116.65L174.49,114.95L171.23,113.98Z" fill="#303030" stroke="#303030" stroke-width="0.4"/><path d="M171.23,113.98L174.49,114.95L176.23,113.26L172.99,112.29Z" fill="#303030" stroke="#303030" stroke-width="0.4"/><path d="M172.99,112.29L176.23,113.26L177.97,111.58L174.73,110.62Z" fill="#313131" stroke="#313131" stroke-width="0.4"/><path d="M174.73,110.62L177.97,111.58L179.70,109.90L176.46,108.95Z" fill="#222222" stroke="#222222" stroke-width="0.4"/><path d="M176.46,108.95L179.70,109.90L181.42,108.24L178.19,107.29Z" fill="#343434" stroke="#343434" stroke-width="0.4"/><path d="M125.68,162.21L129.10,163.33L131.10,161.38L127.68,160.27Z" fill="#1e1e1e" stroke="#1e1e1e" stroke-width="0.4"/><path d="M127.68,160.27L131.10,161.38L133.09,159.44L129.68,158.33Z" fill="#252525" stroke="#252525" stroke-width="0.4"/><path d="M129.68,158.33L133.09,159.44L135.07,157.51L131.67,156.41Z" fill="#282828" stroke="#282828" stroke-width="0.4"/><path d="M131.67,156.41L135.07,157.51L137.04,155.59L133.64,154.50Z" fill="#202020" stroke="#202020" stroke-width="0.4"/><path d="M133.64,154.50L137.04,155.59L139.00,153.69L135.61,152.60Z" fill="#242424" stroke="#242424" stroke-width="0.4"/><path d="M135.61,152.60L139.00,153.69L140.95,151.79L137.56,150.71Z" fill="#0b0b0b" stroke="#0b0b0b" stroke-width="0.4"/><path d="M137.56,150.71L140.95,151.79L142.88,149.90L139.50,148.82Z" fill="#222222" stroke="#222222" stroke-width="0.4"/><path d="M139.50,148.82L142.88,149.90L144.81,148.03L141.44,146.95Z" fill="#262626" stroke="#262626" stroke-width="0.4"/><path d="M141.44,146.95L144.81,148.03L146.73,146.16L143.36,145.09Z" fill="#242424" stroke="#242424" stroke-width="0.4"/><path d="M143.36,145.09L146.73,146.16L148.63,144.30L145.27,143.24Z" fill="#1f1f1f" stroke="#1f1f1f" stroke-width="0.4"/><path d="M145.27,143.24L148.63,144.30L150.52,142.46L147.17,141.40Z" fill="#1b1b1b" stroke="#1b1b1b" stroke-width="0.4"/><path d="M147.17,141.40L150.52,142.46L152.41,140.62L149.06,139.57Z" fill="#1b1b1b" stroke="#1b1b1b" stroke-width="0.4"/><path d="M149.06,139.57L152.41,140.62L154.28,138.79L150.94,137.75Z" fill="#1e1e1e" stroke="#1e1e1e" stroke-width="0.4"/><path d="M150.94,137.75L154.28,138.79L156.15,136.98L152.81,135.94Z" fill="#212121" stroke="#212121" stroke-width="0.4"/><path d="M152.81,135.94L156.15,136.98L158.00,135.17L154.67,134.14Z" fill="#222222" stroke="#222222" stroke-width="0.4"/><path d="M154.67,134.14L158.00,135.17L159.84,133.38L156.52,132.35Z" fill="#1d1d1d" stroke="#1d1d1d" stroke-width="0.4"/><path d="M156.52,132.35L159.84,133.38L161.68,131.59L158.36,130.57Z" fill="#141414" stroke="#141414" stroke-width="0.4"/><path d="M158.36,130.57L161.68,131.59L163.50,129.81L160.19,128.79Z" fill="#2b2b2b" stroke="#2b2b2b" stroke-width="0.4"/><path d="M160.19,128.79L163.50,129.81L165.32,128.04L162.01,127.03Z" fill="#171717" stroke="#171717" stroke-width="0.4"/><path d="M162.01,127.03L165.32,128.04L167.12,126.28L163.82,125.28Z" fill="#090909" stroke="#090909" stroke-width="0.4"/><path d="M163.82,125.28L167.12,126.28L168.92,124.53L165.62,123.53Z" fill="#282828" stroke="#282828" stroke-width="0.4"/><path d="M165.62,123.53L168.92,124.53L170.70,122.79L167.41,121.80Z" fill="#252525" stroke="#252525" stroke-width="0.4"/><path d="M167.41,121.80L170.70,122.79L172.48,121.06L169.20,120.07Z" fill="#1f1f1f" stroke="#1f1f1f" stroke-width="0.4"/><path d="M169.20,120.07L172.48,121.06L174.25,119.34L170.97,118.36Z" fill="#252525" stroke="#252525" stroke-width="0.4"/><path d="M170.97,118.36L174.25,119.34L176.00,117.63L172.73,116.65Z" fill="#212121" stroke="#212121" stroke-width="0.4"/><path d="M172.73,116.65L176.00,117.63L177.75,115.92L174.49,114.95Z" fill="#171717" stroke="#171717" stroke-width="0.4"/><path d="M174.49,114.95L177.75,115.92L179.49,114.23L176.23,113.26Z" fill="#1e1e1e" stroke="#1e1e1e" stroke-width="0.4"/><path d="M176.23,113.26L179.49,114.23L181.22,112.54L177.97,111.58Z" fill="#141414" stroke="#141414" stroke-width="0.4"/><path d="M177.97,111.58L181.22,112.54L182.94,110.86L179.70,109.90Z" fill="#181818" stroke="#181818" stroke-width="0.4"/><path d="M179.70,109.90L182.94,110.86L184.66,109.19L181.42,108.24Z" fill="#171717" stroke="#171717" stroke-width="0.4"/><path d="M129.10,163.33L132.54,164.45L134.53,162.50L131.10,161.38Z" fill="#1f1f1f" stroke="#1f1f1f" stroke-width="0.4"/><path d="M131.10,161.38L134.53,162.50L136.52,160.55L133.09,159.44Z" fill="#252525" stroke="#252525" stroke-width="0.4"/><path d="M133.09,159.44L136.52,160.55L138.49,158.62L135.07,157.51Z" fill="#181818" stroke="#181818" stroke-width="0.4"/><path d="M135.07,157.51L138.49,158.62L140.45,156.69L137.04,155.59Z" fill="#212121" stroke="#212121" stroke-width="0.4"/><path d="M137.04,155.59L140.45,156.69L142.40,154.78L139.00,153.69Z" fill="#0d0d0d" stroke="#0d0d0d" stroke-width="0.4"/><path d="M139.00,153.69L142.40,154.78L144.35,152.88L140.95,151.79Z" fill="#151515" stroke="#151515" stroke-width="0.4"/><path d="M140.95,151.79L144.35,152.88L146.28,150.98L142.88,149.90Z" fill="#212121" stroke="#212121" stroke-width="0.4"/><path d="M142.88,149.90L146.28,150.98L148.19,149.10L144.81,148.03Z" fill="#252525" stroke="#252525" stroke-width="0.4"/><path d="M144.81,148.03L148.19,149.10L150.10,147.23L146.73,146.16Z" fill="#252525" stroke="#252525" stroke-width="0.4"/><path d="M146.73,146.16L150.10,147.23L152.00,145.37L148.63,144.30Z" fill="#262626" stroke="#262626" stroke-width="0.4"/><path d="M148.63,144.30L152.00,145.37L153.89,143.51L150.52,142.46Z" fill="#111111" stroke="#111111" stroke-width="0.4"/><path d="M150.52,142.46L153.89,143.51L155.77,141.67L152.41,140.62Z" fill="#191919" stroke="#191919" stroke-width="0.4"/><path d="M152.41,140.62L155.77,141.67L157.64,139.84L154.28,138.79Z" fill="#0a0a0a" stroke="#0a0a0a" stroke-width="0.4"/><path d="M154.28,138.79L157.64,139.84L159.49,138.02L156.15,136.98Z" fill="#1c1c1c" stroke="#1c1c1c" stroke-width="0.4"/><path d="M156.15,136.98L159.49,138.02L161.34,136.21L158.00,135.17Z" fill="#1f1f1f" stroke="#1f1f1f" stroke-width="0.4"/><path d="M158.00,135.17L161.34,136.21L163.18,134.40L159.84,133.38Z" fill="#1b1b1b" stroke="#1b1b1b" stroke-width="0.4"/><path d="M159.84,133.38L163.18,134.40L165.01,132.61L161.68,131.59Z" fill="#161616" stroke="#161616" stroke-width="0.4"/><path d="M161.68,131.59L165.01,132.61L166.82,130.83L163.50,129.81Z" fill="#212121" stroke="#212121" stroke-width="0.4"/><path d="M163.50,129.81L166.82,130.83L168.63,129.06L165.32,128.04Z" fill="#212121" stroke="#212121" stroke-width="0.4"/><path d="M165.32,128.04L168.63,129.06L170.43,127.29L167.12,126.28Z" fill="#1e1e1e" stroke="#1e1e1e" stroke-width="0.4"/><path d="M167.12,126.28L170.43,127.29L172.22,125.54L168.92,124.53Z" fill="#191919" stroke="#191919" stroke-width="0.4"/><path d="M168.92,124.53L172.22,125.54L174.00,123.79L170.70,122.79Z" fill="#1e1e1e" stroke="#1e1e1e" stroke-width="0.4"/><path d="M170.70,122.79L174.00,123.79L175.77,122.05L172.48,121.06Z" fill="#1e1e1e" stroke="#1e1e1e" stroke-width="0.4"/><path d="M172.48,121.06L175.77,122.05L177.53,120.33L174.25,119.34Z" fill="#1f1f1f" stroke="#1f1f1f" stroke-width="0.4"/><path d="M174.25,119.34L177.53,120.33L179.28,118.61L176.00,117.63Z" fill="#222222" stroke="#222222" stroke-width="0.4"/><path d="M176.00,117.63L179.28,118.61L181.03,116.90L177.75,115.92Z" fill="#1d1d1d" stroke="#1d1d1d" stroke-width="0.4"/><path d="M177.75,115.92L181.03,116.90L182.76,115.20L179.49,114.23Z" fill="#121212" stroke="#121212" stroke-width="0.4"/><path d="M179.49,114.23L182.76,115.20L184.48,113.51L181.22,112.54Z" fill="#1b1b1b" stroke="#1b1b1b" stroke-width="0.4"/><path d="M181.22,112.54L184.48,113.51L186.20,111.83L182.94,110.86Z" fill="#202020" stroke="#202020" stroke-width="0.4"/><path d="M182.94,110.86L186.20,111.83L187.91,110.15L184.66,109.19Z" fill="#1a1a1a" stroke="#1a1a1a" stroke-width="0.4"/><path d="M132.54,164.45L135.98,165.58L137.97,163.62L134.53,162.50Z" fill="#1f1f1f" stroke="#1f1f1f" stroke-width="0.4"/><path d="M134.53,162.50L137.97,163.62L139.95,161.67L136.52,160.55Z" fill="#181818" stroke="#181818" stroke-width="0.4"/><path d="M136.52,160.55L139.95,161.67L141.92,159.72L138.49,158.62Z" fill="#282828" stroke="#282828" stroke-width="0.4"/><path d="M138.49,158.62L141.92,159.72L143.87,157.79L140.45,156.69Z" fill="#202020" stroke="#202020" stroke-width="0.4"/><path d="M140.45,156.69L143.87,157.79L145.82,155.87L142.40,154.78Z" fill="#1e1e1e" stroke="#1e1e1e" stroke-width="0.4"/><path d="M142.40,154.78L145.82,155.87L147.75,153.96L144.35,152.88Z" fill="#232323" stroke="#232323" stroke-width="0.4"/><path d="M144.35,152.88L147.75,153.96L149.68,152.07L146.28,150.98Z" fill="#232323" stroke="#232323" stroke-width="0.4"/><path d="M146.28,150.98L149.68,152.07L151.59,150.18L148.19,149.10Z" fill="#1e1e1e" stroke="#1e1e1e" stroke-width="0.4"/><path d="M148.19,149.10L151.59,150.18L153.49,148.30L150.10,147.23Z" fill="#252525" stroke="#252525" stroke-width="0.4"/><path d="M150.10,147.23L153.49,148.30L155.38,146.43L152.00,145.37Z" fill="#222222" stroke="#222222" stroke-width="0.4"/><path d="M152.00,145.37L155.38,146.43L157.27,144.57L153.89,143.51Z" fill="#1f1f1f" stroke="#1f1f1f" stroke-width="0.4"/><path d="M153.89,143.51L157.27,144.57L159.14,142.73L155.77,141.67Z" fill="#1d1d1d" stroke="#1d1d1d" stroke-width="0.4"/><path d="M155.77,141.67L159.14,142.73L161.00,140.89L157.64,139.84Z" fill="#151515" stroke="#151515" stroke-width="0.4"/><path d="M157.64,139.84L161.00,140.89L162.85,139.06L159.49,138.02Z" fill="#1f1f1f" stroke="#1f1f1f" stroke-width="0.4"/><path d="M159.49,138.02L162.85,139.06L164.69,137.25L161.34,136.21Z" fill="#1f1f1f" stroke="#1f1f1f" stroke-width="0.4"/><path d="M161.34,136.21L164.69,137.25L166.52,135.44L163.18,134.40Z" fill="#171717" stroke="#171717" stroke-width="0.4"/><path d="M163.18,134.40L166.52,135.44L168.34,133.64L165.01,132.61Z" fill="#282828" stroke="#282828" stroke-width="0.4"/><path d="M165.01,132.61L168.34,133.64L170.16,131.85L166.82,130.83Z" fill="#1d1d1d" stroke="#1d1d1d" stroke-width="0.4"/><path d="M166.82,130.83L170.16,131.85L171.96,130.07L168.63,129.06Z" fill="#151515" stroke="#151515" stroke-width="0.4"/><path d="M168.63,129.06L171.96,130.07L173.75,128.30L170.43,127.29Z" fill="#1a1a1a" stroke="#1a1a1a" stroke-width="0.4"/><path d="M170.43,127.29L173.75,128.30L175.53,126.54L172.22,125.54Z" fill="#1d1d1d" stroke="#1d1d1d" stroke-width="0.4"/><path d="M172.22,125.54L175.53,126.54L177.31,124.79L174.00,123.79Z" fill="#1d1d1d" stroke="#1d1d1d" stroke-width="0.4"/><path d="M174.00,123.79L177.31,124.79L179.07,123.05L175.77,122.05Z" fill="#171717" stroke="#171717" stroke-width="0.4"/><path d="M175.77,122.05L179.07,123.05L180.83,121.32L177.53,120.33Z" fill="#1e1e1e" stroke="#1e1e1e" stroke-width="0.4"/><path d="M177.53,120.33L180.83,121.32L182.57,119.59L179.28,118.61Z" fill="#121212" stroke="#121212" stroke-width="0.4"/><path d="M179.28,118.61L182.57,119.59L184.31,117.88L181.03,116.90Z" fill="#1a1a1a" stroke="#1a1a1a" stroke-width="0.4"/><path d="M181.03,116.90L184.31,117.88L186.04,116.18L182.76,115.20Z" fill="#212121" stroke="#212121" stroke-width="0.4"/><path d="M182.76,115.20L186.04,116.18L187.76,114.48L184.48,113.51Z" fill="#181818" stroke="#181818" stroke-width="0.4"/><path d="M184.48,113.51L187.76,114.48L189.46,112.79L186.20,111.83Z" fill="#222222" stroke="#222222" stroke-width="0.4"/><path d="M186.20,111.83L189.46,112.79L191.17,111.11L187.91,110.15Z" fill="#232323" stroke="#232323" stroke-width="0.4"/><path d="M135.98,165.58L139.44,166.71L141.42,164.74L137.97,163.62Z" fill="#191919" stroke="#191919" stroke-width="0.4"/><path d="M137.97,163.62L141.42,164.74L143.40,162.78L139.95,161.67Z" fill="#0b0b0b" stroke="#0b0b0b" stroke-width="0.4"/><path d="M139.95,161.67L143.40,162.78L145.36,160.84L141.92,159.72Z" fill="#242424" stroke="#242424" stroke-width="0.4"/><path d="M141.92,159.72L145.36,160.84L147.31,158.90L143.87,157.79Z" fill="#282828" stroke="#282828" stroke-width="0.4"/><path d="M143.87,157.79L147.31,158.90L149.24,156.97L145.82,155.87Z" fill="#111111" stroke="#111111" stroke-width="0.4"/><path d="M145.82,155.87L149.24,156.97L151.17,155.06L147.75,153.96Z" fill="#1f1f1f" stroke="#1f1f1f" stroke-width="0.4"/><path d="M147.75,153.96L151.17,155.06L153.09,153.15L149.68,152.07Z" fill="#202020" stroke="#202020" stroke-width="0.4"/><path d="M149.68,152.07L153.09,153.15L154.99,151.26L151.59,150.18Z" fill="#111111" stroke="#111111" stroke-width="0.4"/><path d="M151.59,150.18L154.99,151.26L156.89,149.38L153.49,148.30Z" fill="#191919" stroke="#191919" stroke-width="0.4"/><path d="M153.49,148.30L156.89,149.38L158.78,147.50L155.38,146.43Z" fill="#272727" stroke="#272727" stroke-width="0.4"/><path d="M155.38,146.43L158.78,147.50L160.65,145.64L157.27,144.57Z" fill="#1f1f1f" stroke="#1f1f1f" stroke-width="0.4"/><path d="M157.27,144.57L160.65,145.64L162.52,143.79L159.14,142.73Z" fill="#1e1e1e" stroke="#1e1e1e" stroke-width="0.4"/><path d="M159.14,142.73L162.52,143.79L164.37,141.94L161.00,140.89Z" fill="#262626" stroke="#262626" stroke-width="0.4"/><path d="M161.00,140.89L164.37,141.94L166.22,140.11L162.85,139.06Z" fill="#191919" stroke="#191919" stroke-width="0.4"/><path d="M162.85,139.06L166.22,140.11L168.05,138.29L164.69,137.25Z" fill="#101010" stroke="#101010" stroke-width="0.4"/><path d="M164.69,137.25L168.05,138.29L169.88,136.47L166.52,135.44Z" fill="#282828" stroke="#282828" stroke-width="0.4"/><path d="M166.52,135.44L169.88,136.47L171.69,134.67L168.34,133.64Z" fill="#171717" stroke="#171717" stroke-width="0.4"/><path d="M168.34,133.64L171.69,134.67L173.50,132.88L170.16,131.85Z" fill="#1d1d1d" stroke="#1d1d1d" stroke-width="0.4"/><path d="M170.16,131.85L173.50,132.88L175.29,131.09L171.96,130.07Z" fill="#262626" stroke="#262626" stroke-width="0.4"/><path d="M171.96,130.07L175.29,131.09L177.08,129.32L173.75,128.30Z" fill="#202020" stroke="#202020" stroke-width="0.4"/><path d="M173.75,128.30L177.08,129.32L178.86,127.55L175.53,126.54Z" fill="#1f1f1f" stroke="#1f1f1f" stroke-width="0.4"/><path d="M175.53,126.54L178.86,127.55L180.62,125.80L177.31,124.79Z" fill="#191919" stroke="#191919" stroke-width="0.4"/><path d="M177.31,124.79L180.62,125.80L182.38,124.05L179.07,123.05Z" fill="#222222" stroke="#222222" stroke-width="0.4"/><path d="M179.07,123.05L182.38,124.05L184.13,122.31L180.83,121.32Z" fill="#2e2e2e" stroke="#2e2e2e" stroke-width="0.4"/><path d="M180.83,121.32L184.13,122.31L185.87,120.58L182.57,119.59Z" fill="#191919" stroke="#191919" stroke-width="0.4"/><path d="M182.57,119.59L185.87,120.58L187.60,118.86L184.31,117.88Z" fill="#151515" stroke="#151515" stroke-width="0.4"/><path d="M184.31,117.88L187.60,118.86L189.32,117.15L186.04,116.18Z" fill="#202020" stroke="#202020" stroke-width="0.4"/><path d="M186.04,116.18L189.32,117.15L191.04,115.45L187.76,114.48Z" fill="#181818" stroke="#181818" stroke-width="0.4"/><path d="M187.76,114.48L191.04,115.45L192.74,113.76L189.46,112.79Z" fill="#1f1f1f" stroke="#1f1f1f" stroke-width="0.4"/><path d="M189.46,112.79L192.74,113.76L194.43,112.08L191.17,111.11Z" fill="#1e1e1e" stroke="#1e1e1e" stroke-width="0.4"/><path d="M139.44,166.71L142.91,167.84L144.89,165.87L141.42,164.74Z" fill="#212121" stroke="#212121" stroke-width="0.4"/><path d="M141.42,164.74L144.89,165.87L146.85,163.90L143.40,162.78Z" fill="#1f1f1f" stroke="#1f1f1f" stroke-width="0.4"/><path d="M143.40,162.78L146.85,163.90L148.80,161.95L145.36,160.84Z" fill="#202020" stroke="#202020" stroke-width="0.4"/><path d="M145.36,160.84L148.80,161.95L150.75,160.01L147.31,158.90Z" fill="#272727" stroke="#272727" stroke-width="0.4"/><path d="M147.31,158.90L150.75,160.01L152.68,158.08L149.24,156.97Z" fill="#161616" stroke="#161616" stroke-width="0.4"/><path d="M149.24,156.97L152.68,158.08L154.60,156.15L151.17,155.06Z" fill="#1e1e1e" stroke="#1e1e1e" stroke-width="0.4"/><path d="M151.17,155.06L154.60,156.15L156.51,154.24L153.09,153.15Z" fill="#202020" stroke="#202020" stroke-width="0.4"/><path d="M153.09,153.15L156.51,154.24L158.41,152.34L154.99,151.26Z" fill="#141414" stroke="#141414" stroke-width="0.4"/><path d="M154.99,151.26L158.41,152.34L160.30,150.45L156.89,149.38Z" fill="#161616" stroke="#161616" stroke-width="0.4"/><path d="M156.89,149.38L160.30,150.45L162.18,148.57L158.78,147.50Z" fill="#1b1b1b" stroke="#1b1b1b" stroke-width="0.4"/><path d="M158.78,147.50L162.18,148.57L164.05,146.71L160.65,145.64Z" fill="#1a1a1a" stroke="#1a1a1a" stroke-width="0.4"/><path d="M160.65,145.64L164.05,146.71L165.91,144.85L162.52,143.79Z" fill="#262626" stroke="#262626" stroke-width="0.4"/><path d="M162.52,143.79L165.91,144.85L167.76,143.00L164.37,141.94Z" fill="#1f1f1f" stroke="#1f1f1f" stroke-width="0.4"/><path d="M164.37,141.94L167.76,143.00L169.59,141.16L166.22,140.11Z" fill="#343434" stroke="#343434" stroke-width="0.4"/><path d="M166.22,140.11L169.59,141.16L171.42,139.33L168.05,138.29Z" fill="#1b1b1b" stroke="#1b1b1b" stroke-width="0.4"/><path d="M168.05,138.29L171.42,139.33L173.24,137.51L169.88,136.47Z" fill="#1b1b1b" stroke="#1b1b1b" stroke-width="0.4"/><path d="M169.88,136.47L173.24,137.51L175.05,135.70L171.69,134.67Z" fill="#2f2f2f" stroke="#2f2f2f" stroke-width="0.4"/><path d="M171.69,134.67L175.05,135.70L176.85,133.90L173.50,132.88Z" fill="#191919" stroke="#191919" stroke-width="0.4"/><path d="M173.50,132.88L176.85,133.90L178.64,132.11L175.29,131.09Z" fill="#2f2f2f" stroke="#2f2f2f" stroke-width="0.4"/><path d="M175.29,131.09L178.64,132.11L180.42,130.33L177.08,129.32Z" fill="#060606" stroke="#060606" stroke-width="0.4"/><path d="M177.08,129.32L180.42,130.33L182.19,128.56L178.86,127.55Z" fill="#191919" stroke="#191919" stroke-width="0.4"/><path d="M178.86,127.55L182.19,128.56L183.95,126.80L180.62,125.80Z" fill="#282828" stroke="#282828" stroke-width="0.4"/><path d="M180.62,125.80L183.95,126.80L185.70,125.05L182.38,124.05Z" fill="#2a2a2a" stroke="#2a2a2a" stroke-width="0.4"/><path d="M182.38,124.05L185.70,125.05L187.45,123.31L184.13,122.31Z" fill="#212121" stroke="#212121" stroke-width="0.4"/><path d="M184.13,122.31L187.45,123.31L189.18,121.57L185.87,120.58Z" fill="#191919" stroke="#191919" stroke-width="0.4"/><path d="M185.87,120.58L189.18,121.57L190.90,119.85L187.60,118.86Z" fill="#1d1d1d" stroke="#1d1d1d" stroke-width="0.4"/><path d="M187.60,118.86L190.90,119.85L192.62,118.13L189.32,117.15Z" fill="#242424" stroke="#242424" stroke-width="0.4"/><path d="M189.32,117.15L192.62,118.13L194.33,116.43L191.04,115.45Z" fill="#202020" stroke="#202020" stroke-width="0.4"/><path d="M191.04,115.45L194.33,116.43L196.02,114.73L192.74,113.76Z" fill="#252525" stroke="#252525" stroke-width="0.4"/><path d="M192.74,113.76L196.02,114.73L197.71,113.04L194.43,112.08Z" fill="#181818" stroke="#181818" stroke-width="0.4"/><path d="M142.91,167.84L146.39,168.98L148.36,167.00L144.89,165.87Z" fill="#242424" stroke="#242424" stroke-width="0.4"/><path d="M144.89,165.87L148.36,167.00L150.32,165.03L146.85,163.90Z" fill="#282828" stroke="#282828" stroke-width="0.4"/><path d="M146.85,163.90L150.32,165.03L152.26,163.07L148.80,161.95Z" fill="#353535" stroke="#353535" stroke-width="0.4"/><path d="M148.80,161.95L152.26,163.07L154.20,161.12L150.75,160.01Z" fill="#232323" stroke="#232323" stroke-width="0.4"/><path d="M150.75,160.01L154.20,161.12L156.12,159.18L152.68,158.08Z" fill="#232323" stroke="#232323" stroke-width="0.4"/><path d="M152.68,158.08L156.12,159.18L158.04,157.25L154.60,156.15Z" fill="#171717" stroke="#171717" stroke-width="0.4"/><path d="M154.60,156.15L158.04,157.25L159.94,155.34L156.51,154.24Z" fill="#141414" stroke="#141414" stroke-width="0.4"/><path d="M156.51,154.24L159.94,155.34L161.84,153.43L158.41,152.34Z" fill="#0c0c0c" stroke="#0c0c0c" stroke-width="0.4"/><path d="M158.41,152.34L161.84,153.43L163.72,151.54L160.30,150.45Z" fill="#212121" stroke="#212121" stroke-width="0.4"/><path d="M160.30,150.45L163.72,151.54L165.59,149.65L162.18,148.57Z" fill="#2d2d2d" stroke="#2d2d2d" stroke-width="0.4"/><path d="M162.18,148.57L165.59,149.65L167.45,147.78L164.05,146.71Z" fill="#1d1d1d" stroke="#1d1d1d" stroke-width="0.4"/><path d="M164.05,146.71L167.45,147.78L169.31,145.91L165.91,144.85Z" fill="#0b0b0b" stroke="#0b0b0b" stroke-width="0.4"/><path d="M165.91,144.85L169.31,145.91L171.15,144.06L167.76,143.00Z" fill="#1f1f1f" stroke="#1f1f1f" stroke-width="0.4"/><path d="M167.76,143.00L171.15,144.06L172.98,142.21L169.59,141.16Z" fill="#1c1c1c" stroke="#1c1c1c" stroke-width="0.4"/><path d="M169.59,141.16L172.98,142.21L174.80,140.38L171.42,139.33Z" fill="#1b1b1b" stroke="#1b1b1b" stroke-width="0.4"/><path d="M171.42,139.33L174.80,140.38L176.62,138.55L173.24,137.51Z" fill="#2b2b2b" stroke="#2b2b2b" stroke-width="0.4"/><path d="M173.24,137.51L176.62,138.55L178.42,136.74L175.05,135.70Z" fill="#272727" stroke="#272727" stroke-width="0.4"/><path d="M175.05,135.70L178.42,136.74L180.21,134.93L176.85,133.90Z" fill="#292929" stroke="#292929" stroke-width="0.4"/><path d="M176.85,133.90L180.21,134.93L181.99,133.14L178.64,132.11Z" fill="#181818" stroke="#181818" stroke-width="0.4"/><path d="M178.64,132.11L181.99,133.14L183.77,131.35L180.42,130.33Z" fill="#212121" stroke="#212121" stroke-width="0.4"/><path d="M180.42,130.33L183.77,131.35L185.53,129.58L182.19,128.56Z" fill="#151515" stroke="#151515" stroke-width="0.4"/><path d="M182.19,128.56L185.53,129.58L187.29,127.81L183.95,126.80Z" fill="#272727" stroke="#272727" stroke-width="0.4"/><path d="M183.95,126.80L187.29,127.81L189.03,126.05L185.70,125.05Z" fill="#151515" stroke="#151515" stroke-width="0.4"/><path d="M185.70,125.05L189.03,126.05L190.77,124.31L187.45,123.31Z" fill="#282828" stroke="#282828" stroke-width="0.4"/><path d="M187.45,123.31L190.77,124.31L192.50,122.57L189.18,121.57Z" fill="#202020" stroke="#202020" stroke-width="0.4"/><path d="M189.18,121.57L192.50,122.57L194.22,120.84L190.90,119.85Z" fill="#202020" stroke="#202020" stroke-width="0.4"/><path d="M190.90,119.85L194.22,120.84L195.92,119.12L192.62,118.13Z" fill="#131313" stroke="#131313" stroke-width="0.4"/><path d="M192.62,118.13L195.92,119.12L197.62,117.41L194.33,116.43Z" fill="#232323" stroke="#232323" stroke-width="0.4"/><path d="M194.33,116.43L197.62,117.41L199.32,115.70L196.02,114.73Z" fill="#101010" stroke="#101010" stroke-width="0.4"/><path d="M196.02,114.73L199.32,115.70L201.00,114.01L197.71,113.04Z" fill="#141414" stroke="#141414" stroke-width="0.4"/><path d="M146.39,168.98L149.88,170.12L151.84,168.13L148.36,167.00Z" fill="#171717" stroke="#171717" stroke-width="0.4"/><path d="M148.36,167.00L151.84,168.13L153.79,166.16L150.32,165.03Z" fill="#2e2e2e" stroke="#2e2e2e" stroke-width="0.4"/><path d="M150.32,165.03L153.79,166.16L155.73,164.19L152.26,163.07Z" fill="#1f1f1f" stroke="#1f1f1f" stroke-width="0.4"/><path d="M152.26,163.07L155.73,164.19L157.66,162.23L154.20,161.12Z" fill="#191919" stroke="#191919" stroke-width="0.4"/><path d="M154.20,161.12L157.66,162.23L159.58,160.29L156.12,159.18Z" fill="#222222" stroke="#222222" stroke-width="0.4"/><path d="M156.12,159.18L159.58,160.29L161.49,158.36L158.04,157.25Z" fill="#303030" stroke="#303030" stroke-width="0.4"/><path d="M158.04,157.25L161.49,158.36L163.39,156.43L159.94,155.34Z" fill="#1d1d1d" stroke="#1d1d1d" stroke-width="0.4"/><path d="M159.94,155.34L163.39,156.43L165.27,154.52L161.84,153.43Z" fill="#161616" stroke="#161616" stroke-width="0.4"/><path d="M161.84,153.43L165.27,154.52L167.15,152.62L163.72,151.54Z" fill="#151515" stroke="#151515" stroke-width="0.4"/><path d="M163.72,151.54L167.15,152.62L169.02,150.73L165.59,149.65Z" fill="#1d1d1d" stroke="#1d1d1d" stroke-width="0.4"/><path d="M165.59,149.65L169.02,150.73L170.87,148.85L167.45,147.78Z" fill="#2b2b2b" stroke="#2b2b2b" stroke-width="0.4"/><path d="M167.45,147.78L170.87,148.85L172.72,146.98L169.31,145.91Z" fill="#1d1d1d" stroke="#1d1d1d" stroke-width="0.4"/><path d="M169.31,145.91L172.72,146.98L174.55,145.12L171.15,144.06Z" fill="#1c1c1c" stroke="#1c1c1c" stroke-width="0.4"/><path d="M171.15,144.06L174.55,145.12L176.38,143.27L172.98,142.21Z" fill="#161616" stroke="#161616" stroke-width="0.4"/><path d="M172.98,142.21L176.38,143.27L178.19,141.43L174.80,140.38Z" fill="#151515" stroke="#151515" stroke-width="0.4"/><path d="M174.80,140.38L178.19,141.43L180.00,139.60L176.62,138.55Z" fill="#262626" stroke="#262626" stroke-width="0.4"/><path d="M176.62,138.55L180.00,139.60L181.80,137.78L178.42,136.74Z" fill="#202020" stroke="#202020" stroke-width="0.4"/><path d="M178.42,136.74L181.80,137.78L183.58,135.97L180.21,134.93Z" fill="#212121" stroke="#212121" stroke-width="0.4"/><path d="M180.21,134.93L183.58,135.97L185.36,134.17L181.99,133.14Z" fill="#131313" stroke="#131313" stroke-width="0.4"/><path d="M181.99,133.14L185.36,134.17L187.13,132.38L183.77,131.35Z" fill="#222222" stroke="#222222" stroke-width="0.4"/><path d="M183.77,131.35L187.13,132.38L188.89,130.60L185.53,129.58Z" fill="#202020" stroke="#202020" stroke-width="0.4"/><path d="M185.53,129.58L188.89,130.60L190.63,128.82L187.29,127.81Z" fill="#292929" stroke="#292929" stroke-width="0.4"/><path d="M187.29,127.81L190.63,128.82L192.37,127.06L189.03,126.05Z" fill="#262626" stroke="#262626" stroke-width="0.4"/><path d="M189.03,126.05L192.37,127.06L194.10,125.31L190.77,124.31Z" fill="#1c1c1c" stroke="#1c1c1c" stroke-width="0.4"/><path d="M190.77,124.31L194.10,125.31L195.82,123.56L192.50,122.57Z" fill="#202020" stroke="#202020" stroke-width="0.4"/><path d="M192.50,122.57L195.82,123.56L197.54,121.83L194.22,120.84Z" fill="#202020" stroke="#202020" stroke-width="0.4"/><path d="M194.22,120.84L197.54,121.83L199.24,120.10L195.92,119.12Z" fill="#1d1d1d" stroke="#1d1d1d" stroke-width="0.4"/><path d="M195.92,119.12L199.24,120.10L200.93,118.39L197.62,117.41Z" fill="#171717" stroke="#171717" stroke-width="0.4"/><path d="M197.62,117.41L200.93,118.39L202.62,116.68L199.32,115.70Z" fill="#252525" stroke="#252525" stroke-width="0.4"/><path d="M199.32,115.70L202.62,116.68L204.30,114.98L201.00,114.01Z" fill="#2f2f2f" stroke="#2f2f2f" stroke-width="0.4"/><path d="M149.88,170.12L153.38,171.27L155.34,169.27L151.84,168.13Z" fill="#1d1d1d" stroke="#1d1d1d" stroke-width="0.4"/><path d="M151.84,168.13L155.34,169.27L157.28,167.29L153.79,166.16Z" fill="#2a2a2a" stroke="#2a2a2a" stroke-width="0.4"/><path d="M153.79,166.16L157.28,167.29L159.21,165.31L155.73,164.19Z" fill="#1b1b1b" stroke="#1b1b1b" stroke-width="0.4"/><path d="M155.73,164.19L159.21,165.31L161.14,163.35L157.66,162.23Z" fill="#1b1b1b" stroke="#1b1b1b" stroke-width="0.4"/><path d="M157.66,162.23L161.14,163.35L163.05,161.40L159.58,160.29Z" fill="#1e1e1e" stroke="#1e1e1e" stroke-width="0.4"/><path d="M159.58,160.29L163.05,161.40L164.95,159.46L161.49,158.36Z" fill="#1b1b1b" stroke="#1b1b1b" stroke-width="0.4"/><path d="M161.49,158.36L164.95,159.46L166.84,157.54L163.39,156.43Z" fill="#252525" stroke="#252525" stroke-width="0.4"/><path d="M163.39,156.43L166.84,157.54L168.72,155.62L165.27,154.52Z" fill="#272727" stroke="#272727" stroke-width="0.4"/><path d="M165.27,154.52L168.72,155.62L170.59,153.71L167.15,152.62Z" fill="#0a0a0a" stroke="#0a0a0a" stroke-width="0.4"/><path d="M167.15,152.62L170.59,153.71L172.45,151.81L169.02,150.73Z" fill="#242424" stroke="#242424" stroke-width="0.4"/><path d="M169.02,150.73L172.45,151.81L174.30,149.93L170.87,148.85Z" fill="#212121" stroke="#212121" stroke-width="0.4"/><path d="M170.87,148.85L174.30,149.93L176.14,148.05L172.72,146.98Z" fill="#2b2b2b" stroke="#2b2b2b" stroke-width="0.4"/><path d="M172.72,146.98L176.14,148.05L177.97,146.18L174.55,145.12Z" fill="#171717" stroke="#171717" stroke-width="0.4"/><path d="M174.55,145.12L177.97,146.18L179.79,144.33L176.38,143.27Z" fill="#1f1f1f" stroke="#1f1f1f" stroke-width="0.4"/><path d="M176.38,143.27L179.79,144.33L181.60,142.48L178.19,141.43Z" fill="#272727" stroke="#272727" stroke-width="0.4"/><path d="M178.19,141.43L181.60,142.48L183.40,140.65L180.00,139.60Z" fill="#252525" stroke="#252525" stroke-width="0.4"/><path d="M180.00,139.60L183.40,140.65L185.19,138.82L181.80,137.78Z" fill="#292929" stroke="#292929" stroke-width="0.4"/><path d="M181.80,137.78L185.19,138.82L186.97,137.01L183.58,135.97Z" fill="#181818" stroke="#181818" stroke-width="0.4"/><path d="M183.58,135.97L186.97,137.01L188.74,135.20L185.36,134.17Z" fill="#191919" stroke="#191919" stroke-width="0.4"/><path d="M185.36,134.17L188.74,135.20L190.50,133.40L187.13,132.38Z" fill="#222222" stroke="#222222" stroke-width="0.4"/><path d="M187.13,132.38L190.50,133.40L192.25,131.62L188.89,130.60Z" fill="#131313" stroke="#131313" stroke-width="0.4"/><path d="M188.89,130.60L192.25,131.62L193.99,129.84L190.63,128.82Z" fill="#212121" stroke="#212121" stroke-width="0.4"/><path d="M190.63,128.82L193.99,129.84L195.72,128.07L192.37,127.06Z" fill="#252525" stroke="#252525" stroke-width="0.4"/><path d="M192.37,127.06L195.72,128.07L197.45,126.31L194.10,125.31Z" fill="#202020" stroke="#202020" stroke-width="0.4"/><path d="M194.10,125.31L197.45,126.31L199.16,124.56L195.82,123.56Z" fill="#131313" stroke="#131313" stroke-width="0.4"/><path d="M195.82,123.56L199.16,124.56L200.87,122.82L197.54,121.83Z" fill="#191919" stroke="#191919" stroke-width="0.4"/><path d="M197.54,121.83L200.87,122.82L202.56,121.09L199.24,120.10Z" fill="#1b1b1b" stroke="#1b1b1b" stroke-width="0.4"/><path d="M199.24,120.10L202.56,121.09L204.25,119.37L200.93,118.39Z" fill="#212121" stroke="#212121" stroke-width="0.4"/><path d="M200.93,118.39L204.25,119.37L205.93,117.66L202.62,116.68Z" fill="#202020" stroke="#202020" stroke-width="0.4"/><path d="M202.62,116.68L205.93,117.66L207.60,115.96L204.30,114.98Z" fill="#1a1a1a" stroke="#1a1a1a" stroke-width="0.4"/></g>
<g stroke="#000" stroke-width="0.95" stroke-linejoin="round"><path d="M88.82,24.93L95.45,30.56L99.52,27.49L92.92,21.90Z" fill="#f0e232" /><path d="M95.45,30.56L102.10,35.94L106.14,32.83L99.52,27.49Z" fill="#c4da3c" /><path d="M102.10,35.94L108.76,40.37L112.77,37.24L106.14,32.83Z" fill="#a4d24a" /><path d="M108.76,40.37L115.45,45.97L119.43,42.81L112.77,37.24Z" fill="#86c95a" /><path d="M149.13,85.39L155.78,104.36L159.53,100.88L152.94,82.00Z" fill="#3e1262" /><path d="M84.67,28.00L91.33,33.66L95.45,30.56L88.82,24.93Z" fill="#f0e232" /><path d="M115.45,45.97L122.17,53.26L126.12,50.05L119.43,42.81Z" fill="#5cbd68" /><path d="M122.17,53.26L128.90,59.91L132.82,56.66L126.12,50.05Z" fill="#28a880" /><path d="M91.33,33.66L98.01,39.07L102.10,35.94L95.45,30.56Z" fill="#c4da3c" /><path d="M128.90,59.91L135.64,67.22L139.52,63.93L132.82,56.66Z" fill="#1a9a92" /><path d="M142.40,74.28L149.13,85.39L152.94,82.00L146.24,70.94Z" fill="#4668ac" /><path d="M135.64,67.22L142.40,74.28L146.24,70.94L139.52,63.93Z" fill="#1f8a9e" /><path d="M98.01,39.07L104.70,43.54L108.76,40.37L102.10,35.94Z" fill="#a4d24a" /><path d="M104.70,43.54L111.43,49.18L115.45,45.97L108.76,40.37Z" fill="#86c95a" /><path d="M145.28,88.82L151.99,107.87L155.78,104.36L149.13,85.39Z" fill="#3e1262" /><path d="M80.48,31.10L87.17,36.79L91.33,33.66L84.67,28.00Z" fill="#f0e232" /><path d="M111.43,49.18L118.18,56.50L122.17,53.26L115.45,45.97Z" fill="#5cbd68" /><path d="M118.18,56.50L124.94,63.20L128.90,59.91L122.17,53.26Z" fill="#28a880" /><path d="M87.17,36.79L93.88,42.24L98.01,39.07L91.33,33.66Z" fill="#c4da3c" /><path d="M124.94,63.20L131.72,70.54L135.64,67.22L128.90,59.91Z" fill="#1a9a92" /><path d="M138.51,77.65L145.28,88.82L149.13,85.39L142.40,74.28Z" fill="#4668ac" /><path d="M131.72,70.54L138.51,77.65L142.40,74.28L135.64,67.22Z" fill="#1f8a9e" /><path d="M93.88,42.24L100.60,46.74L104.70,43.54L98.01,39.07Z" fill="#a4d24a" /><path d="M100.60,46.74L107.36,52.41L111.43,49.18L104.70,43.54Z" fill="#86c95a" /><path d="M141.39,92.28L148.15,111.43L151.99,107.87L145.28,88.82Z" fill="#3e1262" /><path d="M76.24,34.24L82.97,39.97L87.17,36.79L80.48,31.10Z" fill="#f0e232" /><path d="M107.36,52.41L114.15,59.78L118.18,56.50L111.43,49.18Z" fill="#5cbd68" /><path d="M114.15,59.78L120.94,66.52L124.94,63.20L118.18,56.50Z" fill="#28a880" /><path d="M82.97,39.97L89.71,45.45L93.88,42.24L87.17,36.79Z" fill="#c4da3c" /><path d="M120.94,66.52L127.75,73.91L131.72,70.54L124.94,63.20Z" fill="#1a9a92" /><path d="M134.58,81.05L141.39,92.28L145.28,88.82L138.51,77.65Z" fill="#4668ac" /><path d="M127.75,73.91L134.58,81.05L138.51,77.65L131.72,70.54Z" fill="#1f8a9e" /><path d="M89.71,45.45L96.45,49.98L100.60,46.74L93.88,42.24Z" fill="#a4d24a" /><path d="M96.45,49.98L103.24,55.69L107.36,52.41L100.60,46.74Z" fill="#86c95a" /><path d="M137.46,95.79L144.27,115.02L148.15,111.43L141.39,92.28Z" fill="#3e1262" /><path d="M71.95,37.41L78.71,43.17L82.97,39.97L76.24,34.24Z" fill="#f0e232" /><path d="M103.24,55.69L110.07,63.10L114.15,59.78L107.36,52.41Z" fill="#5cbd68" /><path d="M110.07,63.10L116.90,69.88L120.94,66.52L114.15,59.78Z" fill="#28a880" /><path d="M78.71,43.17L85.49,48.69L89.71,45.45L82.97,39.97Z" fill="#c4da3c" /><path d="M116.90,69.88L123.74,77.31L127.75,73.91L120.94,66.52Z" fill="#1a9a92" /><path d="M130.60,84.50L137.46,95.79L141.39,92.28L134.58,81.05Z" fill="#4668ac" /><path d="M123.74,77.31L130.60,84.50L134.58,81.05L127.75,73.91Z" fill="#1f8a9e" /><path d="M85.49,48.69L92.26,53.25L96.45,49.98L89.71,45.45Z" fill="#a4d24a" /><path d="M92.26,53.25L99.08,59.00L103.24,55.69L96.45,49.98Z" fill="#86c95a" /><path d="M133.48,99.33L140.35,118.65L144.27,115.02L137.46,95.79Z" fill="#3e1262" /><path d="M67.62,40.61L74.41,46.41L78.71,43.17L71.95,37.41Z" fill="#f0e232" /><path d="M99.08,59.00L105.94,66.45L110.07,63.10L103.24,55.69Z" fill="#5cbd68" /><path d="M105.94,66.45L112.81,73.27L116.90,69.88L110.07,63.10Z" fill="#28a880" /><path d="M74.41,46.41L81.22,51.97L85.49,48.69L78.71,43.17Z" fill="#c4da3c" /><path d="M112.81,73.27L119.69,80.75L123.74,77.31L116.90,69.88Z" fill="#1a9a92" /><path d="M126.58,87.98L133.48,99.33L137.46,95.79L130.60,84.50Z" fill="#4668ac" /><path d="M119.69,80.75L126.58,87.98L130.60,84.50L123.74,77.31Z" fill="#1f8a9e" /><path d="M81.22,51.97L88.02,56.56L92.26,53.25L85.49,48.69Z" fill="#a4d24a" /><path d="M88.02,56.56L94.87,62.35L99.08,59.00L92.26,53.25Z" fill="#86c95a" /><path d="M129.46,102.91L136.39,122.33L140.35,118.65L133.48,99.33Z" fill="#3e1262" /><path d="M63.24,43.86L70.06,49.69L74.41,46.41L67.62,40.61Z" fill="#f0e232" /><path d="M94.87,62.35L101.77,69.85L105.94,66.45L99.08,59.00Z" fill="#5cbd68" /><path d="M101.77,69.85L108.67,76.71L112.81,73.27L105.94,66.45Z" fill="#28a880" /><path d="M70.06,49.69L76.90,55.29L81.22,51.97L74.41,46.41Z" fill="#c4da3c" /><path d="M108.67,76.71L115.59,84.23L119.69,80.75L112.81,73.27Z" fill="#1a9a92" /><path d="M122.51,91.50L129.46,102.91L133.48,99.33L126.58,87.98Z" fill="#4668ac" /><path d="M115.59,84.23L122.51,91.50L126.58,87.98L119.69,80.75Z" fill="#1f8a9e" /><path d="M76.90,55.29L83.73,59.91L88.02,56.56L81.22,51.97Z" fill="#a4d24a" /><path d="M83.73,59.91L90.62,65.73L94.87,62.35L88.02,56.56Z" fill="#86c95a" /><path d="M125.39,106.54L132.38,126.04L136.39,122.33L129.46,102.91Z" fill="#3e1262" /><path d="M58.81,47.13L65.66,53.01L70.06,49.69L63.24,43.86Z" fill="#f0e232" /><path d="M90.62,65.73L97.55,73.28L101.77,69.85L94.87,62.35Z" fill="#5cbd68" /><path d="M97.55,73.28L104.48,80.18L108.67,76.71L101.77,69.85Z" fill="#28a880" /><path d="M65.66,53.01L72.53,58.64L76.90,55.29L70.06,49.69Z" fill="#c4da3c" /><path d="M104.48,80.18L111.44,87.75L115.59,84.23L108.67,76.71Z" fill="#1a9a92" /><path d="M118.40,95.06L125.39,106.54L129.46,102.91L122.51,91.50Z" fill="#4668ac" /><path d="M111.44,87.75L118.40,95.06L122.51,91.50L115.59,84.23Z" fill="#1f8a9e" /><path d="M72.53,58.64L79.39,63.30L83.73,59.91L76.90,55.29Z" fill="#a4d24a" /><path d="M79.39,63.30L86.31,69.16L90.62,65.73L83.73,59.91Z" fill="#86c95a" /><path d="M121.28,110.20L128.32,129.80L132.38,126.04L125.39,106.54Z" fill="#3e1262" /><path d="M54.32,50.45L61.21,56.36L65.66,53.01L58.81,47.13Z" fill="#f0e232" /><path d="M86.31,69.16L93.28,76.75L97.55,73.28L90.62,65.73Z" fill="#5cbd68" /><path d="M93.28,76.75L100.25,83.69L104.48,80.18L97.55,73.28Z" fill="#28a880" /><path d="M61.21,56.36L68.11,62.03L72.53,58.64L65.66,53.01Z" fill="#c4da3c" /><path d="M100.25,83.69L107.24,91.30L111.44,87.75L104.48,80.18Z" fill="#1a9a92" /><path d="M114.24,98.67L121.28,110.20L125.39,106.54L118.40,95.06Z" fill="#4668ac" /><path d="M107.24,91.30L114.24,98.67L118.40,95.06L111.44,87.75Z" fill="#1f8a9e" /><path d="M68.11,62.03L75.01,66.72L79.39,63.30L72.53,58.64Z" fill="#a4d24a" /><path d="M75.01,66.72L81.96,72.62L86.31,69.16L79.39,63.30Z" fill="#86c95a" /><path d="M117.11,113.91L124.22,133.61L128.32,129.80L121.28,110.20Z" fill="#3e1262" /><path d="M49.79,53.80L56.71,59.76L61.21,56.36L54.32,50.45Z" fill="#f0e232" /><path d="M81.96,72.62L88.96,80.26L93.28,76.75L86.31,69.16Z" fill="#5cbd68" /><path d="M88.96,80.26L95.97,87.24L100.25,83.69L93.28,76.75Z" fill="#28a880" /><path d="M56.71,59.76L63.64,65.46L68.11,62.03L61.21,56.36Z" fill="#c4da3c" /><path d="M95.97,87.24L103.00,94.90L107.24,91.30L100.25,83.69Z" fill="#1a9a92" /><path d="M110.03,102.31L117.11,113.91L121.28,110.20L114.24,98.67Z" fill="#4668ac" /><path d="M103.00,94.90L110.03,102.31L114.24,98.67L107.24,91.30Z" fill="#1f8a9e" /><path d="M63.64,65.46L70.57,70.18L75.01,66.72L68.11,62.03Z" fill="#a4d24a" /><path d="M70.57,70.18L77.55,76.12L81.96,72.62L75.01,66.72Z" fill="#86c95a" /><path d="M112.90,117.66L120.07,137.45L124.22,133.61L117.11,113.91Z" fill="#3e1262" /><path d="M77.55,76.12L84.60,83.81L88.96,80.26L81.96,72.62Z" fill="#5cbd68" /><path d="M84.60,83.81L91.64,90.84L95.97,87.24L88.96,80.26Z" fill="#28a880" /><path d="M91.64,90.84L98.70,98.54L103.00,94.90L95.97,87.24Z" fill="#1a9a92" /><path d="M105.78,106.00L112.90,117.66L117.11,113.91L110.03,102.31Z" fill="#4668ac" /><path d="M98.70,98.54L105.78,106.00L110.03,102.31L103.00,94.90Z" fill="#1f8a9e" /></g>
<path d="M40.40,139.97L157.66,178.60L219.46,114.51L222.70,29.47" fill="none" stroke="#111" stroke-width="0.8"/>
<path d="M48.09,142.51l-0.6,2.2M64.26,147.83l-0.6,2.2M80.68,153.24l-0.6,2.2M97.35,158.73l-0.6,2.2M114.29,164.31l-0.6,2.2M131.49,169.98l-0.6,2.2M148.96,175.73l-0.6,2.2M162.05,174.05l2.2,1.0M171.63,164.11l2.2,1.0M180.95,154.45l2.2,1.0M190.01,145.05l2.2,1.0M198.84,135.90l2.2,1.0M207.42,126.99l2.2,1.0M215.78,118.32l2.2,1.0M219.46,114.55l2.4,0.4M219.92,102.44l2.4,0.4M220.39,90.21l2.4,0.4M220.86,77.83l2.4,0.4M221.34,65.32l2.4,0.4M221.82,52.67l2.4,0.4M222.31,39.88l2.4,0.4" stroke="#111" stroke-width="0.8"/>
<g fill="#222"><text x="41" y="166.20000000000002" font-size="10.4" text-anchor="middle">0.0</text><text x="56.6" y="171.3" font-size="10.4" text-anchor="middle">0.5</text><text x="74" y="176.3" font-size="10.4" text-anchor="middle">1.0</text><text x="90.8" y="182.10000000000002" font-size="10.4" text-anchor="middle">1.5</text><text x="107.6" y="187.5" font-size="10.4" text-anchor="middle">2.0</text><text x="125" y="193.20000000000002" font-size="10.4" text-anchor="middle">2.5</text><text x="142.5" y="198.4" font-size="10.4" text-anchor="middle">3.0</text><text x="174" y="194.60000000000002" font-size="10.4" text-anchor="middle">0.0</text><text x="183.1" y="184.8" font-size="10.4" text-anchor="middle">0.5</text><text x="192.2" y="175.3" font-size="10.4" text-anchor="middle">1.0</text><text x="201.3" y="165.8" font-size="10.4" text-anchor="middle">1.5</text><text x="209.7" y="157.0" font-size="10.4" text-anchor="middle">2.0</text><text x="218.1" y="148.3" font-size="10.4" text-anchor="middle">2.5</text><text x="226.9" y="138.8" font-size="10.4" text-anchor="middle">3.0</text><text x="240.9" y="44.8" font-size="10.4" text-anchor="middle">20</text><text x="240" y="57.8" font-size="10.4" text-anchor="middle">18</text><text x="239.2" y="70.39999999999999" font-size="10.4" text-anchor="middle">16</text><text x="238.4" y="82.89999999999999" font-size="10.4" text-anchor="middle">14</text><text x="237.6" y="95.1" font-size="10.4" text-anchor="middle">12</text><text x="237" y="107.1" font-size="10.4" text-anchor="middle">10</text><text x="236.5" y="118.6" font-size="10.4" text-anchor="middle">8</text></g>
<text transform="translate(81.6,196.6) rotate(16.5)" font-size="16.8" text-anchor="middle" fill="#111">distance (nm)</text>
<text transform="translate(219.5,173) rotate(-45.5)" font-size="16.2" text-anchor="middle" fill="#111">distance (nm)</text>
<text transform="translate(262.2,67.7) rotate(-90)" font-size="16.2" text-anchor="middle" fill="#111">thickness (nm)</text>
<g clip-path="url(#eclip)">
<rect x="327.6" y="3.6" width="58.9" height="211.7" fill="#66522e"/>
<circle cx="339.87" cy="19.29" r="5.01" fill="url(#gB)" fill-opacity="1.00"/>
<circle cx="339.87" cy="28.89" r="5.01" fill="url(#gB)" fill-opacity="1.00"/>
<circle cx="339.87" cy="38.50" r="5.01" fill="url(#gB)" fill-opacity="1.00"/>
<circle cx="339.87" cy="48.10" r="5.01" fill="url(#gB)" fill-opacity="1.00"/>
<circle cx="339.87" cy="57.70" r="5.01" fill="url(#gB)" fill-opacity="1.00"/>
<circle cx="339.87" cy="67.31" r="5.01" fill="url(#gB)" fill-opacity="1.00"/>
<circle cx="339.87" cy="76.91" r="5.01" fill="url(#gB)" fill-opacity="1.00"/>
<circle cx="339.87" cy="86.51" r="5.01" fill="url(#gB)" fill-opacity="1.00"/>
<circle cx="339.87" cy="96.11" r="5.01" fill="url(#gB)" fill-opacity="1.00"/>
<circle cx="339.87" cy="105.72" r="5.01" fill="url(#gB)" fill-opacity="1.00"/>
<circle cx="339.87" cy="115.32" r="5.01" fill="url(#gB)" fill-opacity="1.00"/>
<circle cx="339.87" cy="124.92" r="5.01" fill="url(#gB)" fill-opacity="1.00"/>
<circle cx="339.87" cy="134.53" r="5.01" fill="url(#gB)" fill-opacity="1.00"/>
<circle cx="339.87" cy="144.13" r="5.01" fill="url(#gB)" fill-opacity="1.00"/>
<circle cx="339.87" cy="153.73" r="5.01" fill="url(#gB)" fill-opacity="1.00"/>
<circle cx="339.87" cy="163.34" r="5.01" fill="url(#gB)" fill-opacity="1.00"/>
<circle cx="339.87" cy="172.94" r="5.01" fill="url(#gB)" fill-opacity="1.00"/>
<circle cx="339.87" cy="182.54" r="5.01" fill="url(#gB)" fill-opacity="1.00"/>
<circle cx="339.87" cy="192.15" r="5.01" fill="url(#gB)" fill-opacity="1.00"/>
<circle cx="349.43" cy="19.29" r="5.01" fill="url(#gB)" fill-opacity="1.00"/>
<circle cx="349.43" cy="28.89" r="5.01" fill="url(#gB)" fill-opacity="1.00"/>
<circle cx="349.43" cy="38.50" r="5.01" fill="url(#gB)" fill-opacity="1.00"/>
<circle cx="349.43" cy="48.10" r="5.01" fill="url(#gB)" fill-opacity="1.00"/>
<circle cx="349.43" cy="57.70" r="5.01" fill="url(#gB)" fill-opacity="1.00"/>
<circle cx="349.43" cy="67.31" r="5.01" fill="url(#gB)" fill-opacity="1.00"/>
<circle cx="349.43" cy="76.91" r="5.01" fill="url(#gB)" fill-opacity="1.00"/>
<circle cx="349.43" cy="86.51" r="5.01" fill="url(#gB)" fill-opacity="1.00"/>
<circle cx="349.43" cy="96.11" r="5.01" fill="url(#gB)" fill-opacity="1.00"/>
<circle cx="349.43" cy="105.72" r="5.01" fill="url(#gB)" fill-opacity="1.00"/>
<circle cx="349.43" cy="115.32" r="5.01" fill="url(#gB)" fill-opacity="1.00"/>
<circle cx="349.43" cy="124.92" r="5.01" fill="url(#gB)" fill-opacity="1.00"/>
<circle cx="349.43" cy="134.53" r="5.01" fill="url(#gB)" fill-opacity="1.00"/>
<circle cx="349.43" cy="144.13" r="5.01" fill="url(#gB)" fill-opacity="1.00"/>
<circle cx="349.43" cy="153.73" r="5.01" fill="url(#gB)" fill-opacity="1.00"/>
<circle cx="349.43" cy="163.34" r="5.01" fill="url(#gB)" fill-opacity="1.00"/>
<circle cx="349.43" cy="172.94" r="5.01" fill="url(#gB)" fill-opacity="1.00"/>
<circle cx="349.43" cy="182.54" r="5.01" fill="url(#gB)" fill-opacity="1.00"/>
<circle cx="349.43" cy="192.15" r="5.01" fill="url(#gB)" fill-opacity="1.00"/>
<circle cx="358.99" cy="19.29" r="5.01" fill="url(#gB)" fill-opacity="1.00"/>
<circle cx="358.99" cy="28.89" r="5.01" fill="url(#gB)" fill-opacity="1.00"/>
<circle cx="358.99" cy="38.50" r="5.01" fill="url(#gB)" fill-opacity="1.00"/>
<circle cx="358.99" cy="48.10" r="5.01" fill="url(#gB)" fill-opacity="1.00"/>
<circle cx="358.99" cy="57.70" r="5.01" fill="url(#gB)" fill-opacity="1.00"/>
<circle cx="358.99" cy="67.31" r="5.01" fill="url(#gB)" fill-opacity="1.00"/>
<circle cx="358.99" cy="76.91" r="5.01" fill="url(#gB)" fill-opacity="1.00"/>
<circle cx="358.99" cy="86.51" r="5.01" fill="url(#gB)" fill-opacity="1.00"/>
<circle cx="358.99" cy="96.11" r="5.01" fill="url(#gB)" fill-opacity="1.00"/>
<circle cx="358.99" cy="105.72" r="5.01" fill="url(#gB)" fill-opacity="1.00"/>
<circle cx="358.99" cy="115.32" r="5.01" fill="url(#gB)" fill-opacity="1.00"/>
<circle cx="358.99" cy="124.92" r="5.01" fill="url(#gB)" fill-opacity="1.00"/>
<circle cx="358.99" cy="134.53" r="5.01" fill="url(#gB)" fill-opacity="1.00"/>
<circle cx="358.99" cy="144.13" r="5.01" fill="url(#gB)" fill-opacity="1.00"/>
<circle cx="358.99" cy="153.73" r="5.01" fill="url(#gB)" fill-opacity="1.00"/>
<circle cx="358.99" cy="163.34" r="5.01" fill="url(#gB)" fill-opacity="1.00"/>
<circle cx="358.99" cy="172.94" r="5.01" fill="url(#gB)" fill-opacity="1.00"/>
<circle cx="358.99" cy="182.54" r="5.01" fill="url(#gB)" fill-opacity="1.00"/>
<circle cx="358.99" cy="192.15" r="5.01" fill="url(#gB)" fill-opacity="1.00"/>
<circle cx="368.55" cy="19.29" r="5.01" fill="url(#gB)" fill-opacity="1.00"/>
<circle cx="368.55" cy="28.89" r="5.01" fill="url(#gB)" fill-opacity="1.00"/>
<circle cx="368.55" cy="38.50" r="5.01" fill="url(#gB)" fill-opacity="1.00"/>
<circle cx="368.55" cy="48.10" r="5.01" fill="url(#gB)" fill-opacity="1.00"/>
<circle cx="368.55" cy="57.70" r="5.01" fill="url(#gB)" fill-opacity="1.00"/>
<circle cx="368.55" cy="67.31" r="5.01" fill="url(#gB)" fill-opacity="1.00"/>
<circle cx="368.55" cy="76.91" r="5.01" fill="url(#gB)" fill-opacity="1.00"/>
<circle cx="368.55" cy="86.51" r="5.01" fill="url(#gB)" fill-opacity="1.00"/>
<circle cx="368.55" cy="96.11" r="5.01" fill="url(#gB)" fill-opacity="1.00"/>
<circle cx="368.55" cy="105.72" r="5.01" fill="url(#gB)" fill-opacity="1.00"/>
<circle cx="368.55" cy="115.32" r="5.01" fill="url(#gB)" fill-opacity="1.00"/>
<circle cx="368.55" cy="124.92" r="5.01" fill="url(#gB)" fill-opacity="1.00"/>
<circle cx="368.55" cy="134.53" r="5.01" fill="url(#gB)" fill-opacity="1.00"/>
<circle cx="368.55" cy="144.13" r="5.01" fill="url(#gB)" fill-opacity="1.00"/>
<circle cx="368.55" cy="153.73" r="5.01" fill="url(#gB)" fill-opacity="1.00"/>
<circle cx="368.55" cy="163.34" r="5.01" fill="url(#gB)" fill-opacity="1.00"/>
<circle cx="368.55" cy="172.94" r="5.01" fill="url(#gB)" fill-opacity="1.00"/>
<circle cx="368.55" cy="182.54" r="5.01" fill="url(#gB)" fill-opacity="1.00"/>
<circle cx="368.55" cy="192.15" r="5.01" fill="url(#gB)" fill-opacity="1.00"/>
<circle cx="378.11" cy="19.29" r="5.01" fill="url(#gB)" fill-opacity="1.00"/>
<circle cx="378.11" cy="28.89" r="5.01" fill="url(#gB)" fill-opacity="1.00"/>
<circle cx="378.11" cy="38.50" r="5.01" fill="url(#gB)" fill-opacity="1.00"/>
<circle cx="378.11" cy="48.10" r="5.01" fill="url(#gB)" fill-opacity="1.00"/>
<circle cx="378.11" cy="57.70" r="5.01" fill="url(#gB)" fill-opacity="1.00"/>
<circle cx="378.11" cy="67.31" r="5.01" fill="url(#gB)" fill-opacity="1.00"/>
<circle cx="378.11" cy="76.91" r="5.01" fill="url(#gB)" fill-opacity="1.00"/>
<circle cx="378.11" cy="86.51" r="5.01" fill="url(#gB)" fill-opacity="1.00"/>
<circle cx="378.11" cy="96.11" r="5.01" fill="url(#gB)" fill-opacity="1.00"/>
<circle cx="378.11" cy="105.72" r="5.01" fill="url(#gB)" fill-opacity="1.00"/>
<circle cx="378.11" cy="115.32" r="5.01" fill="url(#gB)" fill-opacity="1.00"/>
<circle cx="378.11" cy="124.92" r="5.01" fill="url(#gB)" fill-opacity="1.00"/>
<circle cx="378.11" cy="134.53" r="5.01" fill="url(#gB)" fill-opacity="1.00"/>
<circle cx="378.11" cy="144.13" r="5.01" fill="url(#gB)" fill-opacity="1.00"/>
<circle cx="378.11" cy="153.73" r="5.01" fill="url(#gB)" fill-opacity="1.00"/>
<circle cx="378.11" cy="163.34" r="5.01" fill="url(#gB)" fill-opacity="1.00"/>
<circle cx="378.11" cy="172.94" r="5.01" fill="url(#gB)" fill-opacity="1.00"/>
<circle cx="378.11" cy="182.54" r="5.01" fill="url(#gB)" fill-opacity="1.00"/>
<circle cx="378.11" cy="192.15" r="5.01" fill="url(#gB)" fill-opacity="1.00"/>
<circle cx="339.01" cy="16.75" r="5.03" fill="url(#gB)" fill-opacity="1.00"/>
<circle cx="339.01" cy="26.64" r="5.03" fill="url(#gB)" fill-opacity="1.00"/>
<circle cx="339.01" cy="36.52" r="5.03" fill="url(#gB)" fill-opacity="1.00"/>
<circle cx="339.01" cy="46.41" r="5.03" fill="url(#gB)" fill-opacity="1.00"/>
<circle cx="339.01" cy="56.29" r="5.03" fill="url(#gB)" fill-opacity="1.00"/>
<circle cx="339.01" cy="66.17" r="5.03" fill="url(#gB)" fill-opacity="1.00"/>
<circle cx="339.01" cy="76.06" r="5.03" fill="url(#gB)" fill-opacity="1.00"/>
<circle cx="339.01" cy="85.94" r="5.03" fill="url(#gB)" fill-opacity="1.00"/>
<circle cx="339.01" cy="95.83" r="5.03" fill="url(#gB)" fill-opacity="1.00"/>
<circle cx="339.01" cy="105.71" r="5.03" fill="url(#gB)" fill-opacity="1.00"/>
<circle cx="339.01" cy="115.59" r="5.03" fill="url(#gB)" fill-opacity="1.00"/>
<circle cx="339.01" cy="125.48" r="5.03" fill="url(#gB)" fill-opacity="1.00"/>
<circle cx="339.01" cy="135.36" r="5.03" fill="url(#gB)" fill-opacity="1.00"/>
<circle cx="339.01" cy="145.25" r="5.03" fill="url(#gB)" fill-opacity="1.00"/>
<circle cx="339.01" cy="155.13" r="5.03" fill="url(#gB)" fill-opacity="1.00"/>
<circle cx="339.01" cy="165.01" r="5.03" fill="url(#gB)" fill-opacity="1.00"/>
<circle cx="339.01" cy="174.90" r="5.03" fill="url(#gB)" fill-opacity="1.00"/>
<circle cx="339.01" cy="184.78" r="5.03" fill="url(#gB)" fill-opacity="1.00"/>
<circle cx="339.01" cy="194.67" r="5.03" fill="url(#gB)" fill-opacity="1.00"/>
<circle cx="348.86" cy="16.75" r="5.03" fill="url(#gB)" fill-opacity="1.00"/>
<circle cx="348.86" cy="26.64" r="5.03" fill="url(#gB)" fill-opacity="1.00"/>
<circle cx="348.86" cy="36.52" r="5.03" fill="url(#gB)" fill-opacity="1.00"/>
<circle cx="348.86" cy="46.41" r="5.03" fill="url(#gB)" fill-opacity="1.00"/>
<circle cx="348.86" cy="56.29" r="5.03" fill="url(#gB)" fill-opacity="1.00"/>
<circle cx="348.86" cy="66.17" r="5.03" fill="url(#gB)" fill-opacity="1.00"/>
<circle cx="348.86" cy="76.06" r="5.03" fill="url(#gB)" fill-opacity="1.00"/>
<circle cx="348.86" cy="85.94" r="5.03" fill="url(#gB)" fill-opacity="1.00"/>
<circle cx="348.86" cy="95.83" r="5.03" fill="url(#gB)" fill-opacity="1.00"/>
<circle cx="348.86" cy="105.71" r="5.03" fill="url(#gB)" fill-opacity="1.00"/>
<circle cx="348.86" cy="115.59" r="5.03" fill="url(#gB)" fill-opacity="1.00"/>
<circle cx="348.86" cy="125.48" r="5.03" fill="url(#gB)" fill-opacity="1.00"/>
<circle cx="348.86" cy="135.36" r="5.03" fill="url(#gB)" fill-opacity="1.00"/>
<circle cx="348.86" cy="145.25" r="5.03" fill="url(#gB)" fill-opacity="1.00"/>
<circle cx="348.86" cy="155.13" r="5.03" fill="url(#gB)" fill-opacity="1.00"/>
<circle cx="348.86" cy="165.01" r="5.03" fill="url(#gB)" fill-opacity="1.00"/>
<circle cx="348.86" cy="174.90" r="5.03" fill="url(#gB)" fill-opacity="1.00"/>
<circle cx="348.86" cy="184.78" r="5.03" fill="url(#gB)" fill-opacity="1.00"/>
<circle cx="348.86" cy="194.67" r="5.03" fill="url(#gB)" fill-opacity="1.00"/>
<circle cx="358.70" cy="16.75" r="5.03" fill="url(#gB)" fill-opacity="1.00"/>
<circle cx="358.70" cy="26.64" r="5.03" fill="url(#gB)" fill-opacity="1.00"/>
<circle cx="358.70" cy="36.52" r="5.03" fill="url(#gB)" fill-opacity="1.00"/>
<circle cx="358.70" cy="46.41" r="5.03" fill="url(#gB)" fill-opacity="1.00"/>
<circle cx="358.70" cy="56.29" r="5.03" fill="url(#gB)" fill-opacity="1.00"/>
<circle cx="358.70" cy="66.17" r="5.03" fill="url(#gB)" fill-opacity="1.00"/>
<circle cx="358.70" cy="76.06" r="5.03" fill="url(#gB)" fill-opacity="1.00"/>
<circle cx="358.70" cy="85.94" r="5.03" fill="url(#gB)" fill-opacity="1.00"/>
<circle cx="358.70" cy="95.83" r="5.03" fill="url(#gB)" fill-opacity="1.00"/>
<circle cx="358.70" cy="105.71" r="5.03" fill="url(#gB)" fill-opacity="1.00"/>
<circle cx="358.70" cy="115.59" r="5.03" fill="url(#gB)" fill-opacity="1.00"/>
<circle cx="358.70" cy="125.48" r="5.03" fill="url(#gB)" fill-opacity="1.00"/>
<circle cx="358.70" cy="135.36" r="5.03" fill="url(#gB)" fill-opacity="1.00"/>
<circle cx="358.70" cy="145.25" r="5.03" fill="url(#gB)" fill-opacity="1.00"/>
<circle cx="358.70" cy="155.13" r="5.03" fill="url(#gB)" fill-opacity="1.00"/>
<circle cx="358.70" cy="165.01" r="5.03" fill="url(#gB)" fill-opacity="1.00"/>
<circle cx="358.70" cy="174.90" r="5.03" fill="url(#gB)" fill-opacity="1.00"/>
<circle cx="358.70" cy="184.78" r="5.03" fill="url(#gB)" fill-opacity="1.00"/>
<circle cx="358.70" cy="194.67" r="5.03" fill="url(#gB)" fill-opacity="1.00"/>
<circle cx="368.54" cy="16.75" r="5.03" fill="url(#gB)" fill-opacity="1.00"/>
<circle cx="368.54" cy="26.64" r="5.03" fill="url(#gB)" fill-opacity="1.00"/>
<circle cx="368.54" cy="36.52" r="5.03" fill="url(#gB)" fill-opacity="1.00"/>
<circle cx="368.54" cy="46.41" r="5.03" fill="url(#gB)" fill-opacity="1.00"/>
<circle cx="368.54" cy="56.29" r="5.03" fill="url(#gB)" fill-opacity="1.00"/>
<circle cx="368.54" cy="66.17" r="5.03" fill="url(#gB)" fill-opacity="1.00"/>
<circle cx="368.54" cy="76.06" r="5.03" fill="url(#gB)" fill-opacity="1.00"/>
<circle cx="368.54" cy="85.94" r="5.03" fill="url(#gB)" fill-opacity="1.00"/>
<circle cx="368.54" cy="95.83" r="5.03" fill="url(#gB)" fill-opacity="1.00"/>
<circle cx="368.54" cy="105.71" r="5.03" fill="url(#gB)" fill-opacity="1.00"/>
<circle cx="368.54" cy="115.59" r="5.03" fill="url(#gB)" fill-opacity="1.00"/>
<circle cx="368.54" cy="125.48" r="5.03" fill="url(#gB)" fill-opacity="1.00"/>
<circle cx="368.54" cy="135.36" r="5.03" fill="url(#gB)" fill-opacity="1.00"/>
<circle cx="368.54" cy="145.25" r="5.03" fill="url(#gB)" fill-opacity="1.00"/>
<circle cx="368.54" cy="155.13" r="5.03" fill="url(#gB)" fill-opacity="1.00"/>
<circle cx="368.54" cy="165.01" r="5.03" fill="url(#gB)" fill-opacity="1.00"/>
<circle cx="368.54" cy="174.90" r="5.03" fill="url(#gB)" fill-opacity="1.00"/>
<circle cx="368.54" cy="184.78" r="5.03" fill="url(#gB)" fill-opacity="1.00"/>
<circle cx="368.54" cy="194.67" r="5.03" fill="url(#gB)" fill-opacity="1.00"/>
<circle cx="378.38" cy="16.75" r="5.03" fill="url(#gB)" fill-opacity="1.00"/>
<circle cx="378.38" cy="26.64" r="5.03" fill="url(#gB)" fill-opacity="1.00"/>
<circle cx="378.38" cy="36.52" r="5.03" fill="url(#gB)" fill-opacity="1.00"/>
<circle cx="378.38" cy="46.41" r="5.03" fill="url(#gB)" fill-opacity="1.00"/>
<circle cx="378.38" cy="56.29" r="5.03" fill="url(#gB)" fill-opacity="1.00"/>
<circle cx="378.38" cy="66.17" r="5.03" fill="url(#gB)" fill-opacity="1.00"/>
<circle cx="378.38" cy="76.06" r="5.03" fill="url(#gB)" fill-opacity="1.00"/>
<circle cx="378.38" cy="85.94" r="5.03" fill="url(#gB)" fill-opacity="1.00"/>
<circle cx="378.38" cy="95.83" r="5.03" fill="url(#gB)" fill-opacity="1.00"/>
<circle cx="378.38" cy="105.71" r="5.03" fill="url(#gB)" fill-opacity="1.00"/>
<circle cx="378.38" cy="115.59" r="5.03" fill="url(#gB)" fill-opacity="1.00"/>
<circle cx="378.38" cy="125.48" r="5.03" fill="url(#gB)" fill-opacity="1.00"/>
<circle cx="378.38" cy="135.36" r="5.03" fill="url(#gB)" fill-opacity="1.00"/>
<circle cx="378.38" cy="145.25" r="5.03" fill="url(#gB)" fill-opacity="1.00"/>
<circle cx="378.38" cy="155.13" r="5.03" fill="url(#gB)" fill-opacity="1.00"/>
<circle cx="378.38" cy="165.01" r="5.03" fill="url(#gB)" fill-opacity="1.00"/>
<circle cx="378.38" cy="174.90" r="5.03" fill="url(#gB)" fill-opacity="1.00"/>
<circle cx="378.38" cy="184.78" r="5.03" fill="url(#gB)" fill-opacity="1.00"/>
<circle cx="378.38" cy="194.67" r="5.03" fill="url(#gB)" fill-opacity="1.00"/>
<circle cx="338.16" cy="14.22" r="5.04" fill="url(#gB)" fill-opacity="1.00"/>
<circle cx="338.16" cy="24.38" r="5.04" fill="url(#gB)" fill-opacity="1.00"/>
<circle cx="338.16" cy="34.55" r="5.04" fill="url(#gB)" fill-opacity="1.00"/>
<circle cx="338.16" cy="44.71" r="5.04" fill="url(#gB)" fill-opacity="1.00"/>
<circle cx="338.16" cy="54.88" r="5.04" fill="url(#gB)" fill-opacity="1.00"/>
<circle cx="338.16" cy="65.04" r="5.04" fill="url(#gB)" fill-opacity="1.00"/>
<circle cx="338.16" cy="75.21" r="5.04" fill="url(#gB)" fill-opacity="1.00"/>
<circle cx="338.16" cy="85.37" r="5.04" fill="url(#gB)" fill-opacity="1.00"/>
<circle cx="338.16" cy="95.54" r="5.04" fill="url(#gB)" fill-opacity="1.00"/>
<circle cx="338.16" cy="105.70" r="5.04" fill="url(#gB)" fill-opacity="1.00"/>
<circle cx="338.16" cy="115.87" r="5.04" fill="url(#gB)" fill-opacity="1.00"/>
<circle cx="338.16" cy="126.03" r="5.04" fill="url(#gB)" fill-opacity="1.00"/>
<circle cx="338.16" cy="136.20" r="5.04" fill="url(#gB)" fill-opacity="1.00"/>
<circle cx="338.16" cy="146.36" r="5.04" fill="url(#gB)" fill-opacity="1.00"/>
<circle cx="338.16" cy="156.53" r="5.04" fill="url(#gB)" fill-opacity="1.00"/>
<circle cx="338.16" cy="166.69" r="5.04" fill="url(#gB)" fill-opacity="1.00"/>
<circle cx="338.16" cy="176.86" r="5.04" fill="url(#gB)" fill-opacity="1.00"/>
<circle cx="338.16" cy="187.02" r="5.04" fill="url(#gB)" fill-opacity="1.00"/>
<circle cx="338.16" cy="197.19" r="5.04" fill="url(#gB)" fill-opacity="1.00"/>
<circle cx="348.28" cy="14.22" r="5.04" fill="url(#gB)" fill-opacity="1.00"/>
<circle cx="348.28" cy="24.38" r="5.04" fill="url(#gB)" fill-opacity="1.00"/>
<circle cx="348.28" cy="34.55" r="5.04" fill="url(#gB)" fill-opacity="1.00"/>
<circle cx="348.28" cy="44.71" r="5.04" fill="url(#gB)" fill-opacity="1.00"/>
<circle cx="348.28" cy="54.88" r="5.04" fill="url(#gB)" fill-opacity="1.00"/>
<circle cx="348.28" cy="65.04" r="5.04" fill="url(#gB)" fill-opacity="1.00"/>
<circle cx="348.28" cy="75.21" r="5.04" fill="url(#gB)" fill-opacity="1.00"/>
<circle cx="348.28" cy="85.37" r="5.04" fill="url(#gB)" fill-opacity="1.00"/>
<circle cx="348.28" cy="95.54" r="5.04" fill="url(#gB)" fill-opacity="1.00"/>
<circle cx="348.28" cy="105.70" r="5.04" fill="url(#gB)" fill-opacity="1.00"/>
<circle cx="348.28" cy="115.87" r="5.04" fill="url(#gB)" fill-opacity="1.00"/>
<circle cx="348.28" cy="126.03" r="5.04" fill="url(#gB)" fill-opacity="1.00"/>
<circle cx="348.28" cy="136.20" r="5.04" fill="url(#gB)" fill-opacity="1.00"/>
<circle cx="348.28" cy="146.36" r="5.04" fill="url(#gB)" fill-opacity="1.00"/>
<circle cx="348.28" cy="156.53" r="5.04" fill="url(#gB)" fill-opacity="1.00"/>
<circle cx="348.28" cy="166.69" r="5.04" fill="url(#gB)" fill-opacity="1.00"/>
<circle cx="348.28" cy="176.86" r="5.04" fill="url(#gB)" fill-opacity="1.00"/>
<circle cx="348.28" cy="187.02" r="5.04" fill="url(#gB)" fill-opacity="1.00"/>
<circle cx="348.28" cy="197.19" r="5.04" fill="url(#gB)" fill-opacity="1.00"/>
<circle cx="358.40" cy="14.22" r="5.04" fill="url(#gB)" fill-opacity="1.00"/>
<circle cx="358.40" cy="24.38" r="5.04" fill="url(#gB)" fill-opacity="1.00"/>
<circle cx="358.40" cy="34.55" r="5.04" fill="url(#gB)" fill-opacity="1.00"/>
<circle cx="358.40" cy="44.71" r="5.04" fill="url(#gB)" fill-opacity="1.00"/>
<circle cx="358.40" cy="54.88" r="5.04" fill="url(#gB)" fill-opacity="1.00"/>
<circle cx="358.40" cy="65.04" r="5.04" fill="url(#gB)" fill-opacity="1.00"/>
<circle cx="358.40" cy="75.21" r="5.04" fill="url(#gB)" fill-opacity="1.00"/>
<circle cx="358.40" cy="85.37" r="5.04" fill="url(#gB)" fill-opacity="1.00"/>
<circle cx="358.40" cy="95.54" r="5.04" fill="url(#gB)" fill-opacity="1.00"/>
<circle cx="358.40" cy="105.70" r="5.04" fill="url(#gB)" fill-opacity="1.00"/>
<circle cx="358.40" cy="115.87" r="5.04" fill="url(#gB)" fill-opacity="1.00"/>
<circle cx="358.40" cy="126.03" r="5.04" fill="url(#gB)" fill-opacity="1.00"/>
<circle cx="358.40" cy="136.20" r="5.04" fill="url(#gB)" fill-opacity="1.00"/>
<circle cx="358.40" cy="146.36" r="5.04" fill="url(#gB)" fill-opacity="1.00"/>
<circle cx="358.40" cy="156.53" r="5.04" fill="url(#gB)" fill-opacity="1.00"/>
<circle cx="358.40" cy="166.69" r="5.04" fill="url(#gB)" fill-opacity="1.00"/>
<circle cx="358.40" cy="176.86" r="5.04" fill="url(#gB)" fill-opacity="1.00"/>
<circle cx="358.40" cy="187.02" r="5.04" fill="url(#gB)" fill-opacity="1.00"/>
<circle cx="358.40" cy="197.19" r="5.04" fill="url(#gB)" fill-opacity="1.00"/>
<circle cx="368.53" cy="14.22" r="5.04" fill="url(#gB)" fill-opacity="1.00"/>
<circle cx="368.53" cy="24.38" r="5.04" fill="url(#gB)" fill-opacity="1.00"/>
<circle cx="368.53" cy="34.55" r="5.04" fill="url(#gB)" fill-opacity="1.00"/>
<circle cx="368.53" cy="44.71" r="5.04" fill="url(#gB)" fill-opacity="1.00"/>
<circle cx="368.53" cy="54.88" r="5.04" fill="url(#gB)" fill-opacity="1.00"/>
<circle cx="368.53" cy="65.04" r="5.04" fill="url(#gB)" fill-opacity="1.00"/>
<circle cx="368.53" cy="75.21" r="5.04" fill="url(#gB)" fill-opacity="1.00"/>
<circle cx="368.53" cy="85.37" r="5.04" fill="url(#gB)" fill-opacity="1.00"/>
<circle cx="368.53" cy="95.54" r="5.04" fill="url(#gB)" fill-opacity="1.00"/>
<circle cx="368.53" cy="105.70" r="5.04" fill="url(#gB)" fill-opacity="1.00"/>
<circle cx="368.53" cy="115.87" r="5.04" fill="url(#gB)" fill-opacity="1.00"/>
<circle cx="368.53" cy="126.03" r="5.04" fill="url(#gB)" fill-opacity="1.00"/>
<circle cx="368.53" cy="136.20" r="5.04" fill="url(#gB)" fill-opacity="1.00"/>
<circle cx="368.53" cy="146.36" r="5.04" fill="url(#gB)" fill-opacity="1.00"/>
<circle cx="368.53" cy="156.53" r="5.04" fill="url(#gB)" fill-opacity="1.00"/>
<circle cx="368.53" cy="166.69" r="5.04" fill="url(#gB)" fill-opacity="1.00"/>
<circle cx="368.53" cy="176.86" r="5.04" fill="url(#gB)" fill-opacity="1.00"/>
<circle cx="368.53" cy="187.02" r="5.04" fill="url(#gB)" fill-opacity="1.00"/>
<circle cx="368.53" cy="197.19" r="5.04" fill="url(#gB)" fill-opacity="1.00"/>
<circle cx="378.65" cy="14.22" r="5.04" fill="url(#gB)" fill-opacity="1.00"/>
<circle cx="378.65" cy="24.38" r="5.04" fill="url(#gB)" fill-opacity="1.00"/>
<circle cx="378.65" cy="34.55" r="5.04" fill="url(#gB)" fill-opacity="1.00"/>
<circle cx="378.65" cy="44.71" r="5.04" fill="url(#gB)" fill-opacity="1.00"/>
<circle cx="378.65" cy="54.88" r="5.04" fill="url(#gB)" fill-opacity="1.00"/>
<circle cx="378.65" cy="65.04" r="5.04" fill="url(#gB)" fill-opacity="1.00"/>
<circle cx="378.65" cy="75.21" r="5.04" fill="url(#gB)" fill-opacity="1.00"/>
<circle cx="378.65" cy="85.37" r="5.04" fill="url(#gB)" fill-opacity="1.00"/>
<circle cx="378.65" cy="95.54" r="5.04" fill="url(#gB)" fill-opacity="1.00"/>
<circle cx="378.65" cy="105.70" r="5.04" fill="url(#gB)" fill-opacity="1.00"/>
<circle cx="378.65" cy="115.87" r="5.04" fill="url(#gB)" fill-opacity="1.00"/>
<circle cx="378.65" cy="126.03" r="5.04" fill="url(#gB)" fill-opacity="1.00"/>
<circle cx="378.65" cy="136.20" r="5.04" fill="url(#gB)" fill-opacity="1.00"/>
<circle cx="378.65" cy="146.36" r="5.04" fill="url(#gB)" fill-opacity="1.00"/>
<circle cx="378.65" cy="156.53" r="5.04" fill="url(#gB)" fill-opacity="1.00"/>
<circle cx="378.65" cy="166.69" r="5.04" fill="url(#gB)" fill-opacity="1.00"/>
<circle cx="378.65" cy="176.86" r="5.04" fill="url(#gB)" fill-opacity="1.00"/>
<circle cx="378.65" cy="187.02" r="5.04" fill="url(#gB)" fill-opacity="1.00"/>
<circle cx="378.65" cy="197.19" r="5.04" fill="url(#gB)" fill-opacity="1.00"/>
<circle cx="337.31" cy="11.68" r="5.05" fill="url(#gB)" fill-opacity="1.00"/>
<circle cx="337.31" cy="22.12" r="5.05" fill="url(#gB)" fill-opacity="1.00"/>
<circle cx="337.31" cy="32.57" r="5.05" fill="url(#gB)" fill-opacity="1.00"/>
<circle cx="337.31" cy="43.02" r="5.05" fill="url(#gB)" fill-opacity="1.00"/>
<circle cx="337.31" cy="53.46" r="5.05" fill="url(#gB)" fill-opacity="1.00"/>
<circle cx="337.31" cy="63.91" r="5.05" fill="url(#gB)" fill-opacity="1.00"/>
<circle cx="337.31" cy="74.35" r="5.05" fill="url(#gB)" fill-opacity="1.00"/>
<circle cx="337.31" cy="84.80" r="5.05" fill="url(#gB)" fill-opacity="1.00"/>
<circle cx="337.31" cy="95.25" r="5.05" fill="url(#gB)" fill-opacity="1.00"/>
<circle cx="337.31" cy="105.69" r="5.05" fill="url(#gB)" fill-opacity="1.00"/>
<circle cx="337.31" cy="116.14" r="5.05" fill="url(#gB)" fill-opacity="1.00"/>
<circle cx="337.31" cy="126.59" r="5.05" fill="url(#gB)" fill-opacity="1.00"/>
<circle cx="337.31" cy="137.03" r="5.05" fill="url(#gB)" fill-opacity="1.00"/>
<circle cx="337.31" cy="147.48" r="5.05" fill="url(#gB)" fill-opacity="1.00"/>
<circle cx="337.31" cy="157.92" r="5.05" fill="url(#gB)" fill-opacity="1.00"/>
<circle cx="337.31" cy="168.37" r="5.05" fill="url(#gB)" fill-opacity="1.00"/>
<circle cx="337.31" cy="178.82" r="5.05" fill="url(#gB)" fill-opacity="1.00"/>
<circle cx="337.31" cy="189.26" r="5.05" fill="url(#gB)" fill-opacity="1.00"/>
<circle cx="337.31" cy="199.71" r="5.05" fill="url(#gB)" fill-opacity="1.00"/>
<circle cx="347.71" cy="11.68" r="5.05" fill="url(#gB)" fill-opacity="1.00"/>
<circle cx="347.71" cy="22.12" r="5.05" fill="url(#gB)" fill-opacity="1.00"/>
<circle cx="347.71" cy="32.57" r="5.05" fill="url(#gB)" fill-opacity="1.00"/>
<circle cx="347.71" cy="43.02" r="5.05" fill="url(#gB)" fill-opacity="1.00"/>
<circle cx="347.71" cy="53.46" r="5.05" fill="url(#gB)" fill-opacity="1.00"/>
<circle cx="347.71" cy="63.91" r="5.05" fill="url(#gB)" fill-opacity="1.00"/>
<circle cx="347.71" cy="74.35" r="5.05" fill="url(#gB)" fill-opacity="1.00"/>
<circle cx="347.71" cy="84.80" r="5.05" fill="url(#gB)" fill-opacity="1.00"/>
<circle cx="347.71" cy="95.25" r="5.05" fill="url(#gB)" fill-opacity="1.00"/>
<circle cx="347.71" cy="105.69" r="5.05" fill="url(#gB)" fill-opacity="1.00"/>
<circle cx="347.71" cy="116.14" r="5.05" fill="url(#gB)" fill-opacity="1.00"/>
<circle cx="347.71" cy="126.59" r="5.05" fill="url(#gB)" fill-opacity="1.00"/>
<circle cx="347.71" cy="137.03" r="5.05" fill="url(#gB)" fill-opacity="1.00"/>
<circle cx="347.71" cy="147.48" r="5.05" fill="url(#gB)" fill-opacity="1.00"/>
<circle cx="347.71" cy="157.92" r="5.05" fill="url(#gB)" fill-opacity="1.00"/>
<circle cx="347.71" cy="168.37" r="5.05" fill="url(#gB)" fill-opacity="1.00"/>
<circle cx="347.71" cy="178.82" r="5.05" fill="url(#gB)" fill-opacity="1.00"/>
<circle cx="347.71" cy="189.26" r="5.05" fill="url(#gB)" fill-opacity="1.00"/>
<circle cx="347.71" cy="199.71" r="5.05" fill="url(#gB)" fill-opacity="1.00"/>
<circle cx="358.11" cy="11.68" r="5.05" fill="url(#gB)" fill-opacity="1.00"/>
<circle cx="358.11" cy="22.12" r="5.05" fill="url(#gB)" fill-opacity="1.00"/>
<circle cx="358.11" cy="32.57" r="5.05" fill="url(#gB)" fill-opacity="1.00"/>
<circle cx="358.11" cy="43.02" r="5.05" fill="url(#gB)" fill-opacity="1.00"/>
<circle cx="358.11" cy="53.46" r="5.05" fill="url(#gB)" fill-opacity="1.00"/>
<circle cx="358.11" cy="63.91" r="5.05" fill="url(#gB)" fill-opacity="1.00"/>
<circle cx="358.11" cy="74.35" r="5.05" fill="url(#gB)" fill-opacity="1.00"/>
<circle cx="358.11" cy="84.80" r="5.05" fill="url(#gB)" fill-opacity="1.00"/>
<circle cx="358.11" cy="95.25" r="5.05" fill="url(#gB)" fill-opacity="1.00"/>
<circle cx="358.11" cy="105.69" r="5.05" fill="url(#gB)" fill-opacity="1.00"/>
<circle cx="358.11" cy="116.14" r="5.05" fill="url(#gB)" fill-opacity="1.00"/>
<circle cx="358.11" cy="126.59" r="5.05" fill="url(#gB)" fill-opacity="1.00"/>
<circle cx="358.11" cy="137.03" r="5.05" fill="url(#gB)" fill-opacity="1.00"/>
<circle cx="358.11" cy="147.48" r="5.05" fill="url(#gB)" fill-opacity="1.00"/>
<circle cx="358.11" cy="157.92" r="5.05" fill="url(#gB)" fill-opacity="1.00"/>
<circle cx="358.11" cy="168.37" r="5.05" fill="url(#gB)" fill-opacity="1.00"/>
<circle cx="358.11" cy="178.82" r="5.05" fill="url(#gB)" fill-opacity="1.00"/>
<circle cx="358.11" cy="189.26" r="5.05" fill="url(#gB)" fill-opacity="1.00"/>
<circle cx="358.11" cy="199.71" r="5.05" fill="url(#gB)" fill-opacity="1.00"/>
<circle cx="368.51" cy="11.68" r="5.05" fill="url(#gB)" fill-opacity="1.00"/>
<circle cx="368.51" cy="22.12" r="5.05" fill="url(#gB)" fill-opacity="1.00"/>
<circle cx="368.51" cy="32.57" r="5.05" fill="url(#gB)" fill-opacity="1.00"/>
<circle cx="368.51" cy="43.02" r="5.05" fill="url(#gB)" fill-opacity="1.00"/>
<circle cx="368.51" cy="53.46" r="5.05" fill="url(#gB)" fill-opacity="1.00"/>
<circle cx="368.51" cy="63.91" r="5.05" fill="url(#gB)" fill-opacity="1.00"/>
<circle cx="368.51" cy="74.35" r="5.05" fill="url(#gB)" fill-opacity="1.00"/>
<circle cx="368.51" cy="84.80" r="5.05" fill="url(#gB)" fill-opacity="1.00"/>
<circle cx="368.51" cy="95.25" r="5.05" fill="url(#gB)" fill-opacity="1.00"/>
<circle cx="368.51" cy="105.69" r="5.05" fill="url(#gB)" fill-opacity="1.00"/>
<circle cx="368.51" cy="116.14" r="5.05" fill="url(#gB)" fill-opacity="1.00"/>
<circle cx="368.51" cy="126.59" r="5.05" fill="url(#gB)" fill-opacity="1.00"/>
<circle cx="368.51" cy="137.03" r="5.05" fill="url(#gB)" fill-opacity="1.00"/>
<circle cx="368.51" cy="147.48" r="5.05" fill="url(#gB)" fill-opacity="1.00"/>
<circle cx="368.51" cy="157.92" r="5.05" fill="url(#gB)" fill-opacity="1.00"/>
<circle cx="368.51" cy="168.37" r="5.05" fill="url(#gB)" fill-opacity="1.00"/>
<circle cx="368.51" cy="178.82" r="5.05" fill="url(#gB)" fill-opacity="1.00"/>
<circle cx="368.51" cy="189.26" r="5.05" fill="url(#gB)" fill-opacity="1.00"/>
<circle cx="368.51" cy="199.71" r="5.05" fill="url(#gB)" fill-opacity="1.00"/>
<circle cx="378.91" cy="11.68" r="5.05" fill="url(#gB)" fill-opacity="1.00"/>
<circle cx="378.91" cy="22.12" r="5.05" fill="url(#gB)" fill-opacity="1.00"/>
<circle cx="378.91" cy="32.57" r="5.05" fill="url(#gB)" fill-opacity="1.00"/>
<circle cx="378.91" cy="43.02" r="5.05" fill="url(#gB)" fill-opacity="1.00"/>
<circle cx="378.91" cy="53.46" r="5.05" fill="url(#gB)" fill-opacity="1.00"/>
<circle cx="378.91" cy="63.91" r="5.05" fill="url(#gB)" fill-opacity="1.00"/>
<circle cx="378.91" cy="74.35" r="5.05" fill="url(#gB)" fill-opacity="1.00"/>
<circle cx="378.91" cy="84.80" r="5.05" fill="url(#gB)" fill-opacity="1.00"/>
<circle cx="378.91" cy="95.25" r="5.05" fill="url(#gB)" fill-opacity="1.00"/>
<circle cx="378.91" cy="105.69" r="5.05" fill="url(#gB)" fill-opacity="1.00"/>
<circle cx="378.91" cy="116.14" r="5.05" fill="url(#gB)" fill-opacity="1.00"/>
<circle cx="378.91" cy="126.59" r="5.05" fill="url(#gB)" fill-opacity="1.00"/>
<circle cx="378.91" cy="137.03" r="5.05" fill="url(#gB)" fill-opacity="1.00"/>
<circle cx="378.91" cy="147.48" r="5.05" fill="url(#gB)" fill-opacity="1.00"/>
<circle cx="378.91" cy="157.92" r="5.05" fill="url(#gB)" fill-opacity="1.00"/>
<circle cx="378.91" cy="168.37" r="5.05" fill="url(#gB)" fill-opacity="1.00"/>
<circle cx="378.91" cy="178.82" r="5.05" fill="url(#gB)" fill-opacity="1.00"/>
<circle cx="378.91" cy="189.26" r="5.05" fill="url(#gB)" fill-opacity="1.00"/>
<circle cx="378.91" cy="199.71" r="5.05" fill="url(#gB)" fill-opacity="1.00"/>
<circle cx="336.46" cy="9.14" r="5.06" fill="url(#gB)" fill-opacity="1.00"/>
<circle cx="336.46" cy="19.87" r="5.06" fill="url(#gB)" fill-opacity="1.00"/>
<circle cx="336.46" cy="30.60" r="5.06" fill="url(#gB)" fill-opacity="1.00"/>
<circle cx="336.46" cy="41.32" r="5.06" fill="url(#gB)" fill-opacity="1.00"/>
<circle cx="336.46" cy="52.05" r="5.06" fill="url(#gB)" fill-opacity="1.00"/>
<circle cx="336.46" cy="62.78" r="5.06" fill="url(#gB)" fill-opacity="1.00"/>
<circle cx="336.46" cy="73.50" r="5.06" fill="url(#gB)" fill-opacity="1.00"/>
<circle cx="336.46" cy="84.23" r="5.06" fill="url(#gB)" fill-opacity="1.00"/>
<circle cx="336.46" cy="94.96" r="5.06" fill="url(#gB)" fill-opacity="1.00"/>
<circle cx="336.46" cy="105.68" r="5.06" fill="url(#gB)" fill-opacity="1.00"/>
<circle cx="336.46" cy="116.41" r="5.06" fill="url(#gB)" fill-opacity="1.00"/>
<circle cx="336.46" cy="127.14" r="5.06" fill="url(#gB)" fill-opacity="1.00"/>
<circle cx="336.46" cy="137.87" r="5.06" fill="url(#gB)" fill-opacity="1.00"/>
<circle cx="336.46" cy="148.59" r="5.06" fill="url(#gB)" fill-opacity="1.00"/>
<circle cx="336.46" cy="159.32" r="5.06" fill="url(#gB)" fill-opacity="1.00"/>
<circle cx="336.46" cy="170.05" r="5.06" fill="url(#gB)" fill-opacity="1.00"/>
<circle cx="336.46" cy="180.77" r="5.06" fill="url(#gB)" fill-opacity="1.00"/>
<circle cx="336.46" cy="191.50" r="5.06" fill="url(#gB)" fill-opacity="1.00"/>
<circle cx="336.46" cy="202.23" r="5.06" fill="url(#gB)" fill-opacity="1.00"/>
<circle cx="347.14" cy="9.14" r="5.06" fill="url(#gB)" fill-opacity="1.00"/>
<circle cx="347.14" cy="19.87" r="5.06" fill="url(#gB)" fill-opacity="1.00"/>
<circle cx="347.14" cy="30.60" r="5.06" fill="url(#gB)" fill-opacity="1.00"/>
<circle cx="347.14" cy="41.32" r="5.06" fill="url(#gB)" fill-opacity="1.00"/>
<circle cx="347.14" cy="52.05" r="5.06" fill="url(#gB)" fill-opacity="1.00"/>
<circle cx="347.14" cy="62.78" r="5.06" fill="url(#gB)" fill-opacity="1.00"/>
<circle cx="347.14" cy="73.50" r="5.06" fill="url(#gB)" fill-opacity="1.00"/>
<circle cx="347.14" cy="84.23" r="5.06" fill="url(#gB)" fill-opacity="1.00"/>
<circle cx="347.14" cy="94.96" r="5.06" fill="url(#gB)" fill-opacity="1.00"/>
<circle cx="347.14" cy="105.68" r="5.06" fill="url(#gB)" fill-opacity="1.00"/>
<circle cx="347.14" cy="116.41" r="5.06" fill="url(#gB)" fill-opacity="1.00"/>
<circle cx="347.14" cy="127.14" r="5.06" fill="url(#gB)" fill-opacity="1.00"/>
<circle cx="347.14" cy="137.87" r="5.06" fill="url(#gB)" fill-opacity="1.00"/>
<circle cx="347.14" cy="148.59" r="5.06" fill="url(#gB)" fill-opacity="1.00"/>
<circle cx="347.14" cy="159.32" r="5.06" fill="url(#gB)" fill-opacity="1.00"/>
<circle cx="347.14" cy="170.05" r="5.06" fill="url(#gB)" fill-opacity="1.00"/>
<circle cx="347.14" cy="180.77" r="5.06" fill="url(#gB)" fill-opacity="1.00"/>
<circle cx="347.14" cy="191.50" r="5.06" fill="url(#gB)" fill-opacity="1.00"/>
<circle cx="347.14" cy="202.23" r="5.06" fill="url(#gB)" fill-opacity="1.00"/>
<circle cx="357.82" cy="9.14" r="5.06" fill="url(#gB)" fill-opacity="1.00"/>
<circle cx="357.82" cy="19.87" r="5.06" fill="url(#gB)" fill-opacity="1.00"/>
<circle cx="357.82" cy="30.60" r="5.06" fill="url(#gB)" fill-opacity="1.00"/>
<circle cx="357.82" cy="41.32" r="5.06" fill="url(#gB)" fill-opacity="1.00"/>
<circle cx="357.82" cy="52.05" r="5.06" fill="url(#gB)" fill-opacity="1.00"/>
<circle cx="357.82" cy="62.78" r="5.06" fill="url(#gB)" fill-opacity="1.00"/>
<circle cx="357.82" cy="73.50" r="5.06" fill="url(#gB)" fill-opacity="1.00"/>
<circle cx="357.82" cy="84.23" r="5.06" fill="url(#gB)" fill-opacity="1.00"/>
<circle cx="357.82" cy="94.96" r="5.06" fill="url(#gB)" fill-opacity="1.00"/>
<circle cx="357.82" cy="105.68" r="5.06" fill="url(#gB)" fill-opacity="1.00"/>
<circle cx="357.82" cy="116.41" r="5.06" fill="url(#gB)" fill-opacity="1.00"/>
<circle cx="357.82" cy="127.14" r="5.06" fill="url(#gB)" fill-opacity="1.00"/>
<circle cx="357.82" cy="137.87" r="5.06" fill="url(#gB)" fill-opacity="1.00"/>
<circle cx="357.82" cy="148.59" r="5.06" fill="url(#gB)" fill-opacity="1.00"/>
<circle cx="357.82" cy="159.32" r="5.06" fill="url(#gB)" fill-opacity="1.00"/>
<circle cx="357.82" cy="170.05" r="5.06" fill="url(#gB)" fill-opacity="1.00"/>
<circle cx="357.82" cy="180.77" r="5.06" fill="url(#gB)" fill-opacity="1.00"/>
<circle cx="357.82" cy="191.50" r="5.06" fill="url(#gB)" fill-opacity="1.00"/>
<circle cx="357.82" cy="202.23" r="5.06" fill="url(#gB)" fill-opacity="1.00"/>
<circle cx="368.50" cy="9.14" r="5.06" fill="url(#gB)" fill-opacity="1.00"/>
<circle cx="368.50" cy="19.87" r="5.06" fill="url(#gB)" fill-opacity="1.00"/>
<circle cx="368.50" cy="30.60" r="5.06" fill="url(#gB)" fill-opacity="1.00"/>
<circle cx="368.50" cy="41.32" r="5.06" fill="url(#gB)" fill-opacity="1.00"/>
<circle cx="368.50" cy="52.05" r="5.06" fill="url(#gB)" fill-opacity="1.00"/>
<circle cx="368.50" cy="62.78" r="5.06" fill="url(#gB)" fill-opacity="1.00"/>
<circle cx="368.50" cy="73.50" r="5.06" fill="url(#gB)" fill-opacity="1.00"/>
<circle cx="368.50" cy="84.23" r="5.06" fill="url(#gB)" fill-opacity="1.00"/>
<circle cx="368.50" cy="94.96" r="5.06" fill="url(#gB)" fill-opacity="1.00"/>
<circle cx="368.50" cy="105.68" r="5.06" fill="url(#gB)" fill-opacity="1.00"/>
<circle cx="368.50" cy="116.41" r="5.06" fill="url(#gB)" fill-opacity="1.00"/>
<circle cx="368.50" cy="127.14" r="5.06" fill="url(#gB)" fill-opacity="1.00"/>
<circle cx="368.50" cy="137.87" r="5.06" fill="url(#gB)" fill-opacity="1.00"/>
<circle cx="368.50" cy="148.59" r="5.06" fill="url(#gB)" fill-opacity="1.00"/>
<circle cx="368.50" cy="159.32" r="5.06" fill="url(#gB)" fill-opacity="1.00"/>
<circle cx="368.50" cy="170.05" r="5.06" fill="url(#gB)" fill-opacity="1.00"/>
<circle cx="368.50" cy="180.77" r="5.06" fill="url(#gB)" fill-opacity="1.00"/>
<circle cx="368.50" cy="191.50" r="5.06" fill="url(#gB)" fill-opacity="1.00"/>
<circle cx="368.50" cy="202.23" r="5.06" fill="url(#gB)" fill-opacity="1.00"/>
<circle cx="379.18" cy="9.14" r="5.06" fill="url(#gB)" fill-opacity="1.00"/>
<circle cx="379.18" cy="19.87" r="5.06" fill="url(#gB)" fill-opacity="1.00"/>
<circle cx="379.18" cy="30.60" r="5.06" fill="url(#gB)" fill-opacity="1.00"/>
<circle cx="379.18" cy="41.32" r="5.06" fill="url(#gB)" fill-opacity="1.00"/>
<circle cx="379.18" cy="52.05" r="5.06" fill="url(#gB)" fill-opacity="1.00"/>
<circle cx="379.18" cy="62.78" r="5.06" fill="url(#gB)" fill-opacity="1.00"/>
<circle cx="379.18" cy="73.50" r="5.06" fill="url(#gB)" fill-opacity="1.00"/>
<circle cx="379.18" cy="84.23" r="5.06" fill="url(#gB)" fill-opacity="1.00"/>
<circle cx="379.18" cy="94.96" r="5.06" fill="url(#gB)" fill-opacity="1.00"/>
<circle cx="379.18" cy="105.68" r="5.06" fill="url(#gB)" fill-opacity="1.00"/>
<circle cx="379.18" cy="116.41" r="5.06" fill="url(#gB)" fill-opacity="1.00"/>
<circle cx="379.18" cy="127.14" r="5.06" fill="url(#gB)" fill-opacity="1.00"/>
<circle cx="379.18" cy="137.87" r="5.06" fill="url(#gB)" fill-opacity="1.00"/>
<circle cx="379.18" cy="148.59" r="5.06" fill="url(#gB)" fill-opacity="1.00"/>
<circle cx="379.18" cy="159.32" r="5.06" fill="url(#gB)" fill-opacity="1.00"/>
<circle cx="379.18" cy="170.05" r="5.06" fill="url(#gB)" fill-opacity="1.00"/>
<circle cx="379.18" cy="180.77" r="5.06" fill="url(#gB)" fill-opacity="1.00"/>
<circle cx="379.18" cy="191.50" r="5.06" fill="url(#gB)" fill-opacity="1.00"/>
<circle cx="379.18" cy="202.23" r="5.06" fill="url(#gB)" fill-opacity="1.00"/>
<circle cx="335.60" cy="6.60" r="5.08" fill="url(#gB)" fill-opacity="1.00"/>
<circle cx="335.60" cy="17.61" r="5.08" fill="url(#gB)" fill-opacity="1.00"/>
<circle cx="335.60" cy="28.62" r="5.08" fill="url(#gB)" fill-opacity="1.00"/>
<circle cx="335.60" cy="39.63" r="5.08" fill="url(#gB)" fill-opacity="1.00"/>
<circle cx="335.60" cy="50.64" r="5.08" fill="url(#gB)" fill-opacity="1.00"/>
<circle cx="335.60" cy="61.64" r="5.08" fill="url(#gB)" fill-opacity="1.00"/>
<circle cx="335.60" cy="72.65" r="5.08" fill="url(#gB)" fill-opacity="1.00"/>
<circle cx="335.60" cy="83.66" r="5.08" fill="url(#gB)" fill-opacity="1.00"/>
<circle cx="335.60" cy="94.67" r="5.08" fill="url(#gB)" fill-opacity="1.00"/>
<circle cx="335.60" cy="105.68" r="5.08" fill="url(#gB)" fill-opacity="1.00"/>
<circle cx="335.60" cy="116.68" r="5.08" fill="url(#gB)" fill-opacity="1.00"/>
<circle cx="335.60" cy="127.69" r="5.08" fill="url(#gB)" fill-opacity="1.00"/>
<circle cx="335.60" cy="138.70" r="5.08" fill="url(#gB)" fill-opacity="1.00"/>
<circle cx="335.60" cy="149.71" r="5.08" fill="url(#gB)" fill-opacity="1.00"/>
<circle cx="335.60" cy="160.72" r="5.08" fill="url(#gB)" fill-opacity="1.00"/>
<circle cx="335.60" cy="171.72" r="5.08" fill="url(#gB)" fill-opacity="1.00"/>
<circle cx="335.60" cy="182.73" r="5.08" fill="url(#gB)" fill-opacity="1.00"/>
<circle cx="335.60" cy="193.74" r="5.08" fill="url(#gB)" fill-opacity="1.00"/>
<circle cx="335.60" cy="204.75" r="5.08" fill="url(#gB)" fill-opacity="1.00"/>
<circle cx="346.57" cy="6.60" r="5.08" fill="url(#gB)" fill-opacity="1.00"/>
<circle cx="346.57" cy="17.61" r="5.08" fill="url(#gB)" fill-opacity="1.00"/>
<circle cx="346.57" cy="28.62" r="5.08" fill="url(#gB)" fill-opacity="1.00"/>
<circle cx="346.57" cy="39.63" r="5.08" fill="url(#gB)" fill-opacity="1.00"/>
<circle cx="346.57" cy="50.64" r="5.08" fill="url(#gB)" fill-opacity="1.00"/>
<circle cx="346.57" cy="61.64" r="5.08" fill="url(#gB)" fill-opacity="1.00"/>
<circle cx="346.57" cy="72.65" r="5.08" fill="url(#gB)" fill-opacity="1.00"/>
<circle cx="346.57" cy="83.66" r="5.08" fill="url(#gB)" fill-opacity="1.00"/>
<circle cx="346.57" cy="94.67" r="5.08" fill="url(#gB)" fill-opacity="1.00"/>
<circle cx="346.57" cy="105.68" r="5.08" fill="url(#gB)" fill-opacity="1.00"/>
<circle cx="346.57" cy="116.68" r="5.08" fill="url(#gB)" fill-opacity="1.00"/>
<circle cx="346.57" cy="127.69" r="5.08" fill="url(#gB)" fill-opacity="1.00"/>
<circle cx="346.57" cy="138.70" r="5.08" fill="url(#gB)" fill-opacity="1.00"/>
<circle cx="346.57" cy="149.71" r="5.08" fill="url(#gB)" fill-opacity="1.00"/>
<circle cx="346.57" cy="160.72" r="5.08" fill="url(#gB)" fill-opacity="1.00"/>
<circle cx="346.57" cy="171.72" r="5.08" fill="url(#gB)" fill-opacity="1.00"/>
<circle cx="346.57" cy="182.73" r="5.08" fill="url(#gB)" fill-opacity="1.00"/>
<circle cx="346.57" cy="193.74" r="5.08" fill="url(#gB)" fill-opacity="1.00"/>
<circle cx="346.57" cy="204.75" r="5.08" fill="url(#gB)" fill-opacity="1.00"/>
<circle cx="357.53" cy="6.60" r="5.08" fill="url(#gB)" fill-opacity="1.00"/>
<circle cx="357.53" cy="17.61" r="5.08" fill="url(#gB)" fill-opacity="1.00"/>
<circle cx="357.53" cy="28.62" r="5.08" fill="url(#gB)" fill-opacity="1.00"/>
<circle cx="357.53" cy="39.63" r="5.08" fill="url(#gB)" fill-opacity="1.00"/>
<circle cx="357.53" cy="50.64" r="5.08" fill="url(#gB)" fill-opacity="1.00"/>
<circle cx="357.53" cy="61.64" r="5.08" fill="url(#gB)" fill-opacity="1.00"/>
<circle cx="357.53" cy="72.65" r="5.08" fill="url(#gB)" fill-opacity="1.00"/>
<circle cx="357.53" cy="83.66" r="5.08" fill="url(#gB)" fill-opacity="1.00"/>
<circle cx="357.53" cy="94.67" r="5.08" fill="url(#gB)" fill-opacity="1.00"/>
<circle cx="357.53" cy="105.68" r="5.08" fill="url(#gB)" fill-opacity="1.00"/>
<circle cx="357.53" cy="116.68" r="5.08" fill="url(#gB)" fill-opacity="1.00"/>
<circle cx="357.53" cy="127.69" r="5.08" fill="url(#gB)" fill-opacity="1.00"/>
<circle cx="357.53" cy="138.70" r="5.08" fill="url(#gB)" fill-opacity="1.00"/>
<circle cx="357.53" cy="149.71" r="5.08" fill="url(#gB)" fill-opacity="1.00"/>
<circle cx="357.53" cy="160.72" r="5.08" fill="url(#gB)" fill-opacity="1.00"/>
<circle cx="357.53" cy="171.72" r="5.08" fill="url(#gB)" fill-opacity="1.00"/>
<circle cx="357.53" cy="182.73" r="5.08" fill="url(#gB)" fill-opacity="1.00"/>
<circle cx="357.53" cy="193.74" r="5.08" fill="url(#gB)" fill-opacity="1.00"/>
<circle cx="357.53" cy="204.75" r="5.08" fill="url(#gB)" fill-opacity="1.00"/>
<circle cx="368.49" cy="6.60" r="5.08" fill="url(#gB)" fill-opacity="1.00"/>
<circle cx="368.49" cy="17.61" r="5.08" fill="url(#gB)" fill-opacity="1.00"/>
<circle cx="368.49" cy="28.62" r="5.08" fill="url(#gB)" fill-opacity="1.00"/>
<circle cx="368.49" cy="39.63" r="5.08" fill="url(#gB)" fill-opacity="1.00"/>
<circle cx="368.49" cy="50.64" r="5.08" fill="url(#gB)" fill-opacity="1.00"/>
<circle cx="368.49" cy="61.64" r="5.08" fill="url(#gB)" fill-opacity="1.00"/>
<circle cx="368.49" cy="72.65" r="5.08" fill="url(#gB)" fill-opacity="1.00"/>
<circle cx="368.49" cy="83.66" r="5.08" fill="url(#gB)" fill-opacity="1.00"/>
<circle cx="368.49" cy="94.67" r="5.08" fill="url(#gB)" fill-opacity="1.00"/>
<circle cx="368.49" cy="105.68" r="5.08" fill="url(#gB)" fill-opacity="1.00"/>
<circle cx="368.49" cy="116.68" r="5.08" fill="url(#gB)" fill-opacity="1.00"/>
<circle cx="368.49" cy="127.69" r="5.08" fill="url(#gB)" fill-opacity="1.00"/>
<circle cx="368.49" cy="138.70" r="5.08" fill="url(#gB)" fill-opacity="1.00"/>
<circle cx="368.49" cy="149.71" r="5.08" fill="url(#gB)" fill-opacity="1.00"/>
<circle cx="368.49" cy="160.72" r="5.08" fill="url(#gB)" fill-opacity="1.00"/>
<circle cx="368.49" cy="171.72" r="5.08" fill="url(#gB)" fill-opacity="1.00"/>
<circle cx="368.49" cy="182.73" r="5.08" fill="url(#gB)" fill-opacity="1.00"/>
<circle cx="368.49" cy="193.74" r="5.08" fill="url(#gB)" fill-opacity="1.00"/>
<circle cx="368.49" cy="204.75" r="5.08" fill="url(#gB)" fill-opacity="1.00"/>
<circle cx="379.45" cy="6.60" r="5.08" fill="url(#gB)" fill-opacity="1.00"/>
<circle cx="379.45" cy="17.61" r="5.08" fill="url(#gB)" fill-opacity="1.00"/>
<circle cx="379.45" cy="28.62" r="5.08" fill="url(#gB)" fill-opacity="1.00"/>
<circle cx="379.45" cy="39.63" r="5.08" fill="url(#gB)" fill-opacity="1.00"/>
<circle cx="379.45" cy="50.64" r="5.08" fill="url(#gB)" fill-opacity="1.00"/>
<circle cx="379.45" cy="61.64" r="5.08" fill="url(#gB)" fill-opacity="1.00"/>
<circle cx="379.45" cy="72.65" r="5.08" fill="url(#gB)" fill-opacity="1.00"/>
<circle cx="379.45" cy="83.66" r="5.08" fill="url(#gB)" fill-opacity="1.00"/>
<circle cx="379.45" cy="94.67" r="5.08" fill="url(#gB)" fill-opacity="1.00"/>
<circle cx="379.45" cy="105.68" r="5.08" fill="url(#gB)" fill-opacity="1.00"/>
<circle cx="379.45" cy="116.68" r="5.08" fill="url(#gB)" fill-opacity="1.00"/>
<circle cx="379.45" cy="127.69" r="5.08" fill="url(#gB)" fill-opacity="1.00"/>
<circle cx="379.45" cy="138.70" r="5.08" fill="url(#gB)" fill-opacity="1.00"/>
<circle cx="379.45" cy="149.71" r="5.08" fill="url(#gB)" fill-opacity="1.00"/>
<circle cx="379.45" cy="160.72" r="5.08" fill="url(#gB)" fill-opacity="1.00"/>
<circle cx="379.45" cy="171.72" r="5.08" fill="url(#gB)" fill-opacity="1.00"/>
<circle cx="379.45" cy="182.73" r="5.08" fill="url(#gB)" fill-opacity="1.00"/>
<circle cx="379.45" cy="193.74" r="5.08" fill="url(#gB)" fill-opacity="1.00"/>
<circle cx="379.45" cy="204.75" r="5.08" fill="url(#gB)" fill-opacity="1.00"/>
<circle cx="334.75" cy="4.07" r="5.09" fill="url(#gB)" fill-opacity="1.00"/>
<circle cx="334.75" cy="15.36" r="5.09" fill="url(#gB)" fill-opacity="1.00"/>
<circle cx="334.75" cy="26.65" r="5.09" fill="url(#gB)" fill-opacity="1.00"/>
<circle cx="334.75" cy="37.93" r="5.09" fill="url(#gB)" fill-opacity="1.00"/>
<circle cx="334.75" cy="49.22" r="5.09" fill="url(#gB)" fill-opacity="1.00"/>
<circle cx="334.75" cy="60.51" r="5.09" fill="url(#gB)" fill-opacity="1.00"/>
<circle cx="334.75" cy="71.80" r="5.09" fill="url(#gB)" fill-opacity="1.00"/>
<circle cx="334.75" cy="83.09" r="5.09" fill="url(#gB)" fill-opacity="1.00"/>
<circle cx="334.75" cy="94.38" r="5.09" fill="url(#gB)" fill-opacity="1.00"/>
<circle cx="334.75" cy="105.67" r="5.09" fill="url(#gB)" fill-opacity="1.00"/>
<circle cx="334.75" cy="116.96" r="5.09" fill="url(#gB)" fill-opacity="1.00"/>
<circle cx="334.75" cy="128.25" r="5.09" fill="url(#gB)" fill-opacity="1.00"/>
<circle cx="334.75" cy="139.54" r="5.09" fill="url(#gB)" fill-opacity="1.00"/>
<circle cx="334.75" cy="150.82" r="5.09" fill="url(#gB)" fill-opacity="1.00"/>
<circle cx="334.75" cy="162.11" r="5.09" fill="url(#gB)" fill-opacity="1.00"/>
<circle cx="334.75" cy="173.40" r="5.09" fill="url(#gB)" fill-opacity="1.00"/>
<circle cx="334.75" cy="184.69" r="5.09" fill="url(#gB)" fill-opacity="1.00"/>
<circle cx="334.75" cy="195.98" r="5.09" fill="url(#gB)" fill-opacity="1.00"/>
<circle cx="334.75" cy="207.27" r="5.09" fill="url(#gB)" fill-opacity="1.00"/>
<circle cx="345.99" cy="4.07" r="5.09" fill="url(#gB)" fill-opacity="1.00"/>
<circle cx="345.99" cy="15.36" r="5.09" fill="url(#gB)" fill-opacity="1.00"/>
<circle cx="345.99" cy="26.65" r="5.09" fill="url(#gB)" fill-opacity="1.00"/>
<circle cx="345.99" cy="37.93" r="5.09" fill="url(#gB)" fill-opacity="1.00"/>
<circle cx="345.99" cy="49.22" r="5.09" fill="url(#gB)" fill-opacity="1.00"/>
<circle cx="345.99" cy="60.51" r="5.09" fill="url(#gB)" fill-opacity="1.00"/>
<circle cx="345.99" cy="71.80" r="5.09" fill="url(#gB)" fill-opacity="1.00"/>
<circle cx="345.99" cy="83.09" r="5.09" fill="url(#gB)" fill-opacity="1.00"/>
<circle cx="345.99" cy="94.38" r="5.09" fill="url(#gB)" fill-opacity="1.00"/>
<circle cx="345.99" cy="105.67" r="5.09" fill="url(#gB)" fill-opacity="1.00"/>
<circle cx="345.99" cy="116.96" r="5.09" fill="url(#gB)" fill-opacity="1.00"/>
<circle cx="345.99" cy="128.25" r="5.09" fill="url(#gB)" fill-opacity="1.00"/>
<circle cx="345.99" cy="139.54" r="5.09" fill="url(#gB)" fill-opacity="1.00"/>
<circle cx="345.99" cy="150.82" r="5.09" fill="url(#gB)" fill-opacity="1.00"/>
<circle cx="345.99" cy="162.11" r="5.09" fill="url(#gB)" fill-opacity="1.00"/>
<circle cx="345.99" cy="173.40" r="5.09" fill="url(#gB)" fill-opacity="1.00"/>
<circle cx="345.99" cy="184.69" r="5.09" fill="url(#gB)" fill-opacity="1.00"/>
<circle cx="345.99" cy="195.98" r="5.09" fill="url(#gB)" fill-opacity="1.00"/>
<circle cx="345.99" cy="207.27" r="5.09" fill="url(#gB)" fill-opacity="1.00"/>
<circle cx="357.23" cy="4.07" r="5.09" fill="url(#gB)" fill-opacity="1.00"/>
<circle cx="357.23" cy="15.36" r="5.09" fill="url(#gB)" fill-opacity="1.00"/>
<circle cx="357.23" cy="26.65" r="5.09" fill="url(#gB)" fill-opacity="1.00"/>
<circle cx="357.23" cy="37.93" r="5.09" fill="url(#gB)" fill-opacity="1.00"/>
<circle cx="357.23" cy="49.22" r="5.09" fill="url(#gB)" fill-opacity="1.00"/>
<circle cx="357.23" cy="60.51" r="5.09" fill="url(#gB)" fill-opacity="1.00"/>
<circle cx="357.23" cy="71.80" r="5.09" fill="url(#gB)" fill-opacity="1.00"/>
<circle cx="357.23" cy="83.09" r="5.09" fill="url(#gB)" fill-opacity="1.00"/>
<circle cx="357.23" cy="94.38" r="5.09" fill="url(#gB)" fill-opacity="1.00"/>
<circle cx="357.23" cy="105.67" r="5.09" fill="url(#gB)" fill-opacity="1.00"/>
<circle cx="357.23" cy="116.96" r="5.09" fill="url(#gB)" fill-opacity="1.00"/>
<circle cx="357.23" cy="128.25" r="5.09" fill="url(#gB)" fill-opacity="1.00"/>
<circle cx="357.23" cy="139.54" r="5.09" fill="url(#gB)" fill-opacity="1.00"/>
<circle cx="357.23" cy="150.82" r="5.09" fill="url(#gB)" fill-opacity="1.00"/>
<circle cx="357.23" cy="162.11" r="5.09" fill="url(#gB)" fill-opacity="1.00"/>
<circle cx="357.23" cy="173.40" r="5.09" fill="url(#gB)" fill-opacity="1.00"/>
<circle cx="357.23" cy="184.69" r="5.09" fill="url(#gB)" fill-opacity="1.00"/>
<circle cx="357.23" cy="195.98" r="5.09" fill="url(#gB)" fill-opacity="1.00"/>
<circle cx="357.23" cy="207.27" r="5.09" fill="url(#gB)" fill-opacity="1.00"/>
<circle cx="368.47" cy="4.07" r="5.09" fill="url(#gB)" fill-opacity="1.00"/>
<circle cx="368.47" cy="15.36" r="5.09" fill="url(#gB)" fill-opacity="1.00"/>
<circle cx="368.47" cy="26.65" r="5.09" fill="url(#gB)" fill-opacity="1.00"/>
<circle cx="368.47" cy="37.93" r="5.09" fill="url(#gB)" fill-opacity="1.00"/>
<circle cx="368.47" cy="49.22" r="5.09" fill="url(#gB)" fill-opacity="1.00"/>
<circle cx="368.47" cy="60.51" r="5.09" fill="url(#gB)" fill-opacity="1.00"/>
<circle cx="368.47" cy="71.80" r="5.09" fill="url(#gB)" fill-opacity="1.00"/>
<circle cx="368.47" cy="83.09" r="5.09" fill="url(#gB)" fill-opacity="1.00"/>
<circle cx="368.47" cy="94.38" r="5.09" fill="url(#gB)" fill-opacity="1.00"/>
<circle cx="368.47" cy="105.67" r="5.09" fill="url(#gB)" fill-opacity="1.00"/>
<circle cx="368.47" cy="116.96" r="5.09" fill="url(#gB)" fill-opacity="1.00"/>
<circle cx="368.47" cy="128.25" r="5.09" fill="url(#gB)" fill-opacity="1.00"/>
<circle cx="368.47" cy="139.54" r="5.09" fill="url(#gB)" fill-opacity="1.00"/>
<circle cx="368.47" cy="150.82" r="5.09" fill="url(#gB)" fill-opacity="1.00"/>
<circle cx="368.47" cy="162.11" r="5.09" fill="url(#gB)" fill-opacity="1.00"/>
<circle cx="368.47" cy="173.40" r="5.09" fill="url(#gB)" fill-opacity="1.00"/>
<circle cx="368.47" cy="184.69" r="5.09" fill="url(#gB)" fill-opacity="1.00"/>
<circle cx="368.47" cy="195.98" r="5.09" fill="url(#gB)" fill-opacity="1.00"/>
<circle cx="368.47" cy="207.27" r="5.09" fill="url(#gB)" fill-opacity="1.00"/>
<circle cx="379.71" cy="4.07" r="5.09" fill="url(#gB)" fill-opacity="1.00"/>
<circle cx="379.71" cy="15.36" r="5.09" fill="url(#gB)" fill-opacity="1.00"/>
<circle cx="379.71" cy="26.65" r="5.09" fill="url(#gB)" fill-opacity="1.00"/>
<circle cx="379.71" cy="37.93" r="5.09" fill="url(#gB)" fill-opacity="1.00"/>
<circle cx="379.71" cy="49.22" r="5.09" fill="url(#gB)" fill-opacity="1.00"/>
<circle cx="379.71" cy="60.51" r="5.09" fill="url(#gB)" fill-opacity="1.00"/>
<circle cx="379.71" cy="71.80" r="5.09" fill="url(#gB)" fill-opacity="1.00"/>
<circle cx="379.71" cy="83.09" r="5.09" fill="url(#gB)" fill-opacity="1.00"/>
<circle cx="379.71" cy="94.38" r="5.09" fill="url(#gB)" fill-opacity="1.00"/>
<circle cx="379.71" cy="105.67" r="5.09" fill="url(#gB)" fill-opacity="1.00"/>
<circle cx="379.71" cy="116.96" r="5.09" fill="url(#gB)" fill-opacity="1.00"/>
<circle cx="379.71" cy="128.25" r="5.09" fill="url(#gB)" fill-opacity="1.00"/>
<circle cx="379.71" cy="139.54" r="5.09" fill="url(#gB)" fill-opacity="1.00"/>
<circle cx="379.71" cy="150.82" r="5.09" fill="url(#gB)" fill-opacity="1.00"/>
<circle cx="379.71" cy="162.11" r="5.09" fill="url(#gB)" fill-opacity="1.00"/>
<circle cx="379.71" cy="173.40" r="5.09" fill="url(#gB)" fill-opacity="1.00"/>
<circle cx="379.71" cy="184.69" r="5.09" fill="url(#gB)" fill-opacity="1.00"/>
<circle cx="379.71" cy="195.98" r="5.09" fill="url(#gB)" fill-opacity="1.00"/>
<circle cx="379.71" cy="207.27" r="5.09" fill="url(#gB)" fill-opacity="1.00"/>
<path d="M339.7,96.2Q339.7,99.9 343.3,99.9Q339.7,99.9 339.7,103.5Q339.7,99.9 336.0,99.9Q339.7,99.9 339.7,96.2Z" fill="#fff" opacity="0.09"/>
<circle cx="339.7" cy="99.9" r="1.83" fill="#fff" opacity="0.09"/>
<path d="M339.7,107.8Q339.7,111.4 343.3,111.4Q339.7,111.4 339.7,115.1Q339.7,111.4 336.0,111.4Q339.7,111.4 339.7,107.8Z" fill="#fff" opacity="0.10"/>
<circle cx="339.7" cy="111.4" r="1.84" fill="#fff" opacity="0.10"/>
<path d="M351.2,84.1Q351.2,88.3 355.4,88.3Q351.2,88.3 351.2,92.5Q351.2,88.3 347.0,88.3Q351.2,88.3 351.2,84.1Z" fill="#fff" opacity="0.31"/>
<circle cx="351.2" cy="88.3" r="2.09" fill="#fff" opacity="0.31"/>
<path d="M351.2,95.0Q351.2,99.9 356.0,99.9Q351.2,99.9 351.2,104.7Q351.2,99.9 346.3,99.9Q351.2,99.9 351.2,95.0Z" fill="#fff" opacity="0.60"/>
<circle cx="351.2" cy="99.9" r="2.42" fill="#fff" opacity="0.60"/>
<path d="M351.2,106.6Q351.2,111.4 356.0,111.4Q351.2,111.4 351.2,116.3Q351.2,111.4 346.3,111.4Q351.2,111.4 351.2,106.6Z" fill="#fff" opacity="0.61"/>
<circle cx="351.2" cy="111.4" r="2.43" fill="#fff" opacity="0.61"/>
<path d="M351.2,118.8Q351.2,123.0 355.4,123.0Q351.2,123.0 351.2,127.2Q351.2,123.0 347.0,123.0Q351.2,123.0 351.2,118.8Z" fill="#fff" opacity="0.33"/>
<circle cx="351.2" cy="123.0" r="2.11" fill="#fff" opacity="0.33"/>
<path d="M362.7,73.1Q362.7,76.7 366.4,76.7Q362.7,76.7 362.7,80.4Q362.7,76.7 359.0,76.7Q362.7,76.7 362.7,73.1Z" fill="#fff" opacity="0.09"/>
<circle cx="362.7" cy="76.7" r="1.84" fill="#fff" opacity="0.09"/>
<path d="M362.7,83.5Q362.7,88.3 367.5,88.3Q362.7,88.3 362.7,93.1Q362.7,88.3 357.9,88.3Q362.7,88.3 362.7,83.5Z" fill="#fff" opacity="0.60"/>
<circle cx="362.7" cy="88.3" r="2.42" fill="#fff" opacity="0.60"/>
<path d="M362.7,94.1Q362.7,99.9 368.5,99.9Q362.7,99.9 362.7,105.6Q362.7,99.9 356.9,99.9Q362.7,99.9 362.7,94.1Z" fill="#fff" opacity="1.00"/>
<circle cx="362.7" cy="99.9" r="2.88" fill="#fff" opacity="1.00"/>
<path d="M362.7,105.7Q362.7,111.4 368.5,111.4Q362.7,111.4 362.7,117.2Q362.7,111.4 356.9,111.4Q362.7,111.4 362.7,105.7Z" fill="#fff" opacity="1.00"/>
<circle cx="362.7" cy="111.4" r="2.88" fill="#fff" opacity="1.00"/>
<path d="M362.7,118.1Q362.7,123.0 367.6,123.0Q362.7,123.0 362.7,127.9Q362.7,123.0 357.8,123.0Q362.7,123.0 362.7,118.1Z" fill="#fff" opacity="0.63"/>
<circle cx="362.7" cy="123.0" r="2.45" fill="#fff" opacity="0.63"/>
<path d="M362.7,130.8Q362.7,134.6 366.4,134.6Q362.7,134.6 362.7,138.3Q362.7,134.6 359.0,134.6Q362.7,134.6 362.7,130.8Z" fill="#fff" opacity="0.12"/>
<circle cx="362.7" cy="134.6" r="1.87" fill="#fff" opacity="0.12"/>
<path d="M374.2,73.0Q374.2,76.7 377.9,76.7Q374.2,76.7 374.2,80.4Q374.2,76.7 370.5,76.7Q374.2,76.7 374.2,73.0Z" fill="#fff" opacity="0.10"/>
<circle cx="374.2" cy="76.7" r="1.85" fill="#fff" opacity="0.10"/>
<path d="M374.2,83.4Q374.2,88.3 379.1,88.3Q374.2,88.3 374.2,93.2Q374.2,88.3 369.3,88.3Q374.2,88.3 374.2,83.4Z" fill="#fff" opacity="0.62"/>
<circle cx="374.2" cy="88.3" r="2.44" fill="#fff" opacity="0.62"/>
<path d="M374.2,94.1Q374.2,99.9 380.0,99.9Q374.2,99.9 374.2,105.6Q374.2,99.9 368.5,99.9Q374.2,99.9 374.2,94.1Z" fill="#fff" opacity="1.00"/>
<circle cx="374.2" cy="99.9" r="2.88" fill="#fff" opacity="1.00"/>
<path d="M374.2,105.7Q374.2,111.4 380.0,111.4Q374.2,111.4 374.2,117.2Q374.2,111.4 368.5,111.4Q374.2,111.4 374.2,105.7Z" fill="#fff" opacity="1.00"/>
<circle cx="374.2" cy="111.4" r="2.88" fill="#fff" opacity="1.00"/>
<path d="M374.2,118.1Q374.2,123.0 379.2,123.0Q374.2,123.0 374.2,128.0Q374.2,123.0 369.3,123.0Q374.2,123.0 374.2,118.1Z" fill="#fff" opacity="0.65"/>
<circle cx="374.2" cy="123.0" r="2.47" fill="#fff" opacity="0.65"/>
<path d="M374.2,130.8Q374.2,134.6 378.0,134.6Q374.2,134.6 374.2,138.3Q374.2,134.6 370.5,134.6Q374.2,134.6 374.2,130.8Z" fill="#fff" opacity="0.13"/>
<circle cx="374.2" cy="134.6" r="1.88" fill="#fff" opacity="0.13"/>
<circle cx="333.90" cy="1.53" r="5.10" fill="url(#gF)"/>
<circle cx="333.90" cy="13.10" r="5.10" fill="url(#gF)"/>
<circle cx="333.90" cy="24.67" r="5.10" fill="url(#gF)"/>
<circle cx="333.90" cy="36.24" r="5.10" fill="url(#gF)"/>
<circle cx="333.90" cy="47.81" r="5.10" fill="url(#gF)"/>
<circle cx="333.90" cy="59.38" r="5.10" fill="url(#gF)"/>
<circle cx="333.90" cy="70.95" r="5.10" fill="url(#gF)"/>
<circle cx="333.90" cy="82.52" r="5.10" fill="url(#gF)"/>
<circle cx="333.90" cy="94.09" r="5.10" fill="url(#gF)"/>
<circle cx="333.90" cy="105.66" r="5.10" fill="url(#gF)"/>
<circle cx="333.90" cy="117.23" r="5.10" fill="url(#gF)"/>
<circle cx="333.90" cy="128.80" r="5.10" fill="url(#gF)"/>
<circle cx="333.90" cy="140.37" r="5.10" fill="url(#gF)"/>
<circle cx="333.90" cy="151.94" r="5.10" fill="url(#gF)"/>
<circle cx="333.90" cy="163.51" r="5.10" fill="url(#gF)"/>
<circle cx="333.90" cy="175.08" r="5.10" fill="url(#gF)"/>
<circle cx="333.90" cy="186.65" r="5.10" fill="url(#gF)"/>
<circle cx="333.90" cy="198.22" r="5.10" fill="url(#gF)"/>
<circle cx="333.90" cy="209.79" r="5.10" fill="url(#gF)"/>
<circle cx="345.42" cy="1.53" r="5.10" fill="url(#gF)"/>
<circle cx="345.42" cy="13.10" r="5.10" fill="url(#gF)"/>
<circle cx="345.42" cy="24.67" r="5.10" fill="url(#gF)"/>
<circle cx="345.42" cy="36.24" r="5.10" fill="url(#gF)"/>
<circle cx="345.42" cy="47.81" r="5.10" fill="url(#gF)"/>
<circle cx="345.42" cy="59.38" r="5.10" fill="url(#gF)"/>
<circle cx="345.42" cy="70.95" r="5.10" fill="url(#gF)"/>
<circle cx="345.42" cy="82.52" r="5.10" fill="url(#gF)"/>
<circle cx="345.42" cy="94.09" r="5.10" fill="url(#gF)"/>
<circle cx="345.42" cy="105.66" r="5.10" fill="url(#gF)"/>
<circle cx="345.42" cy="117.23" r="5.10" fill="url(#gF)"/>
<circle cx="345.42" cy="128.80" r="5.10" fill="url(#gF)"/>
<circle cx="345.42" cy="140.37" r="5.10" fill="url(#gF)"/>
<circle cx="345.42" cy="151.94" r="5.10" fill="url(#gF)"/>
<circle cx="345.42" cy="163.51" r="5.10" fill="url(#gF)"/>
<circle cx="345.42" cy="175.08" r="5.10" fill="url(#gF)"/>
<circle cx="345.42" cy="186.65" r="5.10" fill="url(#gF)"/>
<circle cx="345.42" cy="198.22" r="5.10" fill="url(#gF)"/>
<circle cx="345.42" cy="209.79" r="5.10" fill="url(#gF)"/>
<circle cx="356.94" cy="1.53" r="5.10" fill="url(#gF)"/>
<circle cx="356.94" cy="13.10" r="5.10" fill="url(#gF)"/>
<circle cx="356.94" cy="24.67" r="5.10" fill="url(#gF)"/>
<circle cx="356.94" cy="36.24" r="5.10" fill="url(#gF)"/>
<circle cx="356.94" cy="47.81" r="5.10" fill="url(#gF)"/>
<circle cx="356.94" cy="59.38" r="5.10" fill="url(#gF)"/>
<circle cx="356.94" cy="70.95" r="5.10" fill="url(#gF)"/>
<circle cx="356.94" cy="82.52" r="5.10" fill="url(#gF)"/>
<circle cx="356.94" cy="94.09" r="5.10" fill="url(#gF)"/>
<circle cx="356.94" cy="105.66" r="5.10" fill="url(#gF)"/>
<circle cx="356.94" cy="117.23" r="5.10" fill="url(#gF)"/>
<circle cx="356.94" cy="128.80" r="5.10" fill="url(#gF)"/>
<circle cx="356.94" cy="140.37" r="5.10" fill="url(#gF)"/>
<circle cx="356.94" cy="151.94" r="5.10" fill="url(#gF)"/>
<circle cx="356.94" cy="163.51" r="5.10" fill="url(#gF)"/>
<circle cx="356.94" cy="175.08" r="5.10" fill="url(#gF)"/>
<circle cx="356.94" cy="186.65" r="5.10" fill="url(#gF)"/>
<circle cx="356.94" cy="198.22" r="5.10" fill="url(#gF)"/>
<circle cx="356.94" cy="209.79" r="5.10" fill="url(#gF)"/>
<circle cx="368.46" cy="1.53" r="5.10" fill="url(#gF)"/>
<circle cx="368.46" cy="13.10" r="5.10" fill="url(#gF)"/>
<circle cx="368.46" cy="24.67" r="5.10" fill="url(#gF)"/>
<circle cx="368.46" cy="36.24" r="5.10" fill="url(#gF)"/>
<circle cx="368.46" cy="47.81" r="5.10" fill="url(#gF)"/>
<circle cx="368.46" cy="59.38" r="5.10" fill="url(#gF)"/>
<circle cx="368.46" cy="70.95" r="5.10" fill="url(#gF)"/>
<circle cx="368.46" cy="82.52" r="5.10" fill="url(#gF)"/>
<circle cx="368.46" cy="94.09" r="5.10" fill="url(#gF)"/>
<circle cx="368.46" cy="105.66" r="5.10" fill="url(#gF)"/>
<circle cx="368.46" cy="117.23" r="5.10" fill="url(#gF)"/>
<circle cx="368.46" cy="128.80" r="5.10" fill="url(#gF)"/>
<circle cx="368.46" cy="140.37" r="5.10" fill="url(#gF)"/>
<circle cx="368.46" cy="151.94" r="5.10" fill="url(#gF)"/>
<circle cx="368.46" cy="163.51" r="5.10" fill="url(#gF)"/>
<circle cx="368.46" cy="175.08" r="5.10" fill="url(#gF)"/>
<circle cx="368.46" cy="186.65" r="5.10" fill="url(#gF)"/>
<circle cx="368.46" cy="198.22" r="5.10" fill="url(#gF)"/>
<circle cx="368.46" cy="209.79" r="5.10" fill="url(#gF)"/>
<circle cx="379.98" cy="1.53" r="5.10" fill="url(#gF)"/>
<circle cx="379.98" cy="13.10" r="5.10" fill="url(#gF)"/>
<circle cx="379.98" cy="24.67" r="5.10" fill="url(#gF)"/>
<circle cx="379.98" cy="36.24" r="5.10" fill="url(#gF)"/>
<circle cx="379.98" cy="47.81" r="5.10" fill="url(#gF)"/>
<circle cx="379.98" cy="59.38" r="5.10" fill="url(#gF)"/>
<circle cx="379.98" cy="70.95" r="5.10" fill="url(#gF)"/>
<circle cx="379.98" cy="82.52" r="5.10" fill="url(#gF)"/>
<circle cx="379.98" cy="94.09" r="5.10" fill="url(#gF)"/>
<circle cx="379.98" cy="105.66" r="5.10" fill="url(#gF)"/>
<circle cx="379.98" cy="117.23" r="5.10" fill="url(#gF)"/>
<circle cx="379.98" cy="128.80" r="5.10" fill="url(#gF)"/>
<circle cx="379.98" cy="140.37" r="5.10" fill="url(#gF)"/>
<circle cx="379.98" cy="151.94" r="5.10" fill="url(#gF)"/>
<circle cx="379.98" cy="163.51" r="5.10" fill="url(#gF)"/>
<circle cx="379.98" cy="175.08" r="5.10" fill="url(#gF)"/>
<circle cx="379.98" cy="186.65" r="5.10" fill="url(#gF)"/>
<circle cx="379.98" cy="198.22" r="5.10" fill="url(#gF)"/>
<circle cx="379.98" cy="209.79" r="5.10" fill="url(#gF)"/>
<circle cx="388.14" cy="15.00" r="4.54" fill="url(#cuB)" fill-opacity="1.00"/>
<circle cx="388.14" cy="25.09" r="4.54" fill="url(#cuB)" fill-opacity="1.00"/>
<circle cx="388.14" cy="35.18" r="4.54" fill="url(#cuB)" fill-opacity="1.00"/>
<circle cx="388.14" cy="45.27" r="4.54" fill="url(#cuB)" fill-opacity="1.00"/>
<circle cx="388.14" cy="55.37" r="4.54" fill="url(#cuB)" fill-opacity="1.00"/>
<circle cx="388.14" cy="65.46" r="4.54" fill="url(#cuB)" fill-opacity="1.00"/>
<circle cx="388.14" cy="75.55" r="4.54" fill="url(#cuB)" fill-opacity="1.00"/>
<circle cx="388.14" cy="85.64" r="4.54" fill="url(#cuB)" fill-opacity="1.00"/>
<circle cx="388.14" cy="95.73" r="4.54" fill="url(#cuB)" fill-opacity="1.00"/>
<circle cx="388.14" cy="105.83" r="4.54" fill="url(#cuB)" fill-opacity="1.00"/>
<circle cx="388.14" cy="115.92" r="4.54" fill="url(#cuB)" fill-opacity="1.00"/>
<circle cx="388.14" cy="126.01" r="4.54" fill="url(#cuB)" fill-opacity="1.00"/>
<circle cx="388.14" cy="136.10" r="4.54" fill="url(#cuB)" fill-opacity="1.00"/>
<circle cx="388.14" cy="146.19" r="4.54" fill="url(#cuB)" fill-opacity="1.00"/>
<circle cx="388.14" cy="156.29" r="4.54" fill="url(#cuB)" fill-opacity="1.00"/>
<circle cx="388.14" cy="166.38" r="4.54" fill="url(#cuB)" fill-opacity="1.00"/>
<circle cx="388.14" cy="176.47" r="4.54" fill="url(#cuB)" fill-opacity="1.00"/>
<circle cx="388.14" cy="186.56" r="4.54" fill="url(#cuB)" fill-opacity="1.00"/>
<circle cx="388.14" cy="196.65" r="4.54" fill="url(#cuB)" fill-opacity="1.00"/>
<circle cx="388.62" cy="12.73" r="4.55" fill="url(#cuB)" fill-opacity="1.00"/>
<circle cx="388.62" cy="23.08" r="4.55" fill="url(#cuB)" fill-opacity="1.00"/>
<circle cx="388.62" cy="33.42" r="4.55" fill="url(#cuB)" fill-opacity="1.00"/>
<circle cx="388.62" cy="43.76" r="4.55" fill="url(#cuB)" fill-opacity="1.00"/>
<circle cx="388.62" cy="54.11" r="4.55" fill="url(#cuB)" fill-opacity="1.00"/>
<circle cx="388.62" cy="64.45" r="4.55" fill="url(#cuB)" fill-opacity="1.00"/>
<circle cx="388.62" cy="74.79" r="4.55" fill="url(#cuB)" fill-opacity="1.00"/>
<circle cx="388.62" cy="85.14" r="4.55" fill="url(#cuB)" fill-opacity="1.00"/>
<circle cx="388.62" cy="95.48" r="4.55" fill="url(#cuB)" fill-opacity="1.00"/>
<circle cx="388.62" cy="105.82" r="4.55" fill="url(#cuB)" fill-opacity="1.00"/>
<circle cx="388.62" cy="116.17" r="4.55" fill="url(#cuB)" fill-opacity="1.00"/>
<circle cx="388.62" cy="126.51" r="4.55" fill="url(#cuB)" fill-opacity="1.00"/>
<circle cx="388.62" cy="136.85" r="4.55" fill="url(#cuB)" fill-opacity="1.00"/>
<circle cx="388.62" cy="147.19" r="4.55" fill="url(#cuB)" fill-opacity="1.00"/>
<circle cx="388.62" cy="157.54" r="4.55" fill="url(#cuB)" fill-opacity="1.00"/>
<circle cx="388.62" cy="167.88" r="4.55" fill="url(#cuB)" fill-opacity="1.00"/>
<circle cx="388.62" cy="178.22" r="4.55" fill="url(#cuB)" fill-opacity="1.00"/>
<circle cx="388.62" cy="188.57" r="4.55" fill="url(#cuB)" fill-opacity="1.00"/>
<circle cx="388.62" cy="198.91" r="4.55" fill="url(#cuB)" fill-opacity="1.00"/>
<circle cx="389.09" cy="10.47" r="4.56" fill="url(#cuB)" fill-opacity="1.00"/>
<circle cx="389.09" cy="21.06" r="4.56" fill="url(#cuB)" fill-opacity="1.00"/>
<circle cx="389.09" cy="31.65" r="4.56" fill="url(#cuB)" fill-opacity="1.00"/>
<circle cx="389.09" cy="42.25" r="4.56" fill="url(#cuB)" fill-opacity="1.00"/>
<circle cx="389.09" cy="52.84" r="4.56" fill="url(#cuB)" fill-opacity="1.00"/>
<circle cx="389.09" cy="63.44" r="4.56" fill="url(#cuB)" fill-opacity="1.00"/>
<circle cx="389.09" cy="74.03" r="4.56" fill="url(#cuB)" fill-opacity="1.00"/>
<circle cx="389.09" cy="84.63" r="4.56" fill="url(#cuB)" fill-opacity="1.00"/>
<circle cx="389.09" cy="95.22" r="4.56" fill="url(#cuB)" fill-opacity="1.00"/>
<circle cx="389.09" cy="105.82" r="4.56" fill="url(#cuB)" fill-opacity="1.00"/>
<circle cx="389.09" cy="116.41" r="4.56" fill="url(#cuB)" fill-opacity="1.00"/>
<circle cx="389.09" cy="127.01" r="4.56" fill="url(#cuB)" fill-opacity="1.00"/>
<circle cx="389.09" cy="137.60" r="4.56" fill="url(#cuB)" fill-opacity="1.00"/>
<circle cx="389.09" cy="148.20" r="4.56" fill="url(#cuB)" fill-opacity="1.00"/>
<circle cx="389.09" cy="158.79" r="4.56" fill="url(#cuB)" fill-opacity="1.00"/>
<circle cx="389.09" cy="169.39" r="4.56" fill="url(#cuB)" fill-opacity="1.00"/>
<circle cx="389.09" cy="179.98" r="4.56" fill="url(#cuB)" fill-opacity="1.00"/>
<circle cx="389.09" cy="190.57" r="4.56" fill="url(#cuB)" fill-opacity="1.00"/>
<circle cx="389.09" cy="201.17" r="4.56" fill="url(#cuB)" fill-opacity="1.00"/>
<circle cx="389.57" cy="8.20" r="4.57" fill="url(#cuB)" fill-opacity="1.00"/>
<circle cx="389.57" cy="19.05" r="4.57" fill="url(#cuB)" fill-opacity="1.00"/>
<circle cx="389.57" cy="29.89" r="4.57" fill="url(#cuB)" fill-opacity="1.00"/>
<circle cx="389.57" cy="40.74" r="4.57" fill="url(#cuB)" fill-opacity="1.00"/>
<circle cx="389.57" cy="51.58" r="4.57" fill="url(#cuB)" fill-opacity="1.00"/>
<circle cx="389.57" cy="62.43" r="4.57" fill="url(#cuB)" fill-opacity="1.00"/>
<circle cx="389.57" cy="73.28" r="4.57" fill="url(#cuB)" fill-opacity="1.00"/>
<circle cx="389.57" cy="84.12" r="4.57" fill="url(#cuB)" fill-opacity="1.00"/>
<circle cx="389.57" cy="94.97" r="4.57" fill="url(#cuB)" fill-opacity="1.00"/>
<circle cx="389.57" cy="105.81" r="4.57" fill="url(#cuB)" fill-opacity="1.00"/>
<circle cx="389.57" cy="116.66" r="4.57" fill="url(#cuB)" fill-opacity="1.00"/>
<circle cx="389.57" cy="127.50" r="4.57" fill="url(#cuB)" fill-opacity="1.00"/>
<circle cx="389.57" cy="138.35" r="4.57" fill="url(#cuB)" fill-opacity="1.00"/>
<circle cx="389.57" cy="149.20" r="4.57" fill="url(#cuB)" fill-opacity="1.00"/>
<circle cx="389.57" cy="160.04" r="4.57" fill="url(#cuB)" fill-opacity="1.00"/>
<circle cx="389.57" cy="170.89" r="4.57" fill="url(#cuB)" fill-opacity="1.00"/>
<circle cx="389.57" cy="181.74" r="4.57" fill="url(#cuB)" fill-opacity="1.00"/>
<circle cx="389.57" cy="192.58" r="4.57" fill="url(#cuB)" fill-opacity="1.00"/>
<circle cx="389.57" cy="203.43" r="4.57" fill="url(#cuB)" fill-opacity="1.00"/>
<circle cx="390.05" cy="5.93" r="4.58" fill="url(#cuB)" fill-opacity="1.00"/>
<circle cx="390.05" cy="17.03" r="4.58" fill="url(#cuB)" fill-opacity="1.00"/>
<circle cx="390.05" cy="28.13" r="4.58" fill="url(#cuB)" fill-opacity="1.00"/>
<circle cx="390.05" cy="39.22" r="4.58" fill="url(#cuB)" fill-opacity="1.00"/>
<circle cx="390.05" cy="50.32" r="4.58" fill="url(#cuB)" fill-opacity="1.00"/>
<circle cx="390.05" cy="61.42" r="4.58" fill="url(#cuB)" fill-opacity="1.00"/>
<circle cx="390.05" cy="72.52" r="4.58" fill="url(#cuB)" fill-opacity="1.00"/>
<circle cx="390.05" cy="83.61" r="4.58" fill="url(#cuB)" fill-opacity="1.00"/>
<circle cx="390.05" cy="94.71" r="4.58" fill="url(#cuB)" fill-opacity="1.00"/>
<circle cx="390.05" cy="105.81" r="4.58" fill="url(#cuB)" fill-opacity="1.00"/>
<circle cx="390.05" cy="116.91" r="4.58" fill="url(#cuB)" fill-opacity="1.00"/>
<circle cx="390.05" cy="128.00" r="4.58" fill="url(#cuB)" fill-opacity="1.00"/>
<circle cx="390.05" cy="139.10" r="4.58" fill="url(#cuB)" fill-opacity="1.00"/>
<circle cx="390.05" cy="150.20" r="4.58" fill="url(#cuB)" fill-opacity="1.00"/>
<circle cx="390.05" cy="161.30" r="4.58" fill="url(#cuB)" fill-opacity="1.00"/>
<circle cx="390.05" cy="172.39" r="4.58" fill="url(#cuB)" fill-opacity="1.00"/>
<circle cx="390.05" cy="183.49" r="4.58" fill="url(#cuB)" fill-opacity="1.00"/>
<circle cx="390.05" cy="194.59" r="4.58" fill="url(#cuB)" fill-opacity="1.00"/>
<circle cx="390.05" cy="205.68" r="4.58" fill="url(#cuB)" fill-opacity="1.00"/>
<circle cx="390.52" cy="3.67" r="4.59" fill="url(#cuB)" fill-opacity="1.00"/>
<circle cx="390.52" cy="15.02" r="4.59" fill="url(#cuB)" fill-opacity="1.00"/>
<circle cx="390.52" cy="26.36" r="4.59" fill="url(#cuB)" fill-opacity="1.00"/>
<circle cx="390.52" cy="37.71" r="4.59" fill="url(#cuB)" fill-opacity="1.00"/>
<circle cx="390.52" cy="49.06" r="4.59" fill="url(#cuB)" fill-opacity="1.00"/>
<circle cx="390.52" cy="60.41" r="4.59" fill="url(#cuB)" fill-opacity="1.00"/>
<circle cx="390.52" cy="71.76" r="4.59" fill="url(#cuB)" fill-opacity="1.00"/>
<circle cx="390.52" cy="83.11" r="4.59" fill="url(#cuB)" fill-opacity="1.00"/>
<circle cx="390.52" cy="94.46" r="4.59" fill="url(#cuB)" fill-opacity="1.00"/>
<circle cx="390.52" cy="105.80" r="4.59" fill="url(#cuB)" fill-opacity="1.00"/>
<circle cx="390.52" cy="117.15" r="4.59" fill="url(#cuB)" fill-opacity="1.00"/>
<circle cx="390.52" cy="128.50" r="4.59" fill="url(#cuB)" fill-opacity="1.00"/>
<circle cx="390.52" cy="139.85" r="4.59" fill="url(#cuB)" fill-opacity="1.00"/>
<circle cx="390.52" cy="151.20" r="4.59" fill="url(#cuB)" fill-opacity="1.00"/>
<circle cx="390.52" cy="162.55" r="4.59" fill="url(#cuB)" fill-opacity="1.00"/>
<circle cx="390.52" cy="173.90" r="4.59" fill="url(#cuB)" fill-opacity="1.00"/>
<circle cx="390.52" cy="185.25" r="4.59" fill="url(#cuB)" fill-opacity="1.00"/>
<circle cx="390.52" cy="196.59" r="4.59" fill="url(#cuB)" fill-opacity="1.00"/>
<circle cx="390.52" cy="207.94" r="4.59" fill="url(#cuB)" fill-opacity="1.00"/>
<path d="M385.6,73.5Q385.6,76.7 388.9,76.7Q385.6,76.7 385.6,80.0Q385.6,76.7 382.3,76.7Q385.6,76.7 385.6,73.5Z" fill="#fff" opacity="0.10"/>
<circle cx="385.6" cy="76.7" r="1.64" fill="#fff" opacity="0.10"/>
<path d="M385.6,84.2Q385.6,88.3 389.7,88.3Q385.6,88.3 385.6,92.4Q385.6,88.3 381.5,88.3Q385.6,88.3 385.6,84.2Z" fill="#fff" opacity="0.49"/>
<circle cx="385.6" cy="88.3" r="2.04" fill="#fff" opacity="0.49"/>
<path d="M385.6,95.2Q385.6,99.9 390.2,99.9Q385.6,99.9 385.6,104.5Q385.6,99.9 381.0,99.9Q385.6,99.9 385.6,95.2Z" fill="#fff" opacity="0.76"/>
<circle cx="385.6" cy="99.9" r="2.32" fill="#fff" opacity="0.76"/>
<path d="M385.6,106.8Q385.6,111.4 390.3,111.4Q385.6,111.4 385.6,116.1Q385.6,111.4 380.9,111.4Q385.6,111.4 385.6,106.8Z" fill="#fff" opacity="0.77"/>
<circle cx="385.6" cy="111.4" r="2.33" fill="#fff" opacity="0.77"/>
<path d="M385.6,118.9Q385.6,123.0 389.7,123.0Q385.6,123.0 385.6,127.1Q385.6,123.0 381.5,123.0Q385.6,123.0 385.6,118.9Z" fill="#fff" opacity="0.51"/>
<circle cx="385.6" cy="123.0" r="2.06" fill="#fff" opacity="0.51"/>
<path d="M385.6,131.3Q385.6,134.6 388.9,134.6Q385.6,134.6 385.6,137.9Q385.6,134.6 382.3,134.6Q385.6,134.6 385.6,131.3Z" fill="#fff" opacity="0.12"/>
<circle cx="385.6" cy="134.6" r="1.66" fill="#fff" opacity="0.12"/>
<circle cx="391.00" cy="1.40" r="4.60" fill="url(#cuF)"/>
<circle cx="391.00" cy="13.00" r="4.60" fill="url(#cuF)"/>
<circle cx="391.00" cy="24.60" r="4.60" fill="url(#cuF)"/>
<circle cx="391.00" cy="36.20" r="4.60" fill="url(#cuF)"/>
<circle cx="391.00" cy="47.80" r="4.60" fill="url(#cuF)"/>
<circle cx="391.00" cy="59.40" r="4.60" fill="url(#cuF)"/>
<circle cx="391.00" cy="71.00" r="4.60" fill="url(#cuF)"/>
<circle cx="391.00" cy="82.60" r="4.60" fill="url(#cuF)"/>
<circle cx="391.00" cy="94.20" r="4.60" fill="url(#cuF)"/>
<circle cx="391.00" cy="105.80" r="4.60" fill="url(#cuF)"/>
<circle cx="391.00" cy="117.40" r="4.60" fill="url(#cuF)"/>
<circle cx="391.00" cy="129.00" r="4.60" fill="url(#cuF)"/>
<circle cx="391.00" cy="140.60" r="4.60" fill="url(#cuF)"/>
<circle cx="391.00" cy="152.20" r="4.60" fill="url(#cuF)"/>
<circle cx="391.00" cy="163.80" r="4.60" fill="url(#cuF)"/>
<circle cx="391.00" cy="175.40" r="4.60" fill="url(#cuF)"/>
<circle cx="391.00" cy="187.00" r="4.60" fill="url(#cuF)"/>
<circle cx="391.00" cy="198.60" r="4.60" fill="url(#cuF)"/>
<circle cx="391.00" cy="210.20" r="4.60" fill="url(#cuF)"/>
<circle cx="396.38" cy="30.10" r="4.71" fill="url(#cuB)" fill-opacity="0.76"/>
<circle cx="396.38" cy="48.98" r="4.71" fill="url(#cuB)" fill-opacity="0.76"/>
<circle cx="396.38" cy="67.85" r="4.71" fill="url(#cuB)" fill-opacity="0.76"/>
<circle cx="396.38" cy="86.72" r="4.71" fill="url(#cuB)" fill-opacity="0.76"/>
<circle cx="396.38" cy="105.59" r="4.71" fill="url(#cuB)" fill-opacity="0.76"/>
<circle cx="396.38" cy="124.47" r="4.71" fill="url(#cuB)" fill-opacity="0.76"/>
<circle cx="396.38" cy="143.34" r="4.71" fill="url(#cuB)" fill-opacity="0.76"/>
<circle cx="396.38" cy="162.21" r="4.71" fill="url(#cuB)" fill-opacity="0.76"/>
<circle cx="396.38" cy="181.09" r="4.71" fill="url(#cuB)" fill-opacity="0.76"/>
<circle cx="397.45" cy="27.14" r="4.72" fill="url(#cuB)" fill-opacity="0.79"/>
<circle cx="397.45" cy="46.75" r="4.72" fill="url(#cuB)" fill-opacity="0.79"/>
<circle cx="397.45" cy="66.36" r="4.72" fill="url(#cuB)" fill-opacity="0.79"/>
<circle cx="397.45" cy="85.97" r="4.72" fill="url(#cuB)" fill-opacity="0.79"/>
<circle cx="397.45" cy="105.58" r="4.72" fill="url(#cuB)" fill-opacity="0.79"/>
<circle cx="397.45" cy="125.19" r="4.72" fill="url(#cuB)" fill-opacity="0.79"/>
<circle cx="397.45" cy="144.80" r="4.72" fill="url(#cuB)" fill-opacity="0.79"/>
<circle cx="397.45" cy="164.41" r="4.72" fill="url(#cuB)" fill-opacity="0.79"/>
<circle cx="397.45" cy="184.02" r="4.72" fill="url(#cuB)" fill-opacity="0.79"/>
<circle cx="398.52" cy="24.17" r="4.74" fill="url(#cuB)" fill-opacity="0.82"/>
<circle cx="398.52" cy="44.52" r="4.74" fill="url(#cuB)" fill-opacity="0.82"/>
<circle cx="398.52" cy="64.87" r="4.74" fill="url(#cuB)" fill-opacity="0.82"/>
<circle cx="398.52" cy="85.21" r="4.74" fill="url(#cuB)" fill-opacity="0.82"/>
<circle cx="398.52" cy="105.56" r="4.74" fill="url(#cuB)" fill-opacity="0.82"/>
<circle cx="398.52" cy="125.91" r="4.74" fill="url(#cuB)" fill-opacity="0.82"/>
<circle cx="398.52" cy="146.26" r="4.74" fill="url(#cuB)" fill-opacity="0.82"/>
<circle cx="398.52" cy="166.61" r="4.74" fill="url(#cuB)" fill-opacity="0.82"/>
<circle cx="398.52" cy="186.96" r="4.74" fill="url(#cuB)" fill-opacity="0.82"/>
<circle cx="399.59" cy="21.20" r="4.75" fill="url(#cuB)" fill-opacity="0.85"/>
<circle cx="399.59" cy="42.29" r="4.75" fill="url(#cuB)" fill-opacity="0.85"/>
<circle cx="399.59" cy="63.37" r="4.75" fill="url(#cuB)" fill-opacity="0.85"/>
<circle cx="399.59" cy="84.46" r="4.75" fill="url(#cuB)" fill-opacity="0.85"/>
<circle cx="399.59" cy="105.55" r="4.75" fill="url(#cuB)" fill-opacity="0.85"/>
<circle cx="399.59" cy="126.63" r="4.75" fill="url(#cuB)" fill-opacity="0.85"/>
<circle cx="399.59" cy="147.72" r="4.75" fill="url(#cuB)" fill-opacity="0.85"/>
<circle cx="399.59" cy="168.81" r="4.75" fill="url(#cuB)" fill-opacity="0.85"/>
<circle cx="399.59" cy="189.89" r="4.75" fill="url(#cuB)" fill-opacity="0.85"/>
<circle cx="400.66" cy="18.23" r="4.77" fill="url(#cuB)" fill-opacity="0.89"/>
<circle cx="400.66" cy="40.06" r="4.77" fill="url(#cuB)" fill-opacity="0.89"/>
<circle cx="400.66" cy="61.88" r="4.77" fill="url(#cuB)" fill-opacity="0.89"/>
<circle cx="400.66" cy="83.71" r="4.77" fill="url(#cuB)" fill-opacity="0.89"/>
<circle cx="400.66" cy="105.53" r="4.77" fill="url(#cuB)" fill-opacity="0.89"/>
<circle cx="400.66" cy="127.36" r="4.77" fill="url(#cuB)" fill-opacity="0.89"/>
<circle cx="400.66" cy="149.18" r="4.77" fill="url(#cuB)" fill-opacity="0.89"/>
<circle cx="400.66" cy="171.00" r="4.77" fill="url(#cuB)" fill-opacity="0.89"/>
<circle cx="400.66" cy="192.83" r="4.77" fill="url(#cuB)" fill-opacity="0.89"/>
<circle cx="401.73" cy="15.27" r="4.78" fill="url(#cuB)" fill-opacity="0.92"/>
<circle cx="401.73" cy="37.83" r="4.78" fill="url(#cuB)" fill-opacity="0.92"/>
<circle cx="401.73" cy="60.39" r="4.78" fill="url(#cuB)" fill-opacity="0.92"/>
<circle cx="401.73" cy="82.95" r="4.78" fill="url(#cuB)" fill-opacity="0.92"/>
<circle cx="401.73" cy="105.52" r="4.78" fill="url(#cuB)" fill-opacity="0.92"/>
<circle cx="401.73" cy="128.08" r="4.78" fill="url(#cuB)" fill-opacity="0.92"/>
<circle cx="401.73" cy="150.64" r="4.78" fill="url(#cuB)" fill-opacity="0.92"/>
<circle cx="401.73" cy="173.20" r="4.78" fill="url(#cuB)" fill-opacity="0.92"/>
<circle cx="401.73" cy="195.76" r="4.78" fill="url(#cuB)" fill-opacity="0.92"/>
<circle cx="402.80" cy="12.30" r="4.80" fill="url(#cuF)"/>
<circle cx="402.80" cy="35.60" r="4.80" fill="url(#cuF)"/>
<circle cx="402.80" cy="58.90" r="4.80" fill="url(#cuF)"/>
<circle cx="402.80" cy="82.20" r="4.80" fill="url(#cuF)"/>
<circle cx="402.80" cy="105.50" r="4.80" fill="url(#cuF)"/>
<circle cx="402.80" cy="128.80" r="4.80" fill="url(#cuF)"/>
<circle cx="402.80" cy="152.10" r="4.80" fill="url(#cuF)"/>
<circle cx="402.80" cy="175.40" r="4.80" fill="url(#cuF)"/>
<circle cx="402.80" cy="198.70" r="4.80" fill="url(#cuF)"/>
<circle cx="416.04" cy="19.06" r="4.62" fill="url(#brB)" fill-opacity="0.72"/>
<circle cx="416.04" cy="38.21" r="4.62" fill="url(#brB)" fill-opacity="0.72"/>
<circle cx="416.04" cy="57.36" r="4.62" fill="url(#brB)" fill-opacity="0.72"/>
<circle cx="416.04" cy="76.52" r="4.62" fill="url(#brB)" fill-opacity="0.72"/>
<circle cx="416.04" cy="95.67" r="4.62" fill="url(#brB)" fill-opacity="0.72"/>
<circle cx="416.04" cy="114.82" r="4.62" fill="url(#brB)" fill-opacity="0.72"/>
<circle cx="416.04" cy="133.97" r="4.62" fill="url(#brB)" fill-opacity="0.72"/>
<circle cx="416.04" cy="153.12" r="4.62" fill="url(#brB)" fill-opacity="0.72"/>
<circle cx="416.04" cy="172.28" r="4.62" fill="url(#brB)" fill-opacity="0.72"/>
<circle cx="416.04" cy="191.43" r="4.62" fill="url(#brB)" fill-opacity="0.72"/>
<circle cx="417.53" cy="16.30" r="4.64" fill="url(#brB)" fill-opacity="0.75"/>
<circle cx="417.53" cy="36.06" r="4.64" fill="url(#brB)" fill-opacity="0.75"/>
<circle cx="417.53" cy="55.82" r="4.64" fill="url(#brB)" fill-opacity="0.75"/>
<circle cx="417.53" cy="75.58" r="4.64" fill="url(#brB)" fill-opacity="0.75"/>
<circle cx="417.53" cy="95.34" r="4.64" fill="url(#brB)" fill-opacity="0.75"/>
<circle cx="417.53" cy="115.10" r="4.64" fill="url(#brB)" fill-opacity="0.75"/>
<circle cx="417.53" cy="134.86" r="4.64" fill="url(#brB)" fill-opacity="0.75"/>
<circle cx="417.53" cy="154.62" r="4.64" fill="url(#brB)" fill-opacity="0.75"/>
<circle cx="417.53" cy="174.38" r="4.64" fill="url(#brB)" fill-opacity="0.75"/>
<circle cx="417.53" cy="194.14" r="4.64" fill="url(#brB)" fill-opacity="0.75"/>
<circle cx="419.03" cy="13.54" r="4.65" fill="url(#brB)" fill-opacity="0.78"/>
<circle cx="419.03" cy="33.91" r="4.65" fill="url(#brB)" fill-opacity="0.78"/>
<circle cx="419.03" cy="54.28" r="4.65" fill="url(#brB)" fill-opacity="0.78"/>
<circle cx="419.03" cy="74.64" r="4.65" fill="url(#brB)" fill-opacity="0.78"/>
<circle cx="419.03" cy="95.01" r="4.65" fill="url(#brB)" fill-opacity="0.78"/>
<circle cx="419.03" cy="115.38" r="4.65" fill="url(#brB)" fill-opacity="0.78"/>
<circle cx="419.03" cy="135.75" r="4.65" fill="url(#brB)" fill-opacity="0.78"/>
<circle cx="419.03" cy="156.12" r="4.65" fill="url(#brB)" fill-opacity="0.78"/>
<circle cx="419.03" cy="176.48" r="4.65" fill="url(#brB)" fill-opacity="0.78"/>
<circle cx="419.03" cy="196.85" r="4.65" fill="url(#brB)" fill-opacity="0.78"/>
<circle cx="420.52" cy="10.78" r="4.66" fill="url(#brB)" fill-opacity="0.81"/>
<circle cx="420.52" cy="31.76" r="4.66" fill="url(#brB)" fill-opacity="0.81"/>
<circle cx="420.52" cy="52.73" r="4.66" fill="url(#brB)" fill-opacity="0.81"/>
<circle cx="420.52" cy="73.71" r="4.66" fill="url(#brB)" fill-opacity="0.81"/>
<circle cx="420.52" cy="94.68" r="4.66" fill="url(#brB)" fill-opacity="0.81"/>
<circle cx="420.52" cy="115.66" r="4.66" fill="url(#brB)" fill-opacity="0.81"/>
<circle cx="420.52" cy="136.64" r="4.66" fill="url(#brB)" fill-opacity="0.81"/>
<circle cx="420.52" cy="157.61" r="4.66" fill="url(#brB)" fill-opacity="0.81"/>
<circle cx="420.52" cy="178.59" r="4.66" fill="url(#brB)" fill-opacity="0.81"/>
<circle cx="420.52" cy="199.56" r="4.66" fill="url(#brB)" fill-opacity="0.81"/>
<circle cx="422.01" cy="8.02" r="4.67" fill="url(#brB)" fill-opacity="0.84"/>
<circle cx="422.01" cy="29.60" r="4.67" fill="url(#brB)" fill-opacity="0.84"/>
<circle cx="422.01" cy="51.19" r="4.67" fill="url(#brB)" fill-opacity="0.84"/>
<circle cx="422.01" cy="72.77" r="4.67" fill="url(#brB)" fill-opacity="0.84"/>
<circle cx="422.01" cy="94.36" r="4.67" fill="url(#brB)" fill-opacity="0.84"/>
<circle cx="422.01" cy="115.94" r="4.67" fill="url(#brB)" fill-opacity="0.84"/>
<circle cx="422.01" cy="137.52" r="4.67" fill="url(#brB)" fill-opacity="0.84"/>
<circle cx="422.01" cy="159.11" r="4.67" fill="url(#brB)" fill-opacity="0.84"/>
<circle cx="422.01" cy="180.69" r="4.67" fill="url(#brB)" fill-opacity="0.84"/>
<circle cx="422.01" cy="202.28" r="4.67" fill="url(#brB)" fill-opacity="0.84"/>
<circle cx="423.51" cy="5.26" r="4.69" fill="url(#brB)" fill-opacity="0.87"/>
<circle cx="423.51" cy="27.45" r="4.69" fill="url(#brB)" fill-opacity="0.87"/>
<circle cx="423.51" cy="49.64" r="4.69" fill="url(#brB)" fill-opacity="0.87"/>
<circle cx="423.51" cy="71.84" r="4.69" fill="url(#brB)" fill-opacity="0.87"/>
<circle cx="423.51" cy="94.03" r="4.69" fill="url(#brB)" fill-opacity="0.87"/>
<circle cx="423.51" cy="116.22" r="4.69" fill="url(#brB)" fill-opacity="0.87"/>
<circle cx="423.51" cy="138.41" r="4.69" fill="url(#brB)" fill-opacity="0.87"/>
<circle cx="423.51" cy="160.60" r="4.69" fill="url(#brB)" fill-opacity="0.87"/>
<circle cx="423.51" cy="182.80" r="4.69" fill="url(#brB)" fill-opacity="0.87"/>
<circle cx="423.51" cy="204.99" r="4.69" fill="url(#brB)" fill-opacity="0.87"/>
<circle cx="425.00" cy="2.50" r="4.70" fill="url(#brF)"/>
<circle cx="425.00" cy="25.30" r="4.70" fill="url(#brF)"/>
<circle cx="425.00" cy="48.10" r="4.70" fill="url(#brF)"/>
<circle cx="425.00" cy="70.90" r="4.70" fill="url(#brF)"/>
<circle cx="425.00" cy="93.70" r="4.70" fill="url(#brF)"/>
<circle cx="425.00" cy="116.50" r="4.70" fill="url(#brF)"/>
<circle cx="425.00" cy="139.30" r="4.70" fill="url(#brF)"/>
<circle cx="425.00" cy="162.10" r="4.70" fill="url(#brF)"/>
<circle cx="425.00" cy="184.90" r="4.70" fill="url(#brF)"/>
<circle cx="425.00" cy="207.70" r="4.70" fill="url(#brF)"/>
<path d="M444.9,18.0L446.3,23.6L452.0,22.5L453.4,28.1L459.1,27.0L460.5,32.6L466.2,31.5L467.7,37.1L473.4,36.0L474.8,41.6L480.5,40.4L481.9,46.1L487.6,44.9L489.0,50.6L494.7,49.4L496.2,55.0L501.9,53.9" fill="none" stroke="#909090" stroke-width="1.5" stroke-linejoin="round" opacity="1.0"/><circle cx="444.9" cy="18.0" r="1.12" fill="#909090" opacity="1.0"/><circle cx="452.0" cy="22.5" r="1.12" fill="#909090" opacity="1.0"/><circle cx="459.1" cy="27.0" r="1.12" fill="#909090" opacity="1.0"/><circle cx="466.2" cy="31.5" r="1.12" fill="#909090" opacity="1.0"/><circle cx="473.4" cy="36.0" r="1.12" fill="#909090" opacity="1.0"/><circle cx="480.5" cy="40.4" r="1.12" fill="#909090" opacity="1.0"/><circle cx="487.6" cy="44.9" r="1.12" fill="#909090" opacity="1.0"/><circle cx="494.7" cy="49.4" r="1.12" fill="#909090" opacity="1.0"/><circle cx="501.9" cy="53.9" r="1.12" fill="#909090" opacity="1.0"/><circle cx="443.8" cy="19.7" r="1.80" fill="#3a50a0" opacity="1.0"/><path d="M441.3,17.7L446.3,21.7M441.3,22.2L445.8,17.2" stroke="#909090" stroke-width="1.5" opacity="1.0"/>
<path d="M484.8,29.0L488.2,29.4L489.9,26.5L493.3,26.9L495.1,24.0L498.4,24.4L500.2,21.5L503.5,21.9L505.3,19.0L508.7,19.4L510.5,16.6L513.8,16.9L515.6,14.1L518.9,14.5L520.7,11.6" fill="none" stroke="#cccccc" stroke-width="0.8" stroke-linejoin="round" opacity="0.9"/><circle cx="484.8" cy="29.0" r="0.60" fill="#cccccc" opacity="0.9"/><circle cx="489.9" cy="26.5" r="0.60" fill="#cccccc" opacity="0.9"/><circle cx="495.1" cy="24.0" r="0.60" fill="#cccccc" opacity="0.9"/><circle cx="500.2" cy="21.5" r="0.60" fill="#cccccc" opacity="0.9"/><circle cx="505.3" cy="19.0" r="0.60" fill="#cccccc" opacity="0.9"/><circle cx="510.5" cy="16.6" r="0.60" fill="#cccccc" opacity="0.9"/><circle cx="515.6" cy="14.1" r="0.60" fill="#cccccc" opacity="0.9"/><circle cx="520.7" cy="11.6" r="0.60" fill="#cccccc" opacity="0.9"/><circle cx="485.2" cy="29.8" r="0.96" fill="#3a50a0" opacity="0.9"/><path d="M482.7,27.8L487.7,31.8M482.7,32.3L487.2,27.3" stroke="#cccccc" stroke-width="0.8" opacity="0.9"/>
<path d="M464.3,58.9L466.5,62.2L469.9,60.3L472.1,63.5L475.6,61.7L477.8,64.9L481.2,63.1L483.4,66.3L486.9,64.4L489.1,67.7L492.5,65.8L494.7,69.0L498.1,67.2L500.3,70.4L503.8,68.6L506.0,71.8L509.4,69.9" fill="none" stroke="#a0a0a0" stroke-width="1.0" stroke-linejoin="round" opacity="1.0"/><circle cx="464.3" cy="58.9" r="0.75" fill="#a0a0a0" opacity="1.0"/><circle cx="469.9" cy="60.3" r="0.75" fill="#a0a0a0" opacity="1.0"/><circle cx="475.6" cy="61.7" r="0.75" fill="#a0a0a0" opacity="1.0"/><circle cx="481.2" cy="63.1" r="0.75" fill="#a0a0a0" opacity="1.0"/><circle cx="486.9" cy="64.4" r="0.75" fill="#a0a0a0" opacity="1.0"/><circle cx="492.5" cy="65.8" r="0.75" fill="#a0a0a0" opacity="1.0"/><circle cx="498.1" cy="67.2" r="0.75" fill="#a0a0a0" opacity="1.0"/><circle cx="503.8" cy="68.6" r="0.75" fill="#a0a0a0" opacity="1.0"/><circle cx="509.4" cy="69.9" r="0.75" fill="#a0a0a0" opacity="1.0"/><circle cx="464.0" cy="60.2" r="1.20" fill="#3a50a0" opacity="1.0"/><path d="M461.5,58.2L466.5,62.2M461.5,62.7L466.0,57.7" stroke="#a0a0a0" stroke-width="1.0" opacity="1.0"/>
<path d="M461.3,86.9L464.1,88.8L467.0,87.2L469.7,89.1L472.6,87.4L475.4,89.3L478.3,87.7L481.0,89.6L483.9,87.9L486.7,89.9L489.6,88.2L492.3,90.1L495.2,88.4L497.9,90.4L500.8,88.7" fill="none" stroke="#c8c8c8" stroke-width="0.8" stroke-linejoin="round" opacity="0.9"/><circle cx="461.3" cy="86.9" r="0.60" fill="#c8c8c8" opacity="0.9"/><circle cx="467.0" cy="87.2" r="0.60" fill="#c8c8c8" opacity="0.9"/><circle cx="472.6" cy="87.4" r="0.60" fill="#c8c8c8" opacity="0.9"/><circle cx="478.3" cy="87.7" r="0.60" fill="#c8c8c8" opacity="0.9"/><circle cx="483.9" cy="87.9" r="0.60" fill="#c8c8c8" opacity="0.9"/><circle cx="489.6" cy="88.2" r="0.60" fill="#c8c8c8" opacity="0.9"/><circle cx="495.2" cy="88.4" r="0.60" fill="#c8c8c8" opacity="0.9"/><circle cx="500.8" cy="88.7" r="0.60" fill="#c8c8c8" opacity="0.9"/><circle cx="461.3" cy="87.8" r="0.96" fill="#3a50a0" opacity="0.9"/><path d="M458.8,85.8L463.8,89.8M458.8,90.3L463.3,85.3" stroke="#c8c8c8" stroke-width="0.8" opacity="0.9"/>
<path d="M438.4,101.2L440.0,104.0L443.1,103.5L444.7,106.3L447.8,105.9L449.4,108.7L452.6,108.2L454.1,111.0L457.3,110.6L458.8,113.4L462.0,112.9L463.5,115.7L466.7,115.3" fill="none" stroke="#9a9a9a" stroke-width="0.9" stroke-linejoin="round" opacity="1.0"/><circle cx="438.4" cy="101.2" r="0.68" fill="#9a9a9a" opacity="1.0"/><circle cx="443.1" cy="103.5" r="0.68" fill="#9a9a9a" opacity="1.0"/><circle cx="447.8" cy="105.9" r="0.68" fill="#9a9a9a" opacity="1.0"/><circle cx="452.6" cy="108.2" r="0.68" fill="#9a9a9a" opacity="1.0"/><circle cx="457.3" cy="110.6" r="0.68" fill="#9a9a9a" opacity="1.0"/><circle cx="462.0" cy="112.9" r="0.68" fill="#9a9a9a" opacity="1.0"/><circle cx="466.7" cy="115.3" r="0.68" fill="#9a9a9a" opacity="1.0"/><circle cx="438.0" cy="102.0" r="1.08" fill="#3a50a0" opacity="1.0"/><path d="M435.5,100.0L440.5,104.0M435.5,104.5L440.0,99.5" stroke="#9a9a9a" stroke-width="0.9" opacity="1.0"/>
<path d="M455.7,138.4L461.0,141.0L464.1,136.0L469.4,138.6L472.5,133.6L477.8,136.3L481.0,131.2L486.3,133.9L489.4,128.8L494.7,131.5L497.8,126.4L503.2,129.1L506.3,124.1L511.6,126.7L514.7,121.7L520.0,124.3L523.2,119.3" fill="none" stroke="#b4b4b4" stroke-width="1.3" stroke-linejoin="round" opacity="1.0"/><circle cx="455.7" cy="138.4" r="0.98" fill="#b4b4b4" opacity="1.0"/><circle cx="464.1" cy="136.0" r="0.98" fill="#b4b4b4" opacity="1.0"/><circle cx="472.5" cy="133.6" r="0.98" fill="#b4b4b4" opacity="1.0"/><circle cx="481.0" cy="131.2" r="0.98" fill="#b4b4b4" opacity="1.0"/><circle cx="489.4" cy="128.8" r="0.98" fill="#b4b4b4" opacity="1.0"/><circle cx="497.8" cy="126.4" r="0.98" fill="#b4b4b4" opacity="1.0"/><circle cx="506.3" cy="124.1" r="0.98" fill="#b4b4b4" opacity="1.0"/><circle cx="514.7" cy="121.7" r="0.98" fill="#b4b4b4" opacity="1.0"/><circle cx="523.2" cy="119.3" r="0.98" fill="#b4b4b4" opacity="1.0"/><circle cx="456.2" cy="140.3" r="1.56" fill="#3a50a0" opacity="1.0"/><path d="M453.7,138.3L458.7,142.3M453.7,142.8L458.2,137.8" stroke="#b4b4b4" stroke-width="1.3" opacity="1.0"/>
<path d="M472.2,147.3L475.3,149.1L478.0,146.9L481.0,148.7L483.8,146.6L486.8,148.4L489.6,146.2L492.6,148.0L495.4,145.8L498.4,147.6L501.2,145.4L504.2,147.2L507.0,145.1L510.0,146.9L512.7,144.7L515.8,146.5L518.5,144.3" fill="none" stroke="#8a8a8a" stroke-width="1.0" stroke-linejoin="round" opacity="1.0"/><circle cx="472.2" cy="147.3" r="0.75" fill="#8a8a8a" opacity="1.0"/><circle cx="478.0" cy="146.9" r="0.75" fill="#8a8a8a" opacity="1.0"/><circle cx="483.8" cy="146.6" r="0.75" fill="#8a8a8a" opacity="1.0"/><circle cx="489.6" cy="146.2" r="0.75" fill="#8a8a8a" opacity="1.0"/><circle cx="495.4" cy="145.8" r="0.75" fill="#8a8a8a" opacity="1.0"/><circle cx="501.2" cy="145.4" r="0.75" fill="#8a8a8a" opacity="1.0"/><circle cx="507.0" cy="145.1" r="0.75" fill="#8a8a8a" opacity="1.0"/><circle cx="512.7" cy="144.7" r="0.75" fill="#8a8a8a" opacity="1.0"/><circle cx="518.5" cy="144.3" r="0.75" fill="#8a8a8a" opacity="1.0"/><circle cx="472.3" cy="148.3" r="1.20" fill="#3a50a0" opacity="1.0"/><path d="M469.8,146.3L474.8,150.3M469.8,150.8L474.3,145.8" stroke="#8a8a8a" stroke-width="1.0" opacity="1.0"/>
<path d="M497.9,135.5L500.1,138.5L503.7,138.2L505.9,141.1L509.6,140.8L511.8,143.8L515.5,143.5L517.7,146.5L521.3,146.2L523.5,149.2L527.2,148.9L529.4,151.9L533.1,151.6" fill="none" stroke="#c8c8c8" stroke-width="0.8" stroke-linejoin="round" opacity="0.9"/><circle cx="497.9" cy="135.5" r="0.60" fill="#c8c8c8" opacity="0.9"/><circle cx="503.7" cy="138.2" r="0.60" fill="#c8c8c8" opacity="0.9"/><circle cx="509.6" cy="140.8" r="0.60" fill="#c8c8c8" opacity="0.9"/><circle cx="515.5" cy="143.5" r="0.60" fill="#c8c8c8" opacity="0.9"/><circle cx="521.3" cy="146.2" r="0.60" fill="#c8c8c8" opacity="0.9"/><circle cx="527.2" cy="148.9" r="0.60" fill="#c8c8c8" opacity="0.9"/><circle cx="533.1" cy="151.6" r="0.60" fill="#c8c8c8" opacity="0.9"/><circle cx="497.5" cy="136.3" r="0.96" fill="#3a50a0" opacity="0.9"/><path d="M495.0,134.3L500.0,138.3M495.0,138.8L499.5,133.8" stroke="#c8c8c8" stroke-width="0.8" opacity="0.9"/>
<path d="M438.1,168.6L440.7,170.6L443.7,169.0L446.4,171.0L449.3,169.5L452.0,171.5L454.9,169.9L457.6,171.9L460.5,170.3L463.2,172.3L466.1,170.7L468.8,172.8L471.8,171.2L474.4,173.2L477.4,171.6" fill="none" stroke="#c8c8c8" stroke-width="0.8" stroke-linejoin="round" opacity="0.9"/><circle cx="438.1" cy="168.6" r="0.60" fill="#c8c8c8" opacity="0.9"/><circle cx="443.7" cy="169.0" r="0.60" fill="#c8c8c8" opacity="0.9"/><circle cx="449.3" cy="169.5" r="0.60" fill="#c8c8c8" opacity="0.9"/><circle cx="454.9" cy="169.9" r="0.60" fill="#c8c8c8" opacity="0.9"/><circle cx="460.5" cy="170.3" r="0.60" fill="#c8c8c8" opacity="0.9"/><circle cx="466.1" cy="170.7" r="0.60" fill="#c8c8c8" opacity="0.9"/><circle cx="471.8" cy="171.2" r="0.60" fill="#c8c8c8" opacity="0.9"/><circle cx="477.4" cy="171.6" r="0.60" fill="#c8c8c8" opacity="0.9"/><circle cx="438.0" cy="169.5" r="0.96" fill="#3a50a0" opacity="0.9"/><path d="M435.5,167.5L440.5,171.5M435.5,172.0L440.0,167.0" stroke="#c8c8c8" stroke-width="0.8" opacity="0.9"/>
<path d="M436.2,191.9L440.2,196.0L445.1,193.0L449.0,197.2L453.9,194.2L457.8,198.3L462.7,195.3L466.7,199.4L471.5,196.4L475.5,200.5L480.4,197.5L484.3,201.7L489.2,198.7L493.1,202.8L498.0,199.8L502.0,203.9L506.8,200.9" fill="none" stroke="#a4a4a4" stroke-width="1.2" stroke-linejoin="round" opacity="1.0"/><circle cx="436.2" cy="191.9" r="0.90" fill="#a4a4a4" opacity="1.0"/><circle cx="445.1" cy="193.0" r="0.90" fill="#a4a4a4" opacity="1.0"/><circle cx="453.9" cy="194.2" r="0.90" fill="#a4a4a4" opacity="1.0"/><circle cx="462.7" cy="195.3" r="0.90" fill="#a4a4a4" opacity="1.0"/><circle cx="471.5" cy="196.4" r="0.90" fill="#a4a4a4" opacity="1.0"/><circle cx="480.4" cy="197.5" r="0.90" fill="#a4a4a4" opacity="1.0"/><circle cx="489.2" cy="198.7" r="0.90" fill="#a4a4a4" opacity="1.0"/><circle cx="498.0" cy="199.8" r="0.90" fill="#a4a4a4" opacity="1.0"/><circle cx="506.8" cy="200.9" r="0.90" fill="#a4a4a4" opacity="1.0"/><circle cx="436.0" cy="193.7" r="1.44" fill="#3a50a0" opacity="1.0"/><path d="M433.5,191.7L438.5,195.7M433.5,196.2L438.0,191.2" stroke="#a4a4a4" stroke-width="1.2" opacity="1.0"/>
</g>
<rect x="327.6" y="3.6" width="212.9" height="211.7" fill="none" stroke="#2a2a2a" stroke-width="1.2"/>
</svg>
</body></html>
